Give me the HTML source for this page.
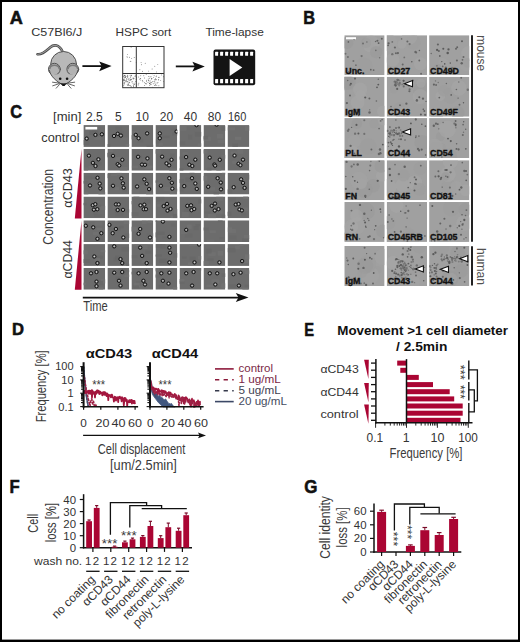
<!DOCTYPE html>
<html><head><meta charset="utf-8"><style>
html,body{margin:0;padding:0;background:#fff;}
svg{display:block;font-family:"Liberation Sans", sans-serif;}
</style></head><body>
<svg width="520" height="642" viewBox="0 0 520 642">
<rect x="0" y="0" width="520" height="642" fill="#000"/>
<rect x="2" y="2" width="516" height="637.6" fill="#fff"/>
<text x="9.8" y="23.8" font-size="17.5" text-anchor="start" font-weight="bold" fill="#111" textLength="13.1" lengthAdjust="spacingAndGlyphs" stroke="#111" stroke-width="0.55">A</text>
<text x="31.3" y="35.8" font-size="11.2" text-anchor="start" font-weight="normal" fill="#333" textLength="51" lengthAdjust="spacingAndGlyphs" >C57Bl6/J</text>
<text x="115.6" y="35.8" font-size="11.2" text-anchor="start" font-weight="normal" fill="#333" textLength="55.7" lengthAdjust="spacingAndGlyphs" >HSPC sort</text>
<text x="205.4" y="35.8" font-size="11.2" text-anchor="start" font-weight="normal" fill="#333" textLength="58.4" lengthAdjust="spacingAndGlyphs" >Time-lapse</text>
<g stroke-linejoin="round" stroke-linecap="round">
<path d="M37.5,54.2 C42,55 46,51 50,47.5 C54,44 59,44.5 62.5,51.5" fill="none" stroke="#444" stroke-width="2.6"/>
<path d="M37.5,54.2 C42,55 46,51 50,47.5 C54,44 59,44.5 62.5,51.5" fill="none" stroke="#9a9a9a" stroke-width="1.1"/>
<ellipse cx="63.6" cy="64.2" rx="12.9" ry="12.7" fill="#b8b8b8" stroke="#505050" stroke-width="1"/>
<circle cx="54.4" cy="69.2" r="5.9" fill="#b2b2b2" stroke="#505050" stroke-width="1"/>
<path d="M49.8,68.6 C50.4,64.2 58.4,64.2 59.199999999999996,68.6" fill="none" stroke="#7a7a7a" stroke-width="1.5"/>
<circle cx="72.8" cy="69.2" r="5.9" fill="#b2b2b2" stroke="#505050" stroke-width="1"/>
<path d="M68.2,68.6 C68.8,64.2 76.8,64.2 77.6,68.6" fill="none" stroke="#7a7a7a" stroke-width="1.5"/>
<path d="M49.4,70.5 C51,77 56,81 63.6,85.4 C71.2,81 76.2,77 77.8,70.5 C75,74.5 71,75.2 66.5,73.5 L63.6,72 L60.7,73.5 C56.2,75.2 52.2,74.5 49.4,70.5 Z" fill="#b8b8b8"/>
<path d="M49.4,70.5 C51,77 56,81 63.6,85.4 C71.2,81 76.2,77 77.8,70.5" fill="none" stroke="#505050" stroke-width="1"/>
<path d="M58,82.6 Q63.6,84 69.2,82.6 L63.6,86 Z" fill="#333"/>
<circle cx="60.2" cy="78.8" r="1.3" fill="#111"/><circle cx="67.1" cy="78.8" r="1.3" fill="#111"/>
<ellipse cx="63.6" cy="85" rx="1.6" ry="1.1" fill="#111"/>
<line x1="58.6" y1="83" x2="52.5" y2="82.2" stroke="#333" stroke-width="0.75"/>
<line x1="58.8" y1="83.8" x2="52.7" y2="85.8" stroke="#333" stroke-width="0.75"/>
<line x1="59.5" y1="84.5" x2="56.2" y2="88.2" stroke="#333" stroke-width="0.75"/>
<line x1="68.6" y1="83" x2="74.7" y2="82.2" stroke="#333" stroke-width="0.75"/>
<line x1="68.4" y1="83.8" x2="74.5" y2="85.8" stroke="#333" stroke-width="0.75"/>
<line x1="67.7" y1="84.5" x2="71" y2="88.2" stroke="#333" stroke-width="0.75"/>
</g>
<line x1="82.4" y1="66.1" x2="102.6" y2="66.1" stroke="#111" stroke-width="1.8"/>
<path d="M99.19999999999999,61.39999999999999 L111.6,66.1 L99.19999999999999,71.3 L101.6,66.1 Z" fill="#111"/>
<line x1="175.8" y1="66.4" x2="195.8" y2="66.4" stroke="#111" stroke-width="1.8"/>
<path d="M192.4,61.7 L204.8,66.4 L192.4,71.60000000000001 L194.8,66.4 Z" fill="#111"/>
<rect x="122.7" y="46.5" width="41.3" height="41.2" fill="#fff" stroke="#333" stroke-width="1"/>
<line x1="136.3" y1="46.5" x2="136.3" y2="87.7" stroke="#333" stroke-width="1"/>
<line x1="122.7" y1="73.5" x2="164" y2="73.5" stroke="#333" stroke-width="1"/>
<circle cx="127.4" cy="76.4" r="0.45" fill="#444"/>
<circle cx="131.3" cy="75.4" r="0.45" fill="#444"/>
<circle cx="129.9" cy="79.1" r="0.45" fill="#444"/>
<circle cx="124.2" cy="80.8" r="0.45" fill="#444"/>
<circle cx="123.9" cy="79.9" r="0.45" fill="#444"/>
<circle cx="124.3" cy="75.6" r="0.45" fill="#444"/>
<circle cx="128.6" cy="84.8" r="0.45" fill="#444"/>
<circle cx="125.0" cy="77.3" r="0.45" fill="#444"/>
<circle cx="131.0" cy="86.3" r="0.45" fill="#444"/>
<circle cx="130.4" cy="79.5" r="0.45" fill="#444"/>
<circle cx="135.2" cy="75.1" r="0.45" fill="#444"/>
<circle cx="133.8" cy="78.1" r="0.45" fill="#444"/>
<circle cx="125.2" cy="76.0" r="0.45" fill="#444"/>
<circle cx="127.2" cy="84.7" r="0.45" fill="#444"/>
<circle cx="125.7" cy="81.8" r="0.45" fill="#444"/>
<circle cx="131.2" cy="79.2" r="0.45" fill="#444"/>
<circle cx="130.1" cy="75.3" r="0.45" fill="#444"/>
<circle cx="124.2" cy="77.1" r="0.45" fill="#444"/>
<circle cx="131.7" cy="79.8" r="0.45" fill="#444"/>
<circle cx="127.3" cy="81.8" r="0.45" fill="#444"/>
<circle cx="128.9" cy="78.2" r="0.45" fill="#444"/>
<circle cx="133.0" cy="83.2" r="0.45" fill="#444"/>
<circle cx="126.4" cy="81.7" r="0.45" fill="#444"/>
<circle cx="129.8" cy="85.4" r="0.45" fill="#444"/>
<circle cx="132.3" cy="78.1" r="0.45" fill="#444"/>
<circle cx="135.3" cy="76.0" r="0.45" fill="#444"/>
<circle cx="128.5" cy="84.0" r="0.45" fill="#444"/>
<circle cx="125.3" cy="80.6" r="0.45" fill="#444"/>
<circle cx="124.0" cy="82.9" r="0.45" fill="#444"/>
<circle cx="132.7" cy="81.7" r="0.45" fill="#444"/>
<circle cx="134.0" cy="78.4" r="0.45" fill="#444"/>
<circle cx="131.8" cy="81.9" r="0.45" fill="#444"/>
<circle cx="130.5" cy="80.2" r="0.45" fill="#444"/>
<circle cx="133.6" cy="86.3" r="0.45" fill="#444"/>
<circle cx="129.2" cy="82.8" r="0.45" fill="#444"/>
<circle cx="124.2" cy="83.3" r="0.45" fill="#444"/>
<circle cx="131.3" cy="86.9" r="0.45" fill="#444"/>
<circle cx="133.4" cy="78.1" r="0.45" fill="#444"/>
<circle cx="128.1" cy="82.9" r="0.45" fill="#444"/>
<circle cx="123.8" cy="80.3" r="0.45" fill="#444"/>
<circle cx="125.5" cy="76.0" r="0.45" fill="#444"/>
<circle cx="124.2" cy="84.1" r="0.45" fill="#444"/>
<circle cx="125.1" cy="77.6" r="0.45" fill="#444"/>
<circle cx="128.2" cy="85.4" r="0.45" fill="#444"/>
<circle cx="124.5" cy="80.1" r="0.45" fill="#444"/>
<circle cx="130.1" cy="85.5" r="0.45" fill="#444"/>
<circle cx="133.3" cy="85.3" r="0.45" fill="#444"/>
<circle cx="126.8" cy="79.7" r="0.45" fill="#444"/>
<circle cx="127.8" cy="85.6" r="0.45" fill="#444"/>
<circle cx="135.0" cy="76.4" r="0.45" fill="#444"/>
<circle cx="125.6" cy="77.4" r="0.45" fill="#444"/>
<circle cx="126.3" cy="80.6" r="0.45" fill="#444"/>
<circle cx="130.6" cy="77.8" r="0.45" fill="#444"/>
<circle cx="123.5" cy="79.7" r="0.45" fill="#444"/>
<circle cx="127.9" cy="81.6" r="0.45" fill="#444"/>
<circle cx="134.9" cy="83.1" r="0.45" fill="#444"/>
<circle cx="129.7" cy="82.2" r="0.45" fill="#444"/>
<circle cx="131.6" cy="75.2" r="0.45" fill="#444"/>
<circle cx="134.3" cy="84.2" r="0.45" fill="#444"/>
<circle cx="134.0" cy="84.5" r="0.45" fill="#444"/>
<circle cx="128.2" cy="79.5" r="0.45" fill="#444"/>
<circle cx="124.7" cy="82.4" r="0.45" fill="#444"/>
<circle cx="124.2" cy="75.3" r="0.45" fill="#444"/>
<circle cx="126.0" cy="76.5" r="0.45" fill="#444"/>
<circle cx="127.6" cy="75.2" r="0.45" fill="#444"/>
<circle cx="123.5" cy="76.4" r="0.45" fill="#444"/>
<circle cx="124.7" cy="79.0" r="0.45" fill="#444"/>
<circle cx="123.8" cy="85.4" r="0.45" fill="#444"/>
<circle cx="130.9" cy="76.4" r="0.45" fill="#444"/>
<circle cx="126.5" cy="78.8" r="0.45" fill="#444"/>
<circle cx="127.9" cy="76.0" r="0.45" fill="#444"/>
<circle cx="133.7" cy="86.9" r="0.45" fill="#444"/>
<circle cx="129.1" cy="80.5" r="0.45" fill="#444"/>
<circle cx="124.5" cy="75.8" r="0.45" fill="#444"/>
<circle cx="127.6" cy="77.8" r="0.45" fill="#444"/>
<circle cx="151.7" cy="78.8" r="0.45" fill="#444"/>
<circle cx="163.4" cy="81.6" r="0.45" fill="#444"/>
<circle cx="146.7" cy="80.2" r="0.45" fill="#444"/>
<circle cx="148.6" cy="80.3" r="0.45" fill="#444"/>
<circle cx="133.6" cy="78.9" r="0.45" fill="#444"/>
<circle cx="156.1" cy="76.8" r="0.45" fill="#444"/>
<circle cx="149.6" cy="83.6" r="0.45" fill="#444"/>
<circle cx="155.1" cy="85.3" r="0.45" fill="#444"/>
<circle cx="139.8" cy="79.4" r="0.45" fill="#444"/>
<circle cx="148.0" cy="82.5" r="0.45" fill="#444"/>
<circle cx="156.6" cy="71.9" r="0.45" fill="#444"/>
<circle cx="156.5" cy="75.9" r="0.45" fill="#444"/>
<circle cx="154.1" cy="75.7" r="0.45" fill="#444"/>
<circle cx="151.1" cy="84.3" r="0.45" fill="#444"/>
<circle cx="149.1" cy="81.1" r="0.45" fill="#444"/>
<circle cx="154.8" cy="81.0" r="0.45" fill="#444"/>
<circle cx="149.5" cy="85.4" r="0.45" fill="#444"/>
<circle cx="156.3" cy="79.6" r="0.45" fill="#444"/>
<circle cx="163.4" cy="76.8" r="0.45" fill="#444"/>
<circle cx="155.5" cy="79.6" r="0.45" fill="#444"/>
<circle cx="150.8" cy="82.8" r="0.45" fill="#444"/>
<circle cx="151.3" cy="82.5" r="0.45" fill="#444"/>
<circle cx="140.8" cy="75.7" r="0.45" fill="#444"/>
<circle cx="153.7" cy="77.4" r="0.45" fill="#444"/>
<circle cx="143.8" cy="75.8" r="0.45" fill="#444"/>
<circle cx="157.6" cy="82.9" r="0.45" fill="#444"/>
<circle cx="158.8" cy="77.5" r="0.45" fill="#444"/>
<circle cx="150.0" cy="76.9" r="0.45" fill="#444"/>
<circle cx="154.6" cy="85.6" r="0.45" fill="#444"/>
<circle cx="144.7" cy="85.5" r="0.45" fill="#444"/>
<circle cx="155.9" cy="79.9" r="0.45" fill="#444"/>
<circle cx="138.2" cy="85.0" r="0.45" fill="#444"/>
<circle cx="149.4" cy="78.6" r="0.45" fill="#444"/>
<circle cx="152.4" cy="81.8" r="0.45" fill="#444"/>
<circle cx="159.0" cy="77.2" r="0.45" fill="#444"/>
<circle cx="156.8" cy="85.3" r="0.45" fill="#444"/>
<circle cx="158.7" cy="79.9" r="0.45" fill="#444"/>
<circle cx="145.5" cy="83.8" r="0.45" fill="#444"/>
<circle cx="150.7" cy="80.9" r="0.45" fill="#444"/>
<circle cx="158.5" cy="79.7" r="0.45" fill="#444"/>
<circle cx="136.2" cy="79.3" r="0.45" fill="#444"/>
<circle cx="138.9" cy="83.1" r="0.45" fill="#444"/>
<circle cx="151.9" cy="78.5" r="0.45" fill="#444"/>
<circle cx="149.9" cy="83.2" r="0.45" fill="#444"/>
<circle cx="150.5" cy="84.7" r="0.45" fill="#444"/>
<circle cx="149.6" cy="83.8" r="0.45" fill="#444"/>
<circle cx="158.9" cy="85.7" r="0.45" fill="#444"/>
<circle cx="146.0" cy="83.3" r="0.45" fill="#444"/>
<circle cx="138.7" cy="77.0" r="0.45" fill="#444"/>
<circle cx="138.2" cy="83.9" r="0.45" fill="#444"/>
<circle cx="142.6" cy="80.5" r="0.45" fill="#444"/>
<circle cx="148.8" cy="80.4" r="0.45" fill="#444"/>
<circle cx="146.5" cy="81.2" r="0.45" fill="#444"/>
<circle cx="160.7" cy="80.6" r="0.45" fill="#444"/>
<circle cx="153.2" cy="83.7" r="0.45" fill="#444"/>
<circle cx="148.8" cy="76.5" r="0.45" fill="#444"/>
<circle cx="146.7" cy="83.9" r="0.45" fill="#444"/>
<circle cx="140.1" cy="78.6" r="0.45" fill="#444"/>
<circle cx="156.0" cy="83.0" r="0.45" fill="#444"/>
<circle cx="150.0" cy="83.1" r="0.45" fill="#444"/>
<circle cx="151.0" cy="76.7" r="0.45" fill="#444"/>
<circle cx="140.6" cy="78.5" r="0.45" fill="#444"/>
<circle cx="155.5" cy="78.7" r="0.45" fill="#444"/>
<circle cx="144.6" cy="78.0" r="0.45" fill="#444"/>
<circle cx="140.8" cy="80.1" r="0.45" fill="#444"/>
<circle cx="142.9" cy="81.7" r="0.45" fill="#444"/>
<circle cx="135.8" cy="81.5" r="0.45" fill="#444"/>
<circle cx="146.2" cy="74.3" r="0.45" fill="#444"/>
<circle cx="154.3" cy="79.6" r="0.45" fill="#444"/>
<circle cx="136.6" cy="77.7" r="0.45" fill="#444"/>
<circle cx="151.7" cy="79.0" r="0.45" fill="#444"/>
<circle cx="154.7" cy="82.9" r="0.45" fill="#444"/>
<circle cx="154.0" cy="81.5" r="0.45" fill="#444"/>
<circle cx="158.0" cy="82.6" r="0.45" fill="#444"/>
<circle cx="152.7" cy="73.8" r="0.45" fill="#444"/>
<circle cx="155.4" cy="84.7" r="0.45" fill="#444"/>
<circle cx="148.2" cy="79.0" r="0.45" fill="#444"/>
<circle cx="161.6" cy="74.9" r="0.45" fill="#444"/>
<circle cx="152.8" cy="87.2" r="0.45" fill="#444"/>
<circle cx="144.4" cy="82.7" r="0.45" fill="#444"/>
<circle cx="134.2" cy="57.5" r="0.45" fill="#444"/>
<circle cx="130.9" cy="61.6" r="0.45" fill="#444"/>
<circle cx="127.2" cy="57.6" r="0.45" fill="#444"/>
<circle cx="130.2" cy="61.3" r="0.45" fill="#444"/>
<circle cx="129.4" cy="57.2" r="0.45" fill="#444"/>
<circle cx="127.0" cy="56.6" r="0.45" fill="#444"/>
<circle cx="131.7" cy="58.4" r="0.45" fill="#444"/>
<circle cx="127.4" cy="54.6" r="0.45" fill="#444"/>
<circle cx="136.2" cy="62.6" r="0.45" fill="#444"/>
<circle cx="131.1" cy="47.6" r="0.45" fill="#444"/>
<circle cx="141.4" cy="64.7" r="0.45" fill="#444"/>
<circle cx="139.9" cy="69.8" r="0.45" fill="#444"/>
<circle cx="145.2" cy="63.3" r="0.45" fill="#444"/>
<circle cx="148.7" cy="71.1" r="0.45" fill="#444"/>
<circle cx="157.8" cy="64.6" r="0.45" fill="#444"/>
<circle cx="142.4" cy="71.2" r="0.45" fill="#444"/>
<circle cx="152.1" cy="69.0" r="0.45" fill="#444"/>
<circle cx="141.1" cy="62.6" r="0.45" fill="#444"/>
<circle cx="154.8" cy="66.3" r="0.45" fill="#444"/>
<rect x="213.5" y="49.5" width="41.7" height="35.7" rx="2" fill="#141414"/>
<rect x="215.1" y="51.7" width="3" height="4" rx="0.5" fill="#fff"/>
<rect x="215.1" y="79" width="3" height="4.3" rx="0.5" fill="#fff"/>
<rect x="220.1" y="51.7" width="3" height="4" rx="0.5" fill="#fff"/>
<rect x="220.1" y="79" width="3" height="4.3" rx="0.5" fill="#fff"/>
<rect x="225.1" y="51.7" width="3" height="4" rx="0.5" fill="#fff"/>
<rect x="225.1" y="79" width="3" height="4.3" rx="0.5" fill="#fff"/>
<rect x="230.1" y="51.7" width="3" height="4" rx="0.5" fill="#fff"/>
<rect x="230.1" y="79" width="3" height="4.3" rx="0.5" fill="#fff"/>
<rect x="235.1" y="51.7" width="3" height="4" rx="0.5" fill="#fff"/>
<rect x="235.1" y="79" width="3" height="4.3" rx="0.5" fill="#fff"/>
<rect x="240.1" y="51.7" width="3" height="4" rx="0.5" fill="#fff"/>
<rect x="240.1" y="79" width="3" height="4.3" rx="0.5" fill="#fff"/>
<rect x="245.1" y="51.7" width="3" height="4" rx="0.5" fill="#fff"/>
<rect x="245.1" y="79" width="3" height="4.3" rx="0.5" fill="#fff"/>
<rect x="250.1" y="51.7" width="3" height="4" rx="0.5" fill="#fff"/>
<rect x="250.1" y="79" width="3" height="4.3" rx="0.5" fill="#fff"/>
<path d="M229.6,58.9 L242.3,67.4 L229.6,76 Z" fill="#fff"/>
<text x="303.2" y="24" font-size="17.5" text-anchor="start" font-weight="bold" fill="#111" textLength="11.8" lengthAdjust="spacingAndGlyphs" stroke="#111" stroke-width="0.55">B</text>
<clipPath id="cp101"><rect x="344.3" y="35.2" width="40.3" height="40"/></clipPath><g clip-path="url(#cp101)">
<rect x="344.3" y="35.2" width="40.3" height="40" fill="#a0a0a0"/>
<circle cx="367.7" cy="43.0" r="6.3" fill="#9c9c9c" opacity="0.6"/>
<circle cx="371.0" cy="43.8" r="8.6" fill="#a6a6a6" opacity="0.6"/>
<circle cx="363.9" cy="66.5" r="8.9" fill="#9c9c9c" opacity="0.6"/>
<circle cx="347.1" cy="42.9" r="6.2" fill="#999999" opacity="0.6"/>
<circle cx="366.0" cy="42.9" r="5.2" fill="#9c9c9c" opacity="0.6"/>
<circle cx="376.2" cy="52.1" r="6.2" fill="#999999" opacity="0.6"/>
<circle cx="353.4" cy="61.0" r="1.02" fill="#707070"/>
<circle cx="370.8" cy="69.7" r="0.89" fill="#626262"/>
<circle cx="354.1" cy="39.1" r="1.10" fill="#626262"/>
<circle cx="345.5" cy="53.8" r="0.97" fill="#707070"/>
<circle cx="375.8" cy="50.3" r="0.87" fill="#707070"/>
<circle cx="366.9" cy="42.0" r="0.67" fill="#666"/>
<circle cx="355.9" cy="65.2" r="0.89" fill="#707070"/>
<circle cx="379.6" cy="57.8" r="0.75" fill="#707070"/>
<circle cx="378.6" cy="43.1" r="0.97" fill="#5a5a5a"/>
<circle cx="381.8" cy="38.7" r="1.00" fill="#626262"/>
<circle cx="377.4" cy="40.7" r="1.07" fill="#626262"/>
<circle cx="375.6" cy="41.5" r="0.76" fill="#666"/>
<circle cx="373.6" cy="70.1" r="0.92" fill="#666"/>
<circle cx="348.4" cy="41.9" r="0.84" fill="#626262"/>
<circle cx="347.9" cy="57.0" r="1.06" fill="#707070"/>
<circle cx="363.0" cy="43.5" r="1.06" fill="#707070"/>
<circle cx="348.8" cy="71.8" r="0.80" fill="#666"/>
<circle cx="361.6" cy="56.1" r="1.13" fill="#707070"/>
</g>
<text x="345.3" y="73.6" font-size="9.8" font-weight="bold" fill="#111" stroke="#111" stroke-width="0.35" transform="translate(345.3,0) scale(0.9,1) translate(-345.3,0)">Unc.</text>
<clipPath id="cp102"><rect x="386.7" y="35.2" width="40.3" height="40"/></clipPath><g clip-path="url(#cp102)">
<rect x="386.7" y="35.2" width="40.3" height="40" fill="#a0a0a0"/>
<circle cx="392.7" cy="59.8" r="6.8" fill="#a6a6a6" opacity="0.6"/>
<circle cx="413.3" cy="42.5" r="7.1" fill="#9c9c9c" opacity="0.6"/>
<circle cx="409.5" cy="36.9" r="7.7" fill="#a6a6a6" opacity="0.6"/>
<circle cx="401.9" cy="44.3" r="4.4" fill="#a6a6a6" opacity="0.6"/>
<circle cx="388.8" cy="42.6" r="8.5" fill="#a4a4a4" opacity="0.6"/>
<circle cx="420.4" cy="63.8" r="6.5" fill="#a6a6a6" opacity="0.6"/>
<circle cx="411.8" cy="61.7" r="0.80" fill="#5a5a5a"/>
<circle cx="419.4" cy="50.5" r="0.77" fill="#626262"/>
<circle cx="416.3" cy="52.6" r="0.89" fill="#666"/>
<circle cx="401.6" cy="38.9" r="0.79" fill="#707070"/>
<circle cx="404.3" cy="57.4" r="0.91" fill="#707070"/>
<circle cx="419.3" cy="60.5" r="0.93" fill="#626262"/>
<circle cx="421.1" cy="73.8" r="0.96" fill="#666"/>
<circle cx="402.7" cy="64.4" r="1.01" fill="#666"/>
<circle cx="408.1" cy="73.2" r="0.97" fill="#626262"/>
<circle cx="392.3" cy="54.2" r="1.17" fill="#707070"/>
<circle cx="390.5" cy="68.8" r="1.18" fill="#626262"/>
<circle cx="415.5" cy="52.0" r="1.18" fill="#666"/>
<circle cx="395.9" cy="53.2" r="1.05" fill="#666"/>
<circle cx="407.4" cy="41.4" r="1.01" fill="#666"/>
<circle cx="388.1" cy="45.4" r="0.82" fill="#5a5a5a"/>
<circle cx="392.3" cy="41.9" r="0.90" fill="#707070"/>
<circle cx="397.9" cy="53.1" r="1.10" fill="#626262"/>
<circle cx="394.9" cy="47.5" r="1.10" fill="#666"/>
<circle cx="388.6" cy="43.3" r="1.12" fill="#626262"/>
<circle cx="409.6" cy="44.1" r="1.09" fill="#707070"/>
</g>
<text x="387.7" y="73.6" font-size="9.8" font-weight="bold" fill="#111" stroke="#111" stroke-width="0.35" transform="translate(387.7,0) scale(0.9,1) translate(-387.7,0)">CD27</text>
<clipPath id="cp103"><rect x="429.1" y="35.2" width="40.3" height="40"/></clipPath><g clip-path="url(#cp103)">
<rect x="429.1" y="35.2" width="40.3" height="40" fill="#a0a0a0"/>
<circle cx="468.6" cy="53.5" r="7.4" fill="#a6a6a6" opacity="0.6"/>
<circle cx="465.9" cy="64.8" r="6.3" fill="#a4a4a4" opacity="0.6"/>
<circle cx="442.7" cy="62.2" r="4.4" fill="#a4a4a4" opacity="0.6"/>
<circle cx="438.1" cy="68.3" r="4.2" fill="#999999" opacity="0.6"/>
<circle cx="467.9" cy="62.9" r="4.9" fill="#9c9c9c" opacity="0.6"/>
<circle cx="445.6" cy="64.5" r="5.1" fill="#a4a4a4" opacity="0.6"/>
<circle cx="452.0" cy="67.6" r="0.80" fill="#707070"/>
<circle cx="437.9" cy="44.5" r="1.07" fill="#626262"/>
<circle cx="461.7" cy="63.3" r="1.19" fill="#626262"/>
<circle cx="450.3" cy="63.1" r="0.83" fill="#626262"/>
<circle cx="462.0" cy="41.2" r="0.96" fill="#5a5a5a"/>
<circle cx="448.5" cy="49.4" r="1.15" fill="#5a5a5a"/>
<circle cx="441.8" cy="61.6" r="0.72" fill="#5a5a5a"/>
<circle cx="457.2" cy="47.3" r="0.98" fill="#626262"/>
<circle cx="444.7" cy="63.9" r="0.81" fill="#5a5a5a"/>
<circle cx="436.9" cy="65.8" r="0.84" fill="#707070"/>
<circle cx="463.5" cy="56.9" r="0.99" fill="#666"/>
<circle cx="438.9" cy="50.9" r="1.00" fill="#626262"/>
<circle cx="431.2" cy="53.5" r="0.70" fill="#666"/>
<circle cx="456.0" cy="48.7" r="1.06" fill="#666"/>
<circle cx="450.6" cy="73.5" r="0.84" fill="#666"/>
<circle cx="437.1" cy="50.0" r="1.14" fill="#5a5a5a"/>
<circle cx="456.9" cy="60.5" r="1.05" fill="#626262"/>
<circle cx="443.3" cy="48.8" r="1.03" fill="#5a5a5a"/>
<circle cx="462.5" cy="59.8" r="0.88" fill="#666"/>
<circle cx="445.8" cy="67.5" r="1.11" fill="#707070"/>
<circle cx="453.0" cy="71.1" r="0.97" fill="#626262"/>
<circle cx="439.8" cy="56.0" r="0.89" fill="#626262"/>
<circle cx="442.7" cy="66.4" r="0.90" fill="#666"/>
<circle cx="447.7" cy="53.1" r="1.24" fill="#5a5a5a"/>
</g>
<text x="430.1" y="73.6" font-size="9.8" font-weight="bold" fill="#111" stroke="#111" stroke-width="0.35" transform="translate(430.1,0) scale(0.9,1) translate(-430.1,0)">CD49D</text>
<clipPath id="cp104"><rect x="344.3" y="76.7" width="40.3" height="40"/></clipPath><g clip-path="url(#cp104)">
<rect x="344.3" y="76.7" width="40.3" height="40" fill="#a0a0a0"/>
<circle cx="383.0" cy="111.6" r="6.0" fill="#a6a6a6" opacity="0.6"/>
<circle cx="344.6" cy="81.7" r="8.6" fill="#999999" opacity="0.6"/>
<circle cx="348.5" cy="82.6" r="7.3" fill="#999999" opacity="0.6"/>
<circle cx="357.6" cy="102.5" r="6.9" fill="#a6a6a6" opacity="0.6"/>
<circle cx="360.1" cy="89.6" r="7.1" fill="#a6a6a6" opacity="0.6"/>
<circle cx="360.8" cy="95.4" r="5.3" fill="#a6a6a6" opacity="0.6"/>
<circle cx="378.3" cy="79.2" r="0.67" fill="#5a5a5a"/>
<circle cx="377.0" cy="87.3" r="0.90" fill="#5a5a5a"/>
<circle cx="358.7" cy="115.4" r="0.77" fill="#5a5a5a"/>
<circle cx="346.9" cy="103.1" r="1.13" fill="#626262"/>
<circle cx="369.5" cy="112.4" r="1.25" fill="#666"/>
<circle cx="378.3" cy="84.6" r="0.97" fill="#5a5a5a"/>
<circle cx="350.9" cy="83.8" r="1.02" fill="#5a5a5a"/>
<circle cx="347.7" cy="80.4" r="0.73" fill="#666"/>
<circle cx="350.0" cy="95.6" r="0.99" fill="#626262"/>
<circle cx="369.4" cy="98.5" r="0.97" fill="#626262"/>
<circle cx="357.2" cy="109.7" r="1.07" fill="#626262"/>
<circle cx="365.2" cy="97.5" r="1.09" fill="#5a5a5a"/>
<circle cx="355.0" cy="78.6" r="1.12" fill="#626262"/>
<circle cx="350.1" cy="85.0" r="0.80" fill="#5a5a5a"/>
<circle cx="376.4" cy="101.0" r="0.83" fill="#666"/>
<circle cx="369.7" cy="109.8" r="0.66" fill="#666"/>
</g>
<text x="345.3" y="115.1" font-size="9.8" font-weight="bold" fill="#111" stroke="#111" stroke-width="0.35" transform="translate(345.3,0) scale(0.9,1) translate(-345.3,0)">IgM</text>
<clipPath id="cp105"><rect x="386.7" y="76.7" width="40.3" height="40"/></clipPath><g clip-path="url(#cp105)">
<rect x="386.7" y="76.7" width="40.3" height="40" fill="#a0a0a0"/>
<circle cx="422.1" cy="90.7" r="8.8" fill="#999999" opacity="0.6"/>
<circle cx="399.3" cy="107.4" r="5.5" fill="#9c9c9c" opacity="0.6"/>
<circle cx="420.9" cy="83.3" r="4.5" fill="#a6a6a6" opacity="0.6"/>
<circle cx="402.7" cy="113.9" r="7.1" fill="#a4a4a4" opacity="0.6"/>
<circle cx="420.2" cy="96.6" r="7.5" fill="#a6a6a6" opacity="0.6"/>
<circle cx="394.1" cy="89.1" r="4.3" fill="#9c9c9c" opacity="0.6"/>
<circle cx="426.0" cy="101.4" r="0.72" fill="#666"/>
<circle cx="425.1" cy="114.8" r="1.09" fill="#626262"/>
<circle cx="424.3" cy="111.1" r="0.99" fill="#626262"/>
<circle cx="419.3" cy="97.3" r="1.00" fill="#5a5a5a"/>
<circle cx="409.4" cy="91.3" r="1.07" fill="#666"/>
<circle cx="423.0" cy="98.7" r="1.16" fill="#626262"/>
<circle cx="420.9" cy="114.5" r="1.00" fill="#5a5a5a"/>
<circle cx="408.7" cy="85.4" r="1.02" fill="#666"/>
<circle cx="400.0" cy="105.2" r="0.92" fill="#666"/>
<circle cx="412.9" cy="80.5" r="1.03" fill="#707070"/>
<circle cx="409.6" cy="89.4" r="1.04" fill="#707070"/>
<circle cx="403.6" cy="80.8" r="1.13" fill="#5a5a5a"/>
<circle cx="406.5" cy="84.1" r="1.17" fill="#707070"/>
<circle cx="391.0" cy="106.6" r="0.82" fill="#666"/>
<circle cx="396.7" cy="82.3" r="0.87" fill="#666"/>
<circle cx="423.3" cy="109.2" r="0.82" fill="#5a5a5a"/>
<circle cx="406.4" cy="103.7" r="1.15" fill="#626262"/>
<circle cx="416.9" cy="100.5" r="1.23" fill="#666"/>
<circle cx="416.8" cy="99.7" r="0.68" fill="#626262"/>
<circle cx="399.5" cy="80.5" r="1.05" fill="#7c7c7c"/>
<circle cx="397.3" cy="82.0" r="0.61" fill="#6e6e6e"/>
<circle cx="395.8" cy="82.4" r="1.09" fill="#5e5e5e"/>
<circle cx="397.2" cy="88.9" r="1.08" fill="#5e5e5e"/>
<circle cx="397.7" cy="80.0" r="1.15" fill="#5e5e5e"/>
<circle cx="397.6" cy="84.0" r="0.65" fill="#7c7c7c"/>
<circle cx="400.1" cy="82.8" r="0.79" fill="#7c7c7c"/>
<circle cx="394.7" cy="84.9" r="0.89" fill="#6e6e6e"/>
<circle cx="400.1" cy="84.0" r="0.68" fill="#6e6e6e"/>
<circle cx="396.8" cy="82.6" r="0.75" fill="#7c7c7c"/>
<circle cx="398.5" cy="84.3" r="1.13" fill="#7c7c7c"/>
<circle cx="399.2" cy="84.5" r="0.93" fill="#7c7c7c"/>
<circle cx="397.3" cy="79.8" r="0.91" fill="#6e6e6e"/>
<circle cx="403.7" cy="86.4" r="1.04" fill="#6e6e6e"/>
<circle cx="394.4" cy="81.7" r="1.01" fill="#7c7c7c"/>
<circle cx="396.1" cy="83.6" r="1.04" fill="#7c7c7c"/>
<circle cx="402.2" cy="84.4" r="0.93" fill="#7c7c7c"/>
<circle cx="395.0" cy="81.4" r="0.89" fill="#6e6e6e"/>
<circle cx="395.3" cy="83.9" r="0.93" fill="#6e6e6e"/>
<circle cx="399.2" cy="85.5" r="1.00" fill="#7c7c7c"/>
<circle cx="399.5" cy="83.0" r="1.02" fill="#6e6e6e"/>
<circle cx="395.7" cy="85.5" r="1.15" fill="#5e5e5e"/>
<path d="M404.3,83.7 L412.5,80.60000000000001 L412.5,86.8 Z" fill="#fff" stroke="#111" stroke-width="1.1" stroke-linejoin="miter"/>
</g>
<text x="387.7" y="115.1" font-size="9.8" font-weight="bold" fill="#111" stroke="#111" stroke-width="0.35" transform="translate(387.7,0) scale(0.9,1) translate(-387.7,0)">CD43</text>
<clipPath id="cp106"><rect x="429.1" y="76.7" width="40.3" height="40"/></clipPath><g clip-path="url(#cp106)">
<rect x="429.1" y="76.7" width="40.3" height="40" fill="#a0a0a0"/>
<circle cx="457.7" cy="112.7" r="6.8" fill="#999999" opacity="0.6"/>
<circle cx="450.3" cy="95.7" r="8.0" fill="#9c9c9c" opacity="0.6"/>
<circle cx="436.7" cy="115.6" r="6.2" fill="#9c9c9c" opacity="0.6"/>
<circle cx="458.9" cy="88.0" r="7.7" fill="#a6a6a6" opacity="0.6"/>
<circle cx="440.3" cy="96.1" r="4.9" fill="#a6a6a6" opacity="0.6"/>
<circle cx="443.8" cy="90.8" r="5.7" fill="#9c9c9c" opacity="0.6"/>
<circle cx="435.5" cy="80.9" r="0.71" fill="#707070"/>
<circle cx="433.9" cy="84.6" r="1.10" fill="#626262"/>
<circle cx="456.4" cy="89.5" r="0.80" fill="#626262"/>
<circle cx="446.4" cy="83.5" r="0.74" fill="#666"/>
<circle cx="436.1" cy="84.9" r="0.99" fill="#666"/>
<circle cx="467.8" cy="89.7" r="1.22" fill="#707070"/>
<circle cx="451.2" cy="94.9" r="0.88" fill="#626262"/>
<circle cx="439.3" cy="97.6" r="0.88" fill="#626262"/>
<circle cx="463.5" cy="102.7" r="0.73" fill="#5a5a5a"/>
<circle cx="458.1" cy="98.1" r="0.69" fill="#5a5a5a"/>
<circle cx="459.5" cy="104.8" r="0.94" fill="#666"/>
<circle cx="451.1" cy="109.0" r="0.78" fill="#5a5a5a"/>
<circle cx="458.8" cy="82.0" r="0.79" fill="#707070"/>
<circle cx="438.2" cy="82.5" r="0.66" fill="#707070"/>
<circle cx="455.8" cy="111.8" r="1.20" fill="#707070"/>
<circle cx="461.2" cy="77.8" r="0.96" fill="#666"/>
</g>
<text x="430.1" y="115.1" font-size="9.8" font-weight="bold" fill="#111" stroke="#111" stroke-width="0.35" transform="translate(430.1,0) scale(0.9,1) translate(-430.1,0)">CD49F</text>
<clipPath id="cp107"><rect x="344.3" y="118.1" width="40.3" height="40"/></clipPath><g clip-path="url(#cp107)">
<rect x="344.3" y="118.1" width="40.3" height="40" fill="#a0a0a0"/>
<circle cx="354.2" cy="141.4" r="6.4" fill="#a4a4a4" opacity="0.6"/>
<circle cx="356.8" cy="123.6" r="5.3" fill="#999999" opacity="0.6"/>
<circle cx="368.3" cy="146.5" r="8.2" fill="#9c9c9c" opacity="0.6"/>
<circle cx="352.0" cy="154.4" r="8.6" fill="#a6a6a6" opacity="0.6"/>
<circle cx="373.9" cy="123.7" r="4.6" fill="#9c9c9c" opacity="0.6"/>
<circle cx="382.8" cy="120.6" r="4.8" fill="#a6a6a6" opacity="0.6"/>
<circle cx="348.7" cy="129.5" r="0.91" fill="#666"/>
<circle cx="348.0" cy="130.8" r="1.20" fill="#707070"/>
<circle cx="380.6" cy="120.9" r="0.88" fill="#707070"/>
<circle cx="351.6" cy="127.4" r="0.71" fill="#626262"/>
<circle cx="380.0" cy="149.4" r="1.24" fill="#666"/>
<circle cx="371.4" cy="149.5" r="0.95" fill="#626262"/>
<circle cx="358.4" cy="133.6" r="1.02" fill="#5a5a5a"/>
<circle cx="364.3" cy="133.9" r="1.09" fill="#707070"/>
<circle cx="382.1" cy="119.6" r="0.89" fill="#707070"/>
<circle cx="355.1" cy="133.7" r="1.17" fill="#707070"/>
<circle cx="378.9" cy="154.0" r="1.20" fill="#666"/>
<circle cx="380.4" cy="153.2" r="1.21" fill="#626262"/>
<circle cx="350.6" cy="145.9" r="1.13" fill="#626262"/>
<circle cx="382.8" cy="144.6" r="0.91" fill="#5a5a5a"/>
<circle cx="356.5" cy="124.9" r="1.04" fill="#5a5a5a"/>
<circle cx="379.1" cy="128.5" r="0.85" fill="#666"/>
<circle cx="364.3" cy="120.2" r="1.07" fill="#707070"/>
<circle cx="354.5" cy="153.3" r="0.85" fill="#666"/>
</g>
<text x="345.3" y="156.5" font-size="9.8" font-weight="bold" fill="#111" stroke="#111" stroke-width="0.35" transform="translate(345.3,0) scale(0.9,1) translate(-345.3,0)">PLL</text>
<clipPath id="cp108"><rect x="386.7" y="118.1" width="40.3" height="40"/></clipPath><g clip-path="url(#cp108)">
<rect x="386.7" y="118.1" width="40.3" height="40" fill="#a0a0a0"/>
<circle cx="392.0" cy="150.7" r="7.6" fill="#a4a4a4" opacity="0.6"/>
<circle cx="401.9" cy="156.9" r="5.1" fill="#9c9c9c" opacity="0.6"/>
<circle cx="394.8" cy="152.3" r="4.6" fill="#a6a6a6" opacity="0.6"/>
<circle cx="390.1" cy="140.5" r="4.5" fill="#a4a4a4" opacity="0.6"/>
<circle cx="399.7" cy="157.6" r="5.1" fill="#a4a4a4" opacity="0.6"/>
<circle cx="422.1" cy="142.6" r="7.7" fill="#999999" opacity="0.6"/>
<circle cx="418.9" cy="136.1" r="0.86" fill="#707070"/>
<circle cx="425.6" cy="154.9" r="0.77" fill="#626262"/>
<circle cx="395.9" cy="120.0" r="0.69" fill="#5a5a5a"/>
<circle cx="425.4" cy="126.2" r="0.85" fill="#626262"/>
<circle cx="415.8" cy="119.5" r="1.13" fill="#666"/>
<circle cx="396.4" cy="132.9" r="0.76" fill="#666"/>
<circle cx="418.0" cy="149.1" r="1.16" fill="#666"/>
<circle cx="391.8" cy="143.5" r="0.69" fill="#666"/>
<circle cx="421.8" cy="124.3" r="0.80" fill="#5a5a5a"/>
<circle cx="418.0" cy="148.5" r="0.84" fill="#626262"/>
<circle cx="416.0" cy="136.1" r="0.89" fill="#707070"/>
<circle cx="415.7" cy="137.5" r="0.83" fill="#626262"/>
<circle cx="389.8" cy="136.9" r="0.76" fill="#666"/>
<circle cx="409.1" cy="156.0" r="1.00" fill="#626262"/>
<circle cx="396.8" cy="149.9" r="1.12" fill="#5a5a5a"/>
<circle cx="399.0" cy="146.4" r="1.18" fill="#5a5a5a"/>
<circle cx="405.0" cy="140.1" r="0.74" fill="#5a5a5a"/>
<circle cx="391.6" cy="143.8" r="0.95" fill="#5a5a5a"/>
<circle cx="419.1" cy="150.4" r="1.11" fill="#626262"/>
<circle cx="404.1" cy="156.8" r="0.88" fill="#707070"/>
<circle cx="421.7" cy="149.6" r="1.07" fill="#626262"/>
<circle cx="388.5" cy="142.6" r="0.93" fill="#626262"/>
<circle cx="410.9" cy="123.4" r="0.94" fill="#5a5a5a"/>
<circle cx="401.0" cy="139.2" r="1.03" fill="#5e5e5e"/>
<circle cx="391.0" cy="130.5" r="0.92" fill="#7c7c7c"/>
<circle cx="392.6" cy="132.2" r="0.96" fill="#7c7c7c"/>
<circle cx="400.6" cy="130.0" r="0.87" fill="#7c7c7c"/>
<circle cx="396.3" cy="133.8" r="0.83" fill="#5e5e5e"/>
<circle cx="399.1" cy="133.5" r="1.13" fill="#6e6e6e"/>
<circle cx="394.6" cy="132.4" r="0.64" fill="#5e5e5e"/>
<circle cx="398.2" cy="127.6" r="0.63" fill="#6e6e6e"/>
<circle cx="397.9" cy="133.6" r="0.95" fill="#6e6e6e"/>
<circle cx="400.0" cy="135.8" r="1.18" fill="#7c7c7c"/>
<circle cx="393.9" cy="139.5" r="0.75" fill="#5e5e5e"/>
<circle cx="401.4" cy="133.6" r="0.73" fill="#6e6e6e"/>
<circle cx="398.7" cy="127.5" r="0.97" fill="#6e6e6e"/>
<circle cx="393.9" cy="135.4" r="1.07" fill="#7c7c7c"/>
<circle cx="397.7" cy="134.1" r="1.04" fill="#5e5e5e"/>
<circle cx="390.2" cy="131.9" r="0.83" fill="#7c7c7c"/>
<circle cx="390.1" cy="134.4" r="1.17" fill="#6e6e6e"/>
<circle cx="388.4" cy="146.3" r="0.67" fill="#6e6e6e"/>
<circle cx="395.9" cy="133.3" r="0.92" fill="#6e6e6e"/>
<circle cx="396.0" cy="128.0" r="1.06" fill="#6e6e6e"/>
<circle cx="399.3" cy="127.7" r="0.85" fill="#7c7c7c"/>
<circle cx="394.1" cy="134.9" r="0.98" fill="#6e6e6e"/>
<circle cx="385.5" cy="124.8" r="0.63" fill="#5e5e5e"/>
<circle cx="391.9" cy="134.9" r="0.89" fill="#7c7c7c"/>
<circle cx="390.0" cy="133.2" r="1.03" fill="#5e5e5e"/>
<circle cx="394.4" cy="130.0" r="0.77" fill="#6e6e6e"/>
<circle cx="391.8" cy="130.6" r="0.97" fill="#7c7c7c"/>
<circle cx="399.0" cy="139.2" r="0.64" fill="#5e5e5e"/>
<circle cx="388.8" cy="133.3" r="0.74" fill="#5e5e5e"/>
<circle cx="387.6" cy="130.9" r="1.09" fill="#6e6e6e"/>
<circle cx="384.9" cy="140.4" r="0.68" fill="#6e6e6e"/>
<circle cx="388.6" cy="136.4" r="0.65" fill="#5e5e5e"/>
<circle cx="393.1" cy="140.3" r="0.76" fill="#6e6e6e"/>
<circle cx="389.9" cy="127.0" r="0.87" fill="#5e5e5e"/>
<circle cx="402.4" cy="135.9" r="0.90" fill="#6e6e6e"/>
<circle cx="399.3" cy="127.5" r="0.72" fill="#5e5e5e"/>
<circle cx="396.2" cy="130.8" r="0.61" fill="#6e6e6e"/>
<circle cx="392.5" cy="145.4" r="0.65" fill="#5e5e5e"/>
<circle cx="391.2" cy="134.6" r="0.95" fill="#7c7c7c"/>
<circle cx="385.1" cy="139.8" r="0.85" fill="#7c7c7c"/>
<circle cx="393.7" cy="130.4" r="1.10" fill="#5e5e5e"/>
<circle cx="392.6" cy="140.4" r="0.80" fill="#7c7c7c"/>
<circle cx="393.6" cy="130.9" r="0.64" fill="#7c7c7c"/>
<circle cx="381.6" cy="136.2" r="1.19" fill="#6e6e6e"/>
<circle cx="390.7" cy="142.1" r="0.87" fill="#5e5e5e"/>
<path d="M402.4,131.9 L410.59999999999997,128.8 L410.59999999999997,135.0 Z" fill="#fff" stroke="#111" stroke-width="1.1" stroke-linejoin="miter"/>
</g>
<text x="387.7" y="156.5" font-size="9.8" font-weight="bold" fill="#111" stroke="#111" stroke-width="0.35" transform="translate(387.7,0) scale(0.9,1) translate(-387.7,0)">CD44</text>
<clipPath id="cp109"><rect x="429.1" y="118.1" width="40.3" height="40"/></clipPath><g clip-path="url(#cp109)">
<rect x="429.1" y="118.1" width="40.3" height="40" fill="#a0a0a0"/>
<circle cx="440.4" cy="136.5" r="4.5" fill="#999999" opacity="0.6"/>
<circle cx="449.3" cy="156.4" r="7.9" fill="#999999" opacity="0.6"/>
<circle cx="447.3" cy="129.1" r="8.6" fill="#a6a6a6" opacity="0.6"/>
<circle cx="441.5" cy="147.2" r="4.3" fill="#9c9c9c" opacity="0.6"/>
<circle cx="436.1" cy="149.0" r="7.1" fill="#9c9c9c" opacity="0.6"/>
<circle cx="434.6" cy="147.1" r="8.4" fill="#a4a4a4" opacity="0.6"/>
<circle cx="463.1" cy="124.6" r="0.87" fill="#666"/>
<circle cx="431.7" cy="155.9" r="0.89" fill="#626262"/>
<circle cx="454.5" cy="123.7" r="1.16" fill="#707070"/>
<circle cx="456.5" cy="148.9" r="0.97" fill="#5a5a5a"/>
<circle cx="455.6" cy="121.0" r="0.93" fill="#626262"/>
<circle cx="465.8" cy="148.8" r="0.90" fill="#626262"/>
<circle cx="441.9" cy="157.0" r="0.76" fill="#626262"/>
<circle cx="438.8" cy="128.8" r="0.66" fill="#626262"/>
<circle cx="462.8" cy="135.0" r="1.00" fill="#666"/>
<circle cx="450.8" cy="141.1" r="1.04" fill="#5a5a5a"/>
<circle cx="443.1" cy="122.5" r="0.80" fill="#707070"/>
<circle cx="463.5" cy="132.2" r="0.74" fill="#707070"/>
<circle cx="465.7" cy="129.3" r="0.74" fill="#626262"/>
<circle cx="448.0" cy="138.6" r="0.95" fill="#5a5a5a"/>
<circle cx="458.6" cy="149.4" r="1.07" fill="#626262"/>
<circle cx="463.7" cy="121.7" r="0.70" fill="#5a5a5a"/>
<circle cx="437.8" cy="124.1" r="0.92" fill="#5a5a5a"/>
<circle cx="433.8" cy="125.8" r="1.18" fill="#626262"/>
<circle cx="436.0" cy="123.7" r="1.13" fill="#666"/>
<circle cx="434.5" cy="156.3" r="0.72" fill="#626262"/>
<circle cx="455.6" cy="125.5" r="0.85" fill="#5a5a5a"/>
<circle cx="455.9" cy="127.8" r="0.68" fill="#707070"/>
<circle cx="455.8" cy="124.5" r="0.90" fill="#5a5a5a"/>
<circle cx="456.6" cy="143.8" r="0.79" fill="#666"/>
</g>
<text x="430.1" y="156.5" font-size="9.8" font-weight="bold" fill="#111" stroke="#111" stroke-width="0.35" transform="translate(430.1,0) scale(0.9,1) translate(-430.1,0)">CD54</text>
<clipPath id="cp110"><rect x="344.3" y="160.2" width="40.3" height="40"/></clipPath><g clip-path="url(#cp110)">
<rect x="344.3" y="160.2" width="40.3" height="40" fill="#a0a0a0"/>
<circle cx="382.0" cy="175.7" r="6.1" fill="#a6a6a6" opacity="0.6"/>
<circle cx="373.1" cy="185.7" r="6.7" fill="#999999" opacity="0.6"/>
<circle cx="364.5" cy="190.0" r="8.1" fill="#999999" opacity="0.6"/>
<circle cx="381.1" cy="166.2" r="6.6" fill="#999999" opacity="0.6"/>
<circle cx="361.4" cy="183.8" r="5.4" fill="#a6a6a6" opacity="0.6"/>
<circle cx="358.9" cy="180.5" r="8.7" fill="#a4a4a4" opacity="0.6"/>
<circle cx="355.8" cy="195.5" r="1.06" fill="#666"/>
<circle cx="352.7" cy="176.8" r="0.79" fill="#626262"/>
<circle cx="353.9" cy="164.4" r="0.85" fill="#666"/>
<circle cx="351.6" cy="166.5" r="1.14" fill="#707070"/>
<circle cx="379.3" cy="161.3" r="0.81" fill="#666"/>
<circle cx="345.8" cy="176.5" r="0.78" fill="#626262"/>
<circle cx="357.6" cy="188.9" r="1.21" fill="#707070"/>
<circle cx="347.0" cy="197.0" r="0.91" fill="#5a5a5a"/>
<circle cx="357.7" cy="164.6" r="1.24" fill="#626262"/>
<circle cx="365.5" cy="197.2" r="0.76" fill="#5a5a5a"/>
<circle cx="346.6" cy="161.9" r="1.13" fill="#666"/>
<circle cx="370.3" cy="165.6" r="1.06" fill="#707070"/>
<circle cx="377.7" cy="180.8" r="1.16" fill="#5a5a5a"/>
<circle cx="345.8" cy="188.9" r="1.08" fill="#5a5a5a"/>
<circle cx="357.5" cy="182.2" r="0.70" fill="#5a5a5a"/>
<circle cx="370.9" cy="161.5" r="0.69" fill="#707070"/>
<circle cx="352.5" cy="199.0" r="0.89" fill="#707070"/>
<circle cx="369.6" cy="170.6" r="0.81" fill="#666"/>
<circle cx="365.3" cy="196.0" r="1.21" fill="#626262"/>
<circle cx="369.3" cy="189.3" r="0.82" fill="#666"/>
<circle cx="354.8" cy="180.8" r="0.92" fill="#5a5a5a"/>
</g>
<text x="345.3" y="198.6" font-size="9.8" font-weight="bold" fill="#111" stroke="#111" stroke-width="0.35" transform="translate(345.3,0) scale(0.9,1) translate(-345.3,0)">FN</text>
<clipPath id="cp111"><rect x="386.7" y="160.2" width="40.3" height="40"/></clipPath><g clip-path="url(#cp111)">
<rect x="386.7" y="160.2" width="40.3" height="40" fill="#a0a0a0"/>
<circle cx="420.0" cy="168.7" r="6.5" fill="#9c9c9c" opacity="0.6"/>
<circle cx="402.7" cy="184.9" r="7.1" fill="#a6a6a6" opacity="0.6"/>
<circle cx="414.8" cy="182.6" r="7.4" fill="#a6a6a6" opacity="0.6"/>
<circle cx="403.5" cy="175.5" r="5.9" fill="#9c9c9c" opacity="0.6"/>
<circle cx="419.2" cy="189.2" r="6.5" fill="#9c9c9c" opacity="0.6"/>
<circle cx="388.0" cy="187.3" r="8.4" fill="#a6a6a6" opacity="0.6"/>
<circle cx="403.3" cy="194.3" r="1.11" fill="#5a5a5a"/>
<circle cx="398.9" cy="174.1" r="1.19" fill="#707070"/>
<circle cx="396.8" cy="197.3" r="1.21" fill="#5a5a5a"/>
<circle cx="414.6" cy="177.2" r="0.95" fill="#707070"/>
<circle cx="416.0" cy="179.5" r="0.94" fill="#5a5a5a"/>
<circle cx="414.5" cy="190.4" r="1.02" fill="#5a5a5a"/>
<circle cx="394.2" cy="198.0" r="1.11" fill="#626262"/>
<circle cx="408.2" cy="196.9" r="0.66" fill="#666"/>
<circle cx="404.7" cy="166.8" r="1.22" fill="#626262"/>
<circle cx="410.3" cy="182.7" r="0.65" fill="#666"/>
<circle cx="392.6" cy="196.8" r="1.11" fill="#666"/>
<circle cx="408.2" cy="187.5" r="0.87" fill="#626262"/>
<circle cx="389.9" cy="175.0" r="1.17" fill="#5a5a5a"/>
<circle cx="420.8" cy="165.7" r="0.90" fill="#666"/>
<circle cx="415.2" cy="183.8" r="1.11" fill="#626262"/>
<circle cx="391.6" cy="181.0" r="0.89" fill="#5a5a5a"/>
<circle cx="399.2" cy="199.0" r="0.91" fill="#666"/>
<circle cx="395.0" cy="164.6" r="0.94" fill="#707070"/>
<circle cx="389.6" cy="168.9" r="1.21" fill="#626262"/>
<circle cx="416.4" cy="184.3" r="0.68" fill="#707070"/>
<circle cx="398.1" cy="196.4" r="1.19" fill="#707070"/>
</g>
<text x="387.7" y="198.6" font-size="9.8" font-weight="bold" fill="#111" stroke="#111" stroke-width="0.35" transform="translate(387.7,0) scale(0.9,1) translate(-387.7,0)">CD45</text>
<clipPath id="cp112"><rect x="429.1" y="160.2" width="40.3" height="40"/></clipPath><g clip-path="url(#cp112)">
<rect x="429.1" y="160.2" width="40.3" height="40" fill="#a0a0a0"/>
<circle cx="448.5" cy="186.8" r="7.5" fill="#9c9c9c" opacity="0.6"/>
<circle cx="465.5" cy="190.3" r="5.8" fill="#a6a6a6" opacity="0.6"/>
<circle cx="450.3" cy="161.3" r="7.6" fill="#a6a6a6" opacity="0.6"/>
<circle cx="448.0" cy="174.3" r="7.7" fill="#a6a6a6" opacity="0.6"/>
<circle cx="456.2" cy="187.7" r="6.6" fill="#a4a4a4" opacity="0.6"/>
<circle cx="445.5" cy="176.2" r="4.3" fill="#999999" opacity="0.6"/>
<circle cx="438.6" cy="176.3" r="1.12" fill="#5a5a5a"/>
<circle cx="452.4" cy="195.9" r="1.13" fill="#5a5a5a"/>
<circle cx="466.0" cy="170.9" r="0.99" fill="#5a5a5a"/>
<circle cx="464.3" cy="171.0" r="1.13" fill="#666"/>
<circle cx="441.2" cy="177.8" r="0.97" fill="#5a5a5a"/>
<circle cx="438.4" cy="171.3" r="1.00" fill="#666"/>
<circle cx="446.7" cy="170.0" r="1.07" fill="#5a5a5a"/>
<circle cx="442.2" cy="187.1" r="0.71" fill="#5a5a5a"/>
<circle cx="451.0" cy="165.1" r="0.94" fill="#626262"/>
<circle cx="466.2" cy="180.4" r="0.81" fill="#5a5a5a"/>
<circle cx="449.9" cy="187.6" r="1.05" fill="#707070"/>
<circle cx="440.7" cy="179.0" r="1.14" fill="#666"/>
<circle cx="455.7" cy="194.0" r="0.71" fill="#666"/>
<circle cx="459.5" cy="189.7" r="0.91" fill="#5a5a5a"/>
<circle cx="435.4" cy="176.6" r="0.98" fill="#666"/>
<circle cx="445.9" cy="176.2" r="0.74" fill="#626262"/>
<circle cx="467.3" cy="174.6" r="0.91" fill="#707070"/>
<circle cx="441.9" cy="193.0" r="0.66" fill="#626262"/>
<circle cx="448.9" cy="196.9" r="0.82" fill="#707070"/>
<circle cx="462.3" cy="162.7" r="0.83" fill="#666"/>
<circle cx="461.3" cy="187.5" r="1.19" fill="#626262"/>
<circle cx="447.6" cy="177.0" r="0.92" fill="#666"/>
<circle cx="445.3" cy="169.9" r="1.00" fill="#666"/>
<circle cx="450.6" cy="172.3" r="1.16" fill="#707070"/>
</g>
<text x="430.1" y="198.6" font-size="9.8" font-weight="bold" fill="#111" stroke="#111" stroke-width="0.35" transform="translate(430.1,0) scale(0.9,1) translate(-430.1,0)">CD81</text>
<clipPath id="cp113"><rect x="344.3" y="201.9" width="40.3" height="40"/></clipPath><g clip-path="url(#cp113)">
<rect x="344.3" y="201.9" width="40.3" height="40" fill="#a0a0a0"/>
<circle cx="345.5" cy="236.6" r="4.1" fill="#9c9c9c" opacity="0.6"/>
<circle cx="366.5" cy="211.4" r="8.3" fill="#999999" opacity="0.6"/>
<circle cx="356.5" cy="225.8" r="8.8" fill="#a4a4a4" opacity="0.6"/>
<circle cx="356.5" cy="215.5" r="6.3" fill="#a6a6a6" opacity="0.6"/>
<circle cx="382.7" cy="231.1" r="6.6" fill="#999999" opacity="0.6"/>
<circle cx="351.3" cy="226.6" r="7.0" fill="#a6a6a6" opacity="0.6"/>
<circle cx="364.2" cy="220.5" r="0.82" fill="#707070"/>
<circle cx="371.4" cy="210.2" r="0.66" fill="#626262"/>
<circle cx="352.2" cy="229.9" r="1.19" fill="#707070"/>
<circle cx="365.6" cy="226.3" r="0.73" fill="#5a5a5a"/>
<circle cx="380.3" cy="209.3" r="0.93" fill="#5a5a5a"/>
<circle cx="365.1" cy="222.6" r="1.01" fill="#5a5a5a"/>
<circle cx="353.5" cy="223.5" r="1.17" fill="#707070"/>
<circle cx="350.6" cy="229.3" r="0.71" fill="#666"/>
<circle cx="380.7" cy="211.9" r="0.77" fill="#666"/>
<circle cx="375.7" cy="225.8" r="0.87" fill="#5a5a5a"/>
<circle cx="369.7" cy="236.3" r="1.10" fill="#626262"/>
<circle cx="351.3" cy="225.6" r="0.84" fill="#707070"/>
<circle cx="374.6" cy="229.7" r="0.67" fill="#666"/>
<circle cx="367.8" cy="218.4" r="0.76" fill="#666"/>
<circle cx="359.6" cy="238.8" r="0.88" fill="#626262"/>
<circle cx="368.2" cy="237.0" r="0.99" fill="#626262"/>
<circle cx="351.7" cy="235.2" r="1.14" fill="#666"/>
<circle cx="351.5" cy="210.6" r="0.94" fill="#666"/>
<circle cx="364.3" cy="213.8" r="1.23" fill="#626262"/>
<circle cx="366.0" cy="227.3" r="0.81" fill="#626262"/>
<circle cx="360.0" cy="204.9" r="1.21" fill="#626262"/>
<circle cx="374.0" cy="239.1" r="1.19" fill="#707070"/>
<circle cx="368.8" cy="220.3" r="0.87" fill="#707070"/>
<circle cx="383.6" cy="237.8" r="0.74" fill="#666"/>
</g>
<text x="345.3" y="240.3" font-size="9.8" font-weight="bold" fill="#111" stroke="#111" stroke-width="0.35" transform="translate(345.3,0) scale(0.9,1) translate(-345.3,0)">RN</text>
<clipPath id="cp114"><rect x="386.7" y="201.9" width="40.3" height="40"/></clipPath><g clip-path="url(#cp114)">
<rect x="386.7" y="201.9" width="40.3" height="40" fill="#a0a0a0"/>
<circle cx="396.4" cy="205.8" r="7.1" fill="#a6a6a6" opacity="0.6"/>
<circle cx="388.6" cy="222.6" r="6.9" fill="#9c9c9c" opacity="0.6"/>
<circle cx="408.4" cy="233.3" r="5.7" fill="#9c9c9c" opacity="0.6"/>
<circle cx="391.0" cy="241.0" r="6.0" fill="#a4a4a4" opacity="0.6"/>
<circle cx="410.8" cy="238.9" r="8.4" fill="#9c9c9c" opacity="0.6"/>
<circle cx="407.9" cy="241.3" r="7.1" fill="#a4a4a4" opacity="0.6"/>
<circle cx="406.1" cy="226.9" r="0.78" fill="#707070"/>
<circle cx="409.3" cy="238.4" r="1.06" fill="#5a5a5a"/>
<circle cx="424.9" cy="235.9" r="1.00" fill="#707070"/>
<circle cx="400.9" cy="231.7" r="1.12" fill="#666"/>
<circle cx="406.1" cy="206.0" r="0.73" fill="#707070"/>
<circle cx="420.0" cy="205.2" r="0.91" fill="#707070"/>
<circle cx="400.7" cy="211.2" r="0.77" fill="#5a5a5a"/>
<circle cx="393.3" cy="220.9" r="0.90" fill="#707070"/>
<circle cx="391.9" cy="219.0" r="0.70" fill="#666"/>
<circle cx="387.8" cy="222.0" r="0.97" fill="#626262"/>
<circle cx="389.1" cy="215.0" r="0.81" fill="#5a5a5a"/>
<circle cx="405.7" cy="212.9" r="0.81" fill="#626262"/>
<circle cx="404.5" cy="212.9" r="0.67" fill="#666"/>
<circle cx="407.1" cy="218.1" r="0.72" fill="#626262"/>
<circle cx="407.4" cy="240.9" r="0.92" fill="#626262"/>
<circle cx="408.3" cy="211.0" r="1.13" fill="#666"/>
<circle cx="394.6" cy="231.9" r="0.89" fill="#5a5a5a"/>
</g>
<text x="387.7" y="240.3" font-size="9.8" font-weight="bold" fill="#111" stroke="#111" stroke-width="0.35" transform="translate(387.7,0) scale(0.9,1) translate(-387.7,0)">CD45RB</text>
<clipPath id="cp115"><rect x="429.1" y="201.9" width="40.3" height="40"/></clipPath><g clip-path="url(#cp115)">
<rect x="429.1" y="201.9" width="40.3" height="40" fill="#a0a0a0"/>
<circle cx="465.2" cy="209.8" r="6.7" fill="#999999" opacity="0.6"/>
<circle cx="442.6" cy="236.8" r="7.4" fill="#9c9c9c" opacity="0.6"/>
<circle cx="454.9" cy="229.4" r="4.3" fill="#a4a4a4" opacity="0.6"/>
<circle cx="451.3" cy="208.1" r="8.3" fill="#9c9c9c" opacity="0.6"/>
<circle cx="461.4" cy="240.5" r="4.8" fill="#a6a6a6" opacity="0.6"/>
<circle cx="464.1" cy="223.1" r="7.9" fill="#a6a6a6" opacity="0.6"/>
<circle cx="461.9" cy="229.2" r="0.66" fill="#666"/>
<circle cx="450.2" cy="226.1" r="1.23" fill="#707070"/>
<circle cx="453.0" cy="211.8" r="1.15" fill="#626262"/>
<circle cx="463.0" cy="223.8" r="0.77" fill="#707070"/>
<circle cx="437.2" cy="231.5" r="1.22" fill="#626262"/>
<circle cx="462.5" cy="224.7" r="1.08" fill="#626262"/>
<circle cx="466.4" cy="210.1" r="0.96" fill="#666"/>
<circle cx="465.5" cy="215.5" r="0.80" fill="#666"/>
<circle cx="432.3" cy="206.0" r="1.01" fill="#5a5a5a"/>
<circle cx="431.5" cy="240.8" r="0.68" fill="#707070"/>
<circle cx="446.0" cy="229.1" r="0.81" fill="#707070"/>
<circle cx="444.4" cy="218.7" r="1.06" fill="#666"/>
<circle cx="434.7" cy="240.7" r="0.85" fill="#5a5a5a"/>
<circle cx="461.0" cy="234.7" r="1.06" fill="#666"/>
<circle cx="440.3" cy="223.4" r="1.01" fill="#626262"/>
<circle cx="457.3" cy="227.7" r="0.76" fill="#707070"/>
<circle cx="447.9" cy="237.9" r="0.73" fill="#5a5a5a"/>
<circle cx="464.0" cy="239.0" r="0.71" fill="#666"/>
<circle cx="460.7" cy="221.6" r="0.67" fill="#666"/>
<circle cx="433.6" cy="234.8" r="0.89" fill="#666"/>
<circle cx="466.0" cy="237.7" r="0.67" fill="#5a5a5a"/>
<circle cx="464.3" cy="220.0" r="1.13" fill="#5a5a5a"/>
<circle cx="459.3" cy="225.9" r="1.04" fill="#5a5a5a"/>
<circle cx="462.0" cy="214.7" r="0.75" fill="#5a5a5a"/>
</g>
<text x="430.1" y="240.3" font-size="9.8" font-weight="bold" fill="#111" stroke="#111" stroke-width="0.35" transform="translate(430.1,0) scale(0.9,1) translate(-430.1,0)">CD105</text>
<clipPath id="cp116"><rect x="344.3" y="246" width="40.3" height="40"/></clipPath><g clip-path="url(#cp116)">
<rect x="344.3" y="246" width="40.3" height="40" fill="#a0a0a0"/>
<circle cx="377.4" cy="270.0" r="4.0" fill="#9c9c9c" opacity="0.6"/>
<circle cx="370.3" cy="275.5" r="8.8" fill="#a4a4a4" opacity="0.6"/>
<circle cx="382.8" cy="257.0" r="8.3" fill="#a4a4a4" opacity="0.6"/>
<circle cx="367.4" cy="264.1" r="8.8" fill="#9c9c9c" opacity="0.6"/>
<circle cx="365.1" cy="265.8" r="8.1" fill="#999999" opacity="0.6"/>
<circle cx="362.0" cy="273.3" r="4.7" fill="#9c9c9c" opacity="0.6"/>
<circle cx="348.3" cy="264.6" r="0.77" fill="#626262"/>
<circle cx="366.1" cy="284.9" r="1.14" fill="#626262"/>
<circle cx="346.8" cy="277.4" r="0.65" fill="#666"/>
<circle cx="358.3" cy="268.7" r="1.03" fill="#5a5a5a"/>
<circle cx="371.8" cy="258.9" r="0.79" fill="#626262"/>
<circle cx="360.9" cy="283.5" r="1.10" fill="#707070"/>
<circle cx="373.7" cy="273.0" r="0.88" fill="#5a5a5a"/>
<circle cx="346.7" cy="258.1" r="0.75" fill="#707070"/>
<circle cx="347.0" cy="283.4" r="0.74" fill="#707070"/>
<circle cx="364.6" cy="247.7" r="1.01" fill="#666"/>
<circle cx="363.5" cy="267.9" r="1.21" fill="#626262"/>
<circle cx="373.0" cy="283.5" r="0.92" fill="#626262"/>
<circle cx="364.9" cy="259.8" r="1.02" fill="#5a5a5a"/>
<circle cx="353.3" cy="258.5" r="0.97" fill="#5a5a5a"/>
<circle cx="358.6" cy="263.8" r="1.20" fill="#707070"/>
<circle cx="375.1" cy="253.7" r="0.92" fill="#707070"/>
<circle cx="348.6" cy="277.4" r="1.12" fill="#5a5a5a"/>
<circle cx="347.5" cy="260.6" r="1.12" fill="#666"/>
<circle cx="355.3" cy="277.4" r="0.75" fill="#707070"/>
<circle cx="369.9" cy="257.7" r="0.97" fill="#5a5a5a"/>
<circle cx="366.6" cy="253.6" r="0.67" fill="#626262"/>
<circle cx="364.3" cy="283.2" r="0.88" fill="#707070"/>
</g>
<text x="345.3" y="284.4" font-size="9.8" font-weight="bold" fill="#111" stroke="#111" stroke-width="0.35" transform="translate(345.3,0) scale(0.9,1) translate(-345.3,0)">IgM</text>
<clipPath id="cp117"><rect x="386.7" y="246" width="40.3" height="40"/></clipPath><g clip-path="url(#cp117)">
<rect x="386.7" y="246" width="40.3" height="40" fill="#a0a0a0"/>
<circle cx="396.4" cy="252.6" r="8.2" fill="#a4a4a4" opacity="0.6"/>
<circle cx="409.2" cy="274.1" r="5.7" fill="#9c9c9c" opacity="0.6"/>
<circle cx="419.4" cy="247.3" r="6.2" fill="#9c9c9c" opacity="0.6"/>
<circle cx="393.3" cy="261.4" r="6.1" fill="#a4a4a4" opacity="0.6"/>
<circle cx="393.1" cy="263.0" r="7.0" fill="#a6a6a6" opacity="0.6"/>
<circle cx="412.3" cy="282.2" r="7.6" fill="#a4a4a4" opacity="0.6"/>
<circle cx="423.7" cy="280.7" r="0.75" fill="#5a5a5a"/>
<circle cx="410.3" cy="250.0" r="1.02" fill="#5a5a5a"/>
<circle cx="395.7" cy="259.7" r="0.90" fill="#707070"/>
<circle cx="400.2" cy="261.3" r="0.85" fill="#666"/>
<circle cx="414.6" cy="282.7" r="0.65" fill="#707070"/>
<circle cx="408.6" cy="248.7" r="0.93" fill="#5a5a5a"/>
<circle cx="397.6" cy="279.2" r="1.25" fill="#626262"/>
<circle cx="416.0" cy="275.5" r="0.92" fill="#626262"/>
<circle cx="412.2" cy="281.9" r="1.19" fill="#707070"/>
<circle cx="424.6" cy="267.4" r="0.67" fill="#707070"/>
<circle cx="395.5" cy="269.3" r="0.82" fill="#626262"/>
<circle cx="421.8" cy="257.3" r="1.21" fill="#5a5a5a"/>
<circle cx="411.7" cy="256.9" r="1.24" fill="#626262"/>
<circle cx="396.1" cy="273.6" r="1.09" fill="#626262"/>
<circle cx="390.1" cy="283.6" r="1.01" fill="#707070"/>
<circle cx="403.1" cy="248.4" r="1.03" fill="#707070"/>
<circle cx="396.3" cy="259.1" r="1.02" fill="#5a5a5a"/>
<circle cx="398.1" cy="274.4" r="0.99" fill="#5a5a5a"/>
<circle cx="401.3" cy="272.6" r="0.94" fill="#626262"/>
<circle cx="410.7" cy="247.3" r="1.02" fill="#707070"/>
<circle cx="405.1" cy="267.0" r="0.69" fill="#626262"/>
<circle cx="402.5" cy="261.4" r="1.16" fill="#5e5e5e"/>
<circle cx="405.8" cy="270.4" r="0.82" fill="#6e6e6e"/>
<circle cx="400.6" cy="262.2" r="0.61" fill="#6e6e6e"/>
<circle cx="405.1" cy="263.7" r="1.04" fill="#7c7c7c"/>
<circle cx="403.9" cy="269.0" r="0.76" fill="#5e5e5e"/>
<circle cx="401.6" cy="270.0" r="0.97" fill="#7c7c7c"/>
<circle cx="404.7" cy="262.3" r="0.71" fill="#7c7c7c"/>
<circle cx="403.0" cy="266.8" r="0.97" fill="#5e5e5e"/>
<circle cx="410.6" cy="267.4" r="0.67" fill="#6e6e6e"/>
<circle cx="415.6" cy="272.1" r="0.86" fill="#6e6e6e"/>
<circle cx="401.9" cy="277.8" r="1.15" fill="#7c7c7c"/>
<circle cx="413.5" cy="268.7" r="0.92" fill="#5e5e5e"/>
<circle cx="410.9" cy="265.5" r="0.88" fill="#6e6e6e"/>
<circle cx="413.6" cy="268.8" r="1.14" fill="#7c7c7c"/>
<circle cx="416.8" cy="265.4" r="1.18" fill="#6e6e6e"/>
<circle cx="403.6" cy="265.4" r="1.02" fill="#7c7c7c"/>
<circle cx="404.0" cy="272.5" r="1.04" fill="#7c7c7c"/>
<circle cx="413.1" cy="269.3" r="1.10" fill="#6e6e6e"/>
<circle cx="406.5" cy="265.1" r="0.91" fill="#7c7c7c"/>
<circle cx="408.4" cy="274.7" r="0.79" fill="#5e5e5e"/>
<circle cx="397.4" cy="267.3" r="1.00" fill="#5e5e5e"/>
<circle cx="392.2" cy="270.9" r="1.14" fill="#5e5e5e"/>
<circle cx="407.0" cy="268.7" r="0.96" fill="#7c7c7c"/>
<circle cx="407.6" cy="251.0" r="1.07" fill="#6e6e6e"/>
<circle cx="404.3" cy="267.5" r="0.93" fill="#5e5e5e"/>
<circle cx="408.4" cy="263.6" r="0.94" fill="#5e5e5e"/>
<circle cx="408.4" cy="270.2" r="0.74" fill="#7c7c7c"/>
<circle cx="402.9" cy="273.7" r="1.13" fill="#6e6e6e"/>
<circle cx="404.6" cy="274.4" r="0.90" fill="#7c7c7c"/>
<circle cx="413.1" cy="261.7" r="0.82" fill="#6e6e6e"/>
<circle cx="401.0" cy="268.5" r="0.76" fill="#5e5e5e"/>
<circle cx="399.4" cy="266.0" r="1.06" fill="#5e5e5e"/>
<circle cx="411.5" cy="262.1" r="1.13" fill="#7c7c7c"/>
<circle cx="404.4" cy="263.2" r="0.62" fill="#6e6e6e"/>
<circle cx="398.8" cy="259.7" r="0.60" fill="#6e6e6e"/>
<circle cx="405.2" cy="269.4" r="1.19" fill="#6e6e6e"/>
<circle cx="405.4" cy="271.0" r="0.64" fill="#5e5e5e"/>
<circle cx="403.5" cy="264.0" r="0.97" fill="#7c7c7c"/>
<circle cx="397.3" cy="265.9" r="1.04" fill="#5e5e5e"/>
<circle cx="398.5" cy="262.4" r="1.09" fill="#5e5e5e"/>
<circle cx="401.1" cy="261.1" r="0.98" fill="#6e6e6e"/>
<circle cx="407.6" cy="256.8" r="0.86" fill="#5e5e5e"/>
<circle cx="400.9" cy="264.9" r="1.19" fill="#5e5e5e"/>
<circle cx="400.8" cy="268.3" r="1.17" fill="#6e6e6e"/>
<circle cx="405.6" cy="271.5" r="0.67" fill="#5e5e5e"/>
<circle cx="402.6" cy="266.7" r="1.00" fill="#7c7c7c"/>
<circle cx="394.7" cy="271.8" r="0.92" fill="#7c7c7c"/>
<circle cx="402.7" cy="254.4" r="1.18" fill="#5e5e5e"/>
<circle cx="401.7" cy="275.1" r="1.07" fill="#5e5e5e"/>
<circle cx="411.5" cy="245.4" r="1.07" fill="#6e6e6e"/>
<circle cx="404.5" cy="270.2" r="0.80" fill="#5e5e5e"/>
<circle cx="398.5" cy="263.6" r="0.99" fill="#7c7c7c"/>
<circle cx="395.8" cy="276.5" r="0.65" fill="#6e6e6e"/>
<circle cx="407.6" cy="274.6" r="0.97" fill="#6e6e6e"/>
<circle cx="397.5" cy="259.2" r="0.73" fill="#5e5e5e"/>
<circle cx="408.7" cy="254.1" r="0.97" fill="#7c7c7c"/>
<circle cx="405.7" cy="265.3" r="0.80" fill="#5e5e5e"/>
<circle cx="411.5" cy="268.2" r="0.63" fill="#6e6e6e"/>
<circle cx="409.3" cy="266.6" r="0.62" fill="#5e5e5e"/>
<circle cx="406.3" cy="270.4" r="0.85" fill="#6e6e6e"/>
<circle cx="412.9" cy="259.7" r="1.13" fill="#6e6e6e"/>
<circle cx="403.0" cy="268.2" r="0.75" fill="#5e5e5e"/>
<circle cx="394.3" cy="273.1" r="0.95" fill="#5e5e5e"/>
<circle cx="399.8" cy="275.5" r="1.19" fill="#7c7c7c"/>
<circle cx="406.9" cy="274.0" r="0.89" fill="#7c7c7c"/>
<circle cx="410.8" cy="274.3" r="0.77" fill="#7c7c7c"/>
<circle cx="405.8" cy="277.4" r="1.01" fill="#7c7c7c"/>
<circle cx="406.2" cy="268.1" r="0.82" fill="#6e6e6e"/>
<circle cx="407.0" cy="267.2" r="0.64" fill="#6e6e6e"/>
<circle cx="402.2" cy="266.0" r="0.72" fill="#5e5e5e"/>
<path d="M415.2,268.9 L423.4,265.79999999999995 L423.4,272.0 Z" fill="#fff" stroke="#111" stroke-width="1.1" stroke-linejoin="miter"/>
</g>
<text x="387.7" y="284.4" font-size="9.8" font-weight="bold" fill="#111" stroke="#111" stroke-width="0.35" transform="translate(387.7,0) scale(0.9,1) translate(-387.7,0)">CD43</text>
<clipPath id="cp118"><rect x="429.1" y="246" width="40.3" height="40"/></clipPath><g clip-path="url(#cp118)">
<rect x="429.1" y="246" width="40.3" height="40" fill="#a0a0a0"/>
<circle cx="457.8" cy="253.3" r="7.5" fill="#999999" opacity="0.6"/>
<circle cx="440.9" cy="246.7" r="8.4" fill="#9c9c9c" opacity="0.6"/>
<circle cx="453.6" cy="266.3" r="6.8" fill="#9c9c9c" opacity="0.6"/>
<circle cx="449.9" cy="278.5" r="8.6" fill="#999999" opacity="0.6"/>
<circle cx="451.8" cy="278.3" r="5.4" fill="#a4a4a4" opacity="0.6"/>
<circle cx="461.0" cy="270.9" r="6.8" fill="#999999" opacity="0.6"/>
<circle cx="443.9" cy="259.6" r="1.00" fill="#626262"/>
<circle cx="433.4" cy="254.2" r="1.16" fill="#5a5a5a"/>
<circle cx="467.4" cy="265.0" r="0.93" fill="#5a5a5a"/>
<circle cx="464.6" cy="281.8" r="0.87" fill="#666"/>
<circle cx="436.4" cy="279.1" r="0.81" fill="#666"/>
<circle cx="433.2" cy="280.0" r="0.96" fill="#666"/>
<circle cx="455.0" cy="251.6" r="0.76" fill="#666"/>
<circle cx="454.2" cy="267.8" r="0.81" fill="#666"/>
<circle cx="452.2" cy="283.3" r="0.73" fill="#626262"/>
<circle cx="459.8" cy="278.1" r="1.12" fill="#666"/>
<circle cx="435.4" cy="252.7" r="1.12" fill="#5a5a5a"/>
<circle cx="459.3" cy="272.8" r="0.67" fill="#626262"/>
<circle cx="437.8" cy="264.3" r="0.77" fill="#707070"/>
<circle cx="442.8" cy="276.8" r="1.10" fill="#666"/>
<circle cx="456.9" cy="249.0" r="0.65" fill="#707070"/>
<circle cx="456.9" cy="248.3" r="0.94" fill="#707070"/>
<circle cx="430.4" cy="276.3" r="1.03" fill="#5a5a5a"/>
<circle cx="446.7" cy="269.0" r="1.08" fill="#626262"/>
<circle cx="442.1" cy="260.5" r="0.90" fill="#707070"/>
<circle cx="467.4" cy="261.6" r="1.04" fill="#626262"/>
<circle cx="453.4" cy="279.9" r="0.87" fill="#5a5a5a"/>
<circle cx="443.1" cy="270.5" r="1.24" fill="#5a5a5a"/>
<circle cx="464.3" cy="247.8" r="1.06" fill="#626262"/>
<circle cx="452.5" cy="283.7" r="1.03" fill="#5a5a5a"/>
<circle cx="454.7" cy="256.8" r="0.69" fill="#7c7c7c"/>
<circle cx="452.1" cy="260.4" r="0.66" fill="#5e5e5e"/>
<circle cx="445.1" cy="258.7" r="0.62" fill="#5e5e5e"/>
<circle cx="457.1" cy="257.1" r="1.17" fill="#5e5e5e"/>
<circle cx="458.8" cy="261.6" r="0.97" fill="#7c7c7c"/>
<circle cx="457.0" cy="257.3" r="1.00" fill="#6e6e6e"/>
<circle cx="461.7" cy="261.5" r="1.19" fill="#6e6e6e"/>
<circle cx="457.7" cy="254.6" r="0.63" fill="#7c7c7c"/>
<circle cx="446.8" cy="255.5" r="1.13" fill="#6e6e6e"/>
<circle cx="455.8" cy="260.9" r="0.92" fill="#7c7c7c"/>
<circle cx="450.4" cy="257.0" r="0.89" fill="#6e6e6e"/>
<circle cx="452.4" cy="262.0" r="1.06" fill="#7c7c7c"/>
<circle cx="452.5" cy="258.2" r="0.98" fill="#5e5e5e"/>
<circle cx="447.5" cy="261.0" r="0.68" fill="#6e6e6e"/>
<circle cx="444.4" cy="257.0" r="0.70" fill="#6e6e6e"/>
<circle cx="457.4" cy="254.8" r="0.70" fill="#7c7c7c"/>
<circle cx="451.7" cy="257.7" r="0.77" fill="#5e5e5e"/>
<circle cx="449.3" cy="262.7" r="1.18" fill="#5e5e5e"/>
<circle cx="441.6" cy="259.3" r="1.04" fill="#6e6e6e"/>
<circle cx="455.5" cy="258.8" r="0.87" fill="#6e6e6e"/>
<circle cx="447.2" cy="258.0" r="1.20" fill="#5e5e5e"/>
<circle cx="452.0" cy="258.9" r="1.16" fill="#6e6e6e"/>
<circle cx="442.0" cy="254.7" r="1.15" fill="#7c7c7c"/>
<circle cx="441.3" cy="256.3" r="0.93" fill="#6e6e6e"/>
<circle cx="449.3" cy="261.7" r="1.11" fill="#5e5e5e"/>
<circle cx="460.9" cy="257.3" r="0.74" fill="#5e5e5e"/>
<circle cx="448.2" cy="259.3" r="0.80" fill="#6e6e6e"/>
<circle cx="456.4" cy="257.5" r="0.70" fill="#5e5e5e"/>
<circle cx="454.7" cy="260.6" r="0.63" fill="#6e6e6e"/>
<circle cx="454.1" cy="258.5" r="0.86" fill="#6e6e6e"/>
<circle cx="435.9" cy="268.1" r="1.13" fill="#5e5e5e"/>
<circle cx="430.0" cy="266.1" r="1.09" fill="#7c7c7c"/>
<circle cx="430.6" cy="267.2" r="0.94" fill="#7c7c7c"/>
<circle cx="435.3" cy="268.2" r="1.11" fill="#6e6e6e"/>
<circle cx="436.5" cy="269.6" r="0.66" fill="#7c7c7c"/>
<circle cx="436.6" cy="265.5" r="1.05" fill="#6e6e6e"/>
<circle cx="434.2" cy="267.9" r="0.81" fill="#5e5e5e"/>
<circle cx="430.7" cy="270.1" r="0.90" fill="#6e6e6e"/>
<circle cx="436.6" cy="276.5" r="0.99" fill="#6e6e6e"/>
<circle cx="429.4" cy="272.8" r="1.06" fill="#7c7c7c"/>
<circle cx="431.9" cy="272.3" r="1.10" fill="#6e6e6e"/>
<circle cx="434.5" cy="263.8" r="0.76" fill="#5e5e5e"/>
<circle cx="432.4" cy="265.4" r="0.70" fill="#5e5e5e"/>
<circle cx="430.6" cy="269.2" r="0.66" fill="#7c7c7c"/>
<circle cx="434.2" cy="274.8" r="0.85" fill="#7c7c7c"/>
<circle cx="435.8" cy="273.5" r="1.02" fill="#5e5e5e"/>
<circle cx="430.3" cy="269.6" r="0.70" fill="#7c7c7c"/>
<circle cx="436.1" cy="271.4" r="0.61" fill="#6e6e6e"/>
<circle cx="436.7" cy="271.6" r="0.63" fill="#5e5e5e"/>
<circle cx="434.9" cy="271.0" r="1.06" fill="#5e5e5e"/>
<path d="M459.6,258.7 L467.8,255.6 L467.8,261.8 Z" fill="#fff" stroke="#111" stroke-width="1.1" stroke-linejoin="miter"/>
<path d="M440.3,269.3 L448.5,266.2 L448.5,272.40000000000003 Z" fill="#fff" stroke="#111" stroke-width="1.1" stroke-linejoin="miter"/>
</g>
<text x="430.1" y="284.4" font-size="9.8" font-weight="bold" fill="#111" stroke="#111" stroke-width="0.35" transform="translate(430.1,0) scale(0.9,1) translate(-430.1,0)">CD44</text>
<rect x="346" y="37.2" width="10" height="2.1" fill="#fff"/>
<line x1="472" y1="35.2" x2="472" y2="241.8" stroke="#0a0a0a" stroke-width="1.8"/>
<line x1="472" y1="246.2" x2="472" y2="285.6" stroke="#0a0a0a" stroke-width="1.8"/>
<text transform="translate(477.3,53.2) rotate(90)" x="0" y="0" font-size="12" text-anchor="middle" font-weight="normal" fill="#505050" textLength="35.8" lengthAdjust="spacingAndGlyphs">mouse</text>
<text transform="translate(477.3,266.5) rotate(90)" x="0" y="0" font-size="12" text-anchor="middle" font-weight="normal" fill="#505050" textLength="37" lengthAdjust="spacingAndGlyphs">human</text>
<text x="10.2" y="118" font-size="17.5" text-anchor="start" font-weight="bold" fill="#111" textLength="11.8" lengthAdjust="spacingAndGlyphs" stroke="#111" stroke-width="0.55">C</text>
<text x="81.3" y="120.7" font-size="12" text-anchor="end" font-weight="normal" fill="#333" textLength="28.3" lengthAdjust="spacingAndGlyphs" >[min]</text>
<text x="94.3" y="120.5" font-size="12" text-anchor="middle" font-weight="normal" fill="#333" >2.5</text>
<text x="118.3" y="120.5" font-size="12" text-anchor="middle" font-weight="normal" fill="#333" >5</text>
<text x="142.3" y="120.5" font-size="12" text-anchor="middle" font-weight="normal" fill="#333" >10</text>
<text x="166.4" y="120.5" font-size="12" text-anchor="middle" font-weight="normal" fill="#333" >20</text>
<text x="190.4" y="120.5" font-size="12" text-anchor="middle" font-weight="normal" fill="#333" >40</text>
<text x="214.4" y="120.5" font-size="12" text-anchor="middle" font-weight="normal" fill="#333" >80</text>
<text x="237.1" y="120.5" font-size="12" text-anchor="middle" font-weight="normal" fill="#333" textLength="18.3" lengthAdjust="spacingAndGlyphs" >160</text>
<text x="79.5" y="142.1" font-size="12" text-anchor="end" font-weight="normal" fill="#333" textLength="38.2" lengthAdjust="spacingAndGlyphs" >control</text>
<clipPath id="cp501"><rect x="83.4" y="125.1" width="21.8" height="21.8"/></clipPath><g clip-path="url(#cp501)">
<rect x="83.4" y="125.1" width="21.8" height="21.8" fill="#6c6c6c"/>
<rect x="94.3" y="136.8" width="6.6" height="3.0" fill="#727272" opacity="0.7"/>
<rect x="92.0" y="126.8" width="5.4" height="4.8" fill="#686868" opacity="0.7"/>
<rect x="90.4" y="131.2" width="8.0" height="3.1" fill="#666" opacity="0.7"/>
<rect x="83.3" y="140.0" width="5.9" height="4.9" fill="#666" opacity="0.7"/>
<rect x="89.0" y="130.9" width="7.1" height="4.0" fill="#666" opacity="0.7"/>
<circle cx="86.7" cy="138.6" r="1.7" fill="#8c8c8c" stroke="#141414" stroke-width="1.0"/>
<circle cx="86.7" cy="138.5" r="0.55" fill="#eeeeee"/>
<circle cx="95.4" cy="134.9" r="1.7" fill="#8c8c8c" stroke="#141414" stroke-width="1.0"/>
<circle cx="95.4" cy="134.8" r="0.55" fill="#eeeeee"/>
<circle cx="101.9" cy="134.3" r="1.7" fill="#8c8c8c" stroke="#141414" stroke-width="1.0"/>
<circle cx="101.9" cy="134.2" r="0.55" fill="#eeeeee"/>
<rect x="85.4" y="126.9" width="11.8" height="2.6" fill="#fff"/>
</g>
<clipPath id="cp502"><rect x="107.42" y="125.1" width="21.8" height="21.8"/></clipPath><g clip-path="url(#cp502)">
<rect x="107.42" y="125.1" width="21.8" height="21.8" fill="#6c6c6c"/>
<rect x="115.4" y="126.8" width="6.9" height="4.2" fill="#686868" opacity="0.7"/>
<rect x="125.5" y="144.0" width="7.4" height="2.1" fill="#747474" opacity="0.7"/>
<rect x="118.5" y="131.4" width="5.0" height="2.6" fill="#666" opacity="0.7"/>
<rect x="121.1" y="137.5" width="6.9" height="2.7" fill="#727272" opacity="0.7"/>
<rect x="105.8" y="144.1" width="4.4" height="4.1" fill="#666" opacity="0.7"/>
<circle cx="114.0" cy="136.0" r="1.7" fill="#8c8c8c" stroke="#141414" stroke-width="1.0"/>
<circle cx="114.0" cy="135.9" r="0.55" fill="#eeeeee"/>
<circle cx="117.7" cy="133.8" r="1.7" fill="#8c8c8c" stroke="#141414" stroke-width="1.0"/>
<circle cx="117.7" cy="133.7" r="0.55" fill="#eeeeee"/>
<circle cx="120.9" cy="135.6" r="1.7" fill="#8c8c8c" stroke="#141414" stroke-width="1.0"/>
<circle cx="120.9" cy="135.5" r="0.55" fill="#eeeeee"/>
</g>
<clipPath id="cp503"><rect x="131.44" y="125.1" width="21.8" height="21.8"/></clipPath><g clip-path="url(#cp503)">
<rect x="131.44" y="125.1" width="21.8" height="21.8" fill="#6c6c6c"/>
<rect x="132.2" y="130.8" width="5.5" height="2.4" fill="#727272" opacity="0.7"/>
<rect x="142.5" y="124.0" width="6.8" height="2.1" fill="#747474" opacity="0.7"/>
<rect x="129.2" y="135.2" width="5.7" height="4.2" fill="#747474" opacity="0.7"/>
<rect x="146.6" y="144.7" width="7.3" height="3.4" fill="#686868" opacity="0.7"/>
<rect x="137.6" y="138.7" width="5.7" height="3.9" fill="#686868" opacity="0.7"/>
<circle cx="135.8" cy="134.9" r="1.7" fill="#8c8c8c" stroke="#141414" stroke-width="1.0"/>
<circle cx="135.8" cy="134.8" r="0.55" fill="#eeeeee"/>
<circle cx="138.6" cy="138.2" r="1.7" fill="#8c8c8c" stroke="#141414" stroke-width="1.0"/>
<circle cx="138.6" cy="138.1" r="0.55" fill="#eeeeee"/>
<circle cx="147.1" cy="133.4" r="1.7" fill="#8c8c8c" stroke="#141414" stroke-width="1.0"/>
<circle cx="147.1" cy="133.3" r="0.55" fill="#eeeeee"/>
</g>
<clipPath id="cp504"><rect x="155.46" y="125.1" width="21.8" height="21.8"/></clipPath><g clip-path="url(#cp504)">
<rect x="155.46" y="125.1" width="21.8" height="21.8" fill="#6c6c6c"/>
<rect x="162.6" y="135.5" width="7.0" height="2.6" fill="#666" opacity="0.7"/>
<rect x="155.8" y="139.4" width="4.4" height="4.1" fill="#686868" opacity="0.7"/>
<rect x="170.7" y="128.3" width="6.1" height="2.4" fill="#686868" opacity="0.7"/>
<rect x="172.6" y="132.2" width="7.3" height="3.3" fill="#666" opacity="0.7"/>
<rect x="158.7" y="142.6" width="4.1" height="4.7" fill="#727272" opacity="0.7"/>
<circle cx="159.8" cy="133.4" r="1.7" fill="#8c8c8c" stroke="#141414" stroke-width="1.0"/>
<circle cx="159.8" cy="133.3" r="0.55" fill="#eeeeee"/>
<circle cx="159.8" cy="138.2" r="1.7" fill="#8c8c8c" stroke="#141414" stroke-width="1.0"/>
<circle cx="159.8" cy="138.1" r="0.55" fill="#eeeeee"/>
<circle cx="176.6" cy="131.6" r="1.7" fill="#8c8c8c" stroke="#141414" stroke-width="1.0"/>
<circle cx="176.6" cy="131.5" r="0.55" fill="#eeeeee"/>
</g>
<clipPath id="cp505"><rect x="179.48" y="125.1" width="21.8" height="21.8"/></clipPath><g clip-path="url(#cp505)">
<rect x="179.48" y="125.1" width="21.8" height="21.8" fill="#6c6c6c"/>
<rect x="179.7" y="141.5" width="5.4" height="3.4" fill="#686868" opacity="0.7"/>
<rect x="188.1" y="134.7" width="4.2" height="4.9" fill="#686868" opacity="0.7"/>
<rect x="194.9" y="131.9" width="7.0" height="4.5" fill="#666" opacity="0.7"/>
<rect x="197.6" y="143.4" width="4.5" height="2.9" fill="#727272" opacity="0.7"/>
<rect x="179.6" y="125.8" width="7.1" height="4.9" fill="#747474" opacity="0.7"/>
<circle cx="196.5" cy="125.1" r="1.7" fill="#8c8c8c" stroke="#141414" stroke-width="1.0"/>
<circle cx="196.5" cy="125.0" r="0.55" fill="#eeeeee"/>
</g>
<clipPath id="cp506"><rect x="203.5" y="125.1" width="21.8" height="21.8"/></clipPath><g clip-path="url(#cp506)">
<rect x="203.5" y="125.1" width="21.8" height="21.8" fill="#6c6c6c"/>
<rect x="217.0" y="133.8" width="6.3" height="4.7" fill="#747474" opacity="0.7"/>
<rect x="217.6" y="140.0" width="7.2" height="3.3" fill="#727272" opacity="0.7"/>
<rect x="221.4" y="126.2" width="7.2" height="4.6" fill="#666" opacity="0.7"/>
<rect x="203.3" y="136.7" width="7.4" height="4.3" fill="#727272" opacity="0.7"/>
<rect x="201.2" y="135.9" width="6.9" height="3.6" fill="#666" opacity="0.7"/>
<circle cx="216.6" cy="124.7" r="1.7" fill="#8c8c8c" stroke="#141414" stroke-width="1.0"/>
<circle cx="216.6" cy="124.6" r="0.55" fill="#eeeeee"/>
</g>
<clipPath id="cp507"><rect x="227.52" y="125.1" width="21.8" height="21.8"/></clipPath><g clip-path="url(#cp507)">
<rect x="227.52" y="125.1" width="21.8" height="21.8" fill="#6c6c6c"/>
<rect x="235.0" y="136.6" width="5.9" height="2.7" fill="#727272" opacity="0.7"/>
<rect x="232.4" y="143.5" width="5.5" height="4.1" fill="#666" opacity="0.7"/>
<rect x="244.8" y="125.8" width="7.6" height="4.9" fill="#727272" opacity="0.7"/>
<rect x="227.5" y="127.3" width="7.5" height="3.1" fill="#747474" opacity="0.7"/>
<rect x="235.1" y="137.1" width="6.3" height="2.9" fill="#747474" opacity="0.7"/>
</g>
<clipPath id="cp508"><rect x="83.4" y="148.9" width="21.8" height="21.8"/></clipPath><g clip-path="url(#cp508)">
<rect x="83.4" y="148.9" width="21.8" height="21.8" fill="#6c6c6c"/>
<rect x="92.2" y="161.4" width="4.3" height="2.8" fill="#747474" opacity="0.7"/>
<rect x="94.9" y="162.0" width="6.6" height="3.5" fill="#686868" opacity="0.7"/>
<rect x="93.4" y="159.2" width="6.3" height="4.6" fill="#666" opacity="0.7"/>
<rect x="88.5" y="165.8" width="5.3" height="4.2" fill="#727272" opacity="0.7"/>
<rect x="84.0" y="167.5" width="4.1" height="4.0" fill="#727272" opacity="0.7"/>
<circle cx="88.9" cy="155.7" r="1.7" fill="#8c8c8c" stroke="#141414" stroke-width="1.0"/>
<circle cx="88.9" cy="155.6" r="0.55" fill="#eeeeee"/>
<circle cx="98.4" cy="159.3" r="1.7" fill="#8c8c8c" stroke="#141414" stroke-width="1.0"/>
<circle cx="98.4" cy="159.2" r="0.55" fill="#eeeeee"/>
<circle cx="92.9" cy="162.9" r="1.7" fill="#8c8c8c" stroke="#141414" stroke-width="1.0"/>
<circle cx="92.9" cy="162.8" r="0.55" fill="#eeeeee"/>
<circle cx="95.5" cy="166.0" r="1.7" fill="#8c8c8c" stroke="#141414" stroke-width="1.0"/>
<circle cx="95.5" cy="165.9" r="0.55" fill="#eeeeee"/>
</g>
<clipPath id="cp509"><rect x="107.42" y="148.9" width="21.8" height="21.8"/></clipPath><g clip-path="url(#cp509)">
<rect x="107.42" y="148.9" width="21.8" height="21.8" fill="#6c6c6c"/>
<rect x="119.8" y="166.9" width="7.7" height="4.1" fill="#727272" opacity="0.7"/>
<rect x="107.1" y="152.8" width="5.6" height="4.7" fill="#686868" opacity="0.7"/>
<rect x="105.5" y="152.9" width="4.5" height="3.8" fill="#686868" opacity="0.7"/>
<rect x="108.7" y="148.4" width="4.7" height="3.5" fill="#727272" opacity="0.7"/>
<rect x="115.3" y="156.8" width="6.8" height="3.8" fill="#747474" opacity="0.7"/>
<circle cx="113.0" cy="155.9" r="1.7" fill="#8c8c8c" stroke="#141414" stroke-width="1.0"/>
<circle cx="113.0" cy="155.8" r="0.55" fill="#eeeeee"/>
<circle cx="122.3" cy="159.8" r="1.7" fill="#8c8c8c" stroke="#141414" stroke-width="1.0"/>
<circle cx="122.3" cy="159.7" r="0.55" fill="#eeeeee"/>
<circle cx="117.7" cy="164.2" r="1.7" fill="#8c8c8c" stroke="#141414" stroke-width="1.0"/>
<circle cx="117.7" cy="164.1" r="0.55" fill="#eeeeee"/>
<circle cx="119.2" cy="165.5" r="1.7" fill="#8c8c8c" stroke="#141414" stroke-width="1.0"/>
<circle cx="119.2" cy="165.4" r="0.55" fill="#eeeeee"/>
</g>
<clipPath id="cp510"><rect x="131.44" y="148.9" width="21.8" height="21.8"/></clipPath><g clip-path="url(#cp510)">
<rect x="131.44" y="148.9" width="21.8" height="21.8" fill="#6c6c6c"/>
<rect x="143.4" y="158.9" width="5.6" height="4.3" fill="#747474" opacity="0.7"/>
<rect x="131.8" y="165.7" width="6.2" height="2.5" fill="#727272" opacity="0.7"/>
<rect x="144.2" y="166.0" width="7.0" height="2.9" fill="#747474" opacity="0.7"/>
<rect x="135.6" y="155.5" width="6.4" height="2.3" fill="#666" opacity="0.7"/>
<rect x="145.7" y="165.5" width="6.9" height="2.7" fill="#747474" opacity="0.7"/>
<circle cx="138.1" cy="156.8" r="1.7" fill="#8c8c8c" stroke="#141414" stroke-width="1.0"/>
<circle cx="138.1" cy="156.7" r="0.55" fill="#eeeeee"/>
<circle cx="147.4" cy="158.4" r="1.7" fill="#8c8c8c" stroke="#141414" stroke-width="1.0"/>
<circle cx="147.4" cy="158.3" r="0.55" fill="#eeeeee"/>
<circle cx="142.0" cy="164.6" r="1.7" fill="#8c8c8c" stroke="#141414" stroke-width="1.0"/>
<circle cx="142.0" cy="164.5" r="0.55" fill="#eeeeee"/>
<circle cx="145.0" cy="164.8" r="1.7" fill="#8c8c8c" stroke="#141414" stroke-width="1.0"/>
<circle cx="145.0" cy="164.7" r="0.55" fill="#eeeeee"/>
</g>
<clipPath id="cp511"><rect x="155.46" y="148.9" width="21.8" height="21.8"/></clipPath><g clip-path="url(#cp511)">
<rect x="155.46" y="148.9" width="21.8" height="21.8" fill="#6c6c6c"/>
<rect x="154.8" y="149.6" width="5.9" height="4.1" fill="#727272" opacity="0.7"/>
<rect x="168.3" y="159.6" width="4.5" height="3.7" fill="#727272" opacity="0.7"/>
<rect x="170.1" y="153.5" width="4.5" height="4.0" fill="#666" opacity="0.7"/>
<rect x="166.6" y="158.0" width="4.1" height="4.6" fill="#686868" opacity="0.7"/>
<rect x="169.3" y="168.5" width="7.2" height="3.8" fill="#727272" opacity="0.7"/>
<circle cx="162.1" cy="156.7" r="1.7" fill="#8c8c8c" stroke="#141414" stroke-width="1.0"/>
<circle cx="162.1" cy="156.6" r="0.55" fill="#eeeeee"/>
<circle cx="171.5" cy="159.8" r="1.7" fill="#8c8c8c" stroke="#141414" stroke-width="1.0"/>
<circle cx="171.5" cy="159.7" r="0.55" fill="#eeeeee"/>
<circle cx="166.5" cy="163.4" r="1.7" fill="#8c8c8c" stroke="#141414" stroke-width="1.0"/>
<circle cx="166.5" cy="163.3" r="0.55" fill="#eeeeee"/>
<circle cx="169.1" cy="165.3" r="1.7" fill="#8c8c8c" stroke="#141414" stroke-width="1.0"/>
<circle cx="169.1" cy="165.2" r="0.55" fill="#eeeeee"/>
</g>
<clipPath id="cp512"><rect x="179.48" y="148.9" width="21.8" height="21.8"/></clipPath><g clip-path="url(#cp512)">
<rect x="179.48" y="148.9" width="21.8" height="21.8" fill="#6c6c6c"/>
<rect x="176.9" y="156.5" width="7.6" height="3.1" fill="#686868" opacity="0.7"/>
<rect x="190.1" y="164.0" width="5.0" height="2.0" fill="#727272" opacity="0.7"/>
<rect x="192.8" y="157.8" width="4.5" height="3.1" fill="#747474" opacity="0.7"/>
<rect x="176.9" y="168.3" width="6.5" height="3.8" fill="#666" opacity="0.7"/>
<rect x="182.4" y="152.2" width="5.5" height="2.5" fill="#727272" opacity="0.7"/>
<circle cx="186.1" cy="157.1" r="1.7" fill="#8c8c8c" stroke="#141414" stroke-width="1.0"/>
<circle cx="186.1" cy="157.0" r="0.55" fill="#eeeeee"/>
<circle cx="195.3" cy="159.7" r="1.7" fill="#8c8c8c" stroke="#141414" stroke-width="1.0"/>
<circle cx="195.3" cy="159.6" r="0.55" fill="#eeeeee"/>
<circle cx="189.3" cy="164.7" r="1.7" fill="#8c8c8c" stroke="#141414" stroke-width="1.0"/>
<circle cx="189.3" cy="164.6" r="0.55" fill="#eeeeee"/>
<circle cx="192.3" cy="166.0" r="1.7" fill="#8c8c8c" stroke="#141414" stroke-width="1.0"/>
<circle cx="192.3" cy="165.9" r="0.55" fill="#eeeeee"/>
</g>
<clipPath id="cp513"><rect x="203.5" y="148.9" width="21.8" height="21.8"/></clipPath><g clip-path="url(#cp513)">
<rect x="203.5" y="148.9" width="21.8" height="21.8" fill="#6c6c6c"/>
<rect x="200.9" y="149.8" width="6.7" height="3.8" fill="#727272" opacity="0.7"/>
<rect x="206.8" y="167.8" width="4.7" height="2.9" fill="#666" opacity="0.7"/>
<rect x="218.4" y="156.4" width="6.2" height="3.5" fill="#666" opacity="0.7"/>
<rect x="221.4" y="154.9" width="4.7" height="3.7" fill="#727272" opacity="0.7"/>
<rect x="216.3" y="167.2" width="5.0" height="3.8" fill="#727272" opacity="0.7"/>
<circle cx="209.7" cy="157.6" r="1.7" fill="#8c8c8c" stroke="#141414" stroke-width="1.0"/>
<circle cx="209.7" cy="157.5" r="0.55" fill="#eeeeee"/>
<circle cx="219.8" cy="159.8" r="1.7" fill="#8c8c8c" stroke="#141414" stroke-width="1.0"/>
<circle cx="219.8" cy="159.7" r="0.55" fill="#eeeeee"/>
<circle cx="214.4" cy="164.5" r="1.7" fill="#8c8c8c" stroke="#141414" stroke-width="1.0"/>
<circle cx="214.4" cy="164.4" r="0.55" fill="#eeeeee"/>
<circle cx="215.1" cy="165.7" r="1.7" fill="#8c8c8c" stroke="#141414" stroke-width="1.0"/>
<circle cx="215.1" cy="165.6" r="0.55" fill="#eeeeee"/>
</g>
<clipPath id="cp514"><rect x="227.52" y="148.9" width="21.8" height="21.8"/></clipPath><g clip-path="url(#cp514)">
<rect x="227.52" y="148.9" width="21.8" height="21.8" fill="#6c6c6c"/>
<rect x="232.3" y="160.7" width="4.6" height="3.2" fill="#727272" opacity="0.7"/>
<rect x="232.5" y="152.8" width="5.3" height="3.0" fill="#686868" opacity="0.7"/>
<rect x="243.2" y="147.1" width="6.8" height="2.3" fill="#666" opacity="0.7"/>
<rect x="230.8" y="151.5" width="6.1" height="3.6" fill="#747474" opacity="0.7"/>
<rect x="237.3" y="149.2" width="6.1" height="4.6" fill="#727272" opacity="0.7"/>
<circle cx="234.5" cy="155.6" r="1.7" fill="#8c8c8c" stroke="#141414" stroke-width="1.0"/>
<circle cx="234.5" cy="155.5" r="0.55" fill="#eeeeee"/>
<circle cx="243.0" cy="159.7" r="1.7" fill="#8c8c8c" stroke="#141414" stroke-width="1.0"/>
<circle cx="243.0" cy="159.6" r="0.55" fill="#eeeeee"/>
<circle cx="238.5" cy="163.8" r="1.7" fill="#8c8c8c" stroke="#141414" stroke-width="1.0"/>
<circle cx="238.5" cy="163.7" r="0.55" fill="#eeeeee"/>
<circle cx="240.4" cy="165.2" r="1.7" fill="#8c8c8c" stroke="#141414" stroke-width="1.0"/>
<circle cx="240.4" cy="165.1" r="0.55" fill="#eeeeee"/>
</g>
<clipPath id="cp515"><rect x="83.4" y="172.7" width="21.8" height="21.8"/></clipPath><g clip-path="url(#cp515)">
<rect x="83.4" y="172.7" width="21.8" height="21.8" fill="#6c6c6c"/>
<rect x="84.0" y="191.6" width="4.4" height="4.8" fill="#727272" opacity="0.7"/>
<rect x="90.5" y="176.7" width="7.4" height="2.1" fill="#666" opacity="0.7"/>
<rect x="84.0" y="175.9" width="7.8" height="3.8" fill="#686868" opacity="0.7"/>
<rect x="81.9" y="180.9" width="5.7" height="2.7" fill="#666" opacity="0.7"/>
<rect x="98.4" y="192.1" width="7.7" height="3.9" fill="#747474" opacity="0.7"/>
<circle cx="90.0" cy="185.5" r="1.7" fill="#8c8c8c" stroke="#141414" stroke-width="1.0"/>
<circle cx="90.0" cy="185.4" r="0.55" fill="#eeeeee"/>
<circle cx="97.5" cy="177.8" r="1.7" fill="#8c8c8c" stroke="#141414" stroke-width="1.0"/>
<circle cx="97.5" cy="177.7" r="0.55" fill="#eeeeee"/>
<circle cx="99.7" cy="183.6" r="1.7" fill="#8c8c8c" stroke="#141414" stroke-width="1.0"/>
<circle cx="99.7" cy="183.5" r="0.55" fill="#eeeeee"/>
<circle cx="100.3" cy="188.4" r="1.7" fill="#8c8c8c" stroke="#141414" stroke-width="1.0"/>
<circle cx="100.3" cy="188.3" r="0.55" fill="#eeeeee"/>
</g>
<clipPath id="cp516"><rect x="107.42" y="172.7" width="21.8" height="21.8"/></clipPath><g clip-path="url(#cp516)">
<rect x="107.42" y="172.7" width="21.8" height="21.8" fill="#6c6c6c"/>
<rect x="122.2" y="189.2" width="4.7" height="2.2" fill="#666" opacity="0.7"/>
<rect x="104.9" y="173.9" width="5.1" height="4.2" fill="#686868" opacity="0.7"/>
<rect x="110.9" y="173.7" width="6.4" height="2.2" fill="#727272" opacity="0.7"/>
<rect x="116.7" y="172.6" width="5.2" height="2.3" fill="#747474" opacity="0.7"/>
<rect x="115.1" y="186.7" width="4.1" height="3.4" fill="#747474" opacity="0.7"/>
<circle cx="113.0" cy="185.8" r="1.7" fill="#8c8c8c" stroke="#141414" stroke-width="1.0"/>
<circle cx="113.0" cy="185.7" r="0.55" fill="#eeeeee"/>
<circle cx="121.4" cy="178.3" r="1.7" fill="#8c8c8c" stroke="#141414" stroke-width="1.0"/>
<circle cx="121.4" cy="178.2" r="0.55" fill="#eeeeee"/>
<circle cx="122.9" cy="183.3" r="1.7" fill="#8c8c8c" stroke="#141414" stroke-width="1.0"/>
<circle cx="122.9" cy="183.2" r="0.55" fill="#eeeeee"/>
<circle cx="123.7" cy="187.7" r="1.7" fill="#8c8c8c" stroke="#141414" stroke-width="1.0"/>
<circle cx="123.7" cy="187.6" r="0.55" fill="#eeeeee"/>
</g>
<clipPath id="cp517"><rect x="131.44" y="172.7" width="21.8" height="21.8"/></clipPath><g clip-path="url(#cp517)">
<rect x="131.44" y="172.7" width="21.8" height="21.8" fill="#6c6c6c"/>
<rect x="146.1" y="191.6" width="7.5" height="4.3" fill="#747474" opacity="0.7"/>
<rect x="145.8" y="188.0" width="5.2" height="2.4" fill="#747474" opacity="0.7"/>
<rect x="131.7" y="190.0" width="7.9" height="4.0" fill="#747474" opacity="0.7"/>
<rect x="139.5" y="180.5" width="7.7" height="3.9" fill="#666" opacity="0.7"/>
<rect x="147.4" y="184.5" width="5.0" height="2.1" fill="#747474" opacity="0.7"/>
<circle cx="137.1" cy="186.5" r="1.7" fill="#8c8c8c" stroke="#141414" stroke-width="1.0"/>
<circle cx="137.1" cy="186.4" r="0.55" fill="#eeeeee"/>
<circle cx="144.3" cy="179.3" r="1.7" fill="#8c8c8c" stroke="#141414" stroke-width="1.0"/>
<circle cx="144.3" cy="179.2" r="0.55" fill="#eeeeee"/>
<circle cx="146.7" cy="183.8" r="1.7" fill="#8c8c8c" stroke="#141414" stroke-width="1.0"/>
<circle cx="146.7" cy="183.7" r="0.55" fill="#eeeeee"/>
<circle cx="149.1" cy="189.1" r="1.7" fill="#8c8c8c" stroke="#141414" stroke-width="1.0"/>
<circle cx="149.1" cy="189.0" r="0.55" fill="#eeeeee"/>
</g>
<clipPath id="cp518"><rect x="155.46" y="172.7" width="21.8" height="21.8"/></clipPath><g clip-path="url(#cp518)">
<rect x="155.46" y="172.7" width="21.8" height="21.8" fill="#6c6c6c"/>
<rect x="172.9" y="188.7" width="5.0" height="2.8" fill="#686868" opacity="0.7"/>
<rect x="169.7" y="190.2" width="7.2" height="4.4" fill="#727272" opacity="0.7"/>
<rect x="152.8" y="180.4" width="5.4" height="2.4" fill="#666" opacity="0.7"/>
<rect x="156.6" y="182.4" width="4.4" height="3.2" fill="#747474" opacity="0.7"/>
<rect x="163.5" y="186.9" width="6.8" height="3.8" fill="#727272" opacity="0.7"/>
<circle cx="160.9" cy="185.8" r="1.7" fill="#8c8c8c" stroke="#141414" stroke-width="1.0"/>
<circle cx="160.9" cy="185.7" r="0.55" fill="#eeeeee"/>
<circle cx="169.3" cy="178.2" r="1.7" fill="#8c8c8c" stroke="#141414" stroke-width="1.0"/>
<circle cx="169.3" cy="178.1" r="0.55" fill="#eeeeee"/>
<circle cx="171.9" cy="182.8" r="1.7" fill="#8c8c8c" stroke="#141414" stroke-width="1.0"/>
<circle cx="171.9" cy="182.7" r="0.55" fill="#eeeeee"/>
<circle cx="172.3" cy="188.7" r="1.7" fill="#8c8c8c" stroke="#141414" stroke-width="1.0"/>
<circle cx="172.3" cy="188.6" r="0.55" fill="#eeeeee"/>
</g>
<clipPath id="cp519"><rect x="179.48" y="172.7" width="21.8" height="21.8"/></clipPath><g clip-path="url(#cp519)">
<rect x="179.48" y="172.7" width="21.8" height="21.8" fill="#6c6c6c"/>
<rect x="189.6" y="171.3" width="4.9" height="2.9" fill="#686868" opacity="0.7"/>
<rect x="194.1" y="175.6" width="6.4" height="4.0" fill="#666" opacity="0.7"/>
<rect x="179.6" y="186.9" width="4.1" height="4.7" fill="#686868" opacity="0.7"/>
<rect x="185.4" y="177.3" width="6.8" height="4.8" fill="#666" opacity="0.7"/>
<rect x="178.6" y="179.2" width="5.3" height="3.9" fill="#686868" opacity="0.7"/>
<circle cx="184.2" cy="186.1" r="1.7" fill="#8c8c8c" stroke="#141414" stroke-width="1.0"/>
<circle cx="184.2" cy="186.0" r="0.55" fill="#eeeeee"/>
<circle cx="192.0" cy="178.2" r="1.7" fill="#8c8c8c" stroke="#141414" stroke-width="1.0"/>
<circle cx="192.0" cy="178.1" r="0.55" fill="#eeeeee"/>
<circle cx="195.3" cy="183.5" r="1.7" fill="#8c8c8c" stroke="#141414" stroke-width="1.0"/>
<circle cx="195.3" cy="183.4" r="0.55" fill="#eeeeee"/>
<circle cx="196.8" cy="188.9" r="1.7" fill="#8c8c8c" stroke="#141414" stroke-width="1.0"/>
<circle cx="196.8" cy="188.8" r="0.55" fill="#eeeeee"/>
</g>
<clipPath id="cp520"><rect x="203.5" y="172.7" width="21.8" height="21.8"/></clipPath><g clip-path="url(#cp520)">
<rect x="203.5" y="172.7" width="21.8" height="21.8" fill="#6c6c6c"/>
<rect x="221.9" y="172.0" width="5.6" height="2.4" fill="#747474" opacity="0.7"/>
<rect x="210.0" y="187.2" width="5.0" height="3.3" fill="#727272" opacity="0.7"/>
<rect x="213.6" y="192.1" width="5.5" height="3.5" fill="#666" opacity="0.7"/>
<rect x="201.3" y="175.9" width="6.0" height="4.8" fill="#747474" opacity="0.7"/>
<rect x="215.3" y="173.2" width="6.2" height="2.5" fill="#686868" opacity="0.7"/>
<circle cx="208.2" cy="186.8" r="1.7" fill="#8c8c8c" stroke="#141414" stroke-width="1.0"/>
<circle cx="208.2" cy="186.7" r="0.55" fill="#eeeeee"/>
<circle cx="217.6" cy="178.2" r="1.7" fill="#8c8c8c" stroke="#141414" stroke-width="1.0"/>
<circle cx="217.6" cy="178.1" r="0.55" fill="#eeeeee"/>
<circle cx="220.8" cy="182.6" r="1.7" fill="#8c8c8c" stroke="#141414" stroke-width="1.0"/>
<circle cx="220.8" cy="182.5" r="0.55" fill="#eeeeee"/>
<circle cx="221.0" cy="189.3" r="1.7" fill="#8c8c8c" stroke="#141414" stroke-width="1.0"/>
<circle cx="221.0" cy="189.2" r="0.55" fill="#eeeeee"/>
</g>
<clipPath id="cp521"><rect x="227.52" y="172.7" width="21.8" height="21.8"/></clipPath><g clip-path="url(#cp521)">
<rect x="227.52" y="172.7" width="21.8" height="21.8" fill="#6c6c6c"/>
<rect x="226.7" y="189.4" width="5.6" height="4.1" fill="#686868" opacity="0.7"/>
<rect x="243.4" y="174.6" width="7.5" height="4.9" fill="#686868" opacity="0.7"/>
<rect x="242.5" y="177.7" width="6.2" height="2.1" fill="#686868" opacity="0.7"/>
<rect x="240.7" y="178.1" width="4.3" height="3.2" fill="#727272" opacity="0.7"/>
<rect x="241.7" y="186.6" width="4.7" height="3.5" fill="#666" opacity="0.7"/>
<circle cx="233.7" cy="187.2" r="1.7" fill="#8c8c8c" stroke="#141414" stroke-width="1.0"/>
<circle cx="233.7" cy="187.1" r="0.55" fill="#eeeeee"/>
<circle cx="241.1" cy="179.3" r="1.7" fill="#8c8c8c" stroke="#141414" stroke-width="1.0"/>
<circle cx="241.1" cy="179.2" r="0.55" fill="#eeeeee"/>
<circle cx="243.0" cy="182.9" r="1.7" fill="#8c8c8c" stroke="#141414" stroke-width="1.0"/>
<circle cx="243.0" cy="182.8" r="0.55" fill="#eeeeee"/>
<circle cx="244.6" cy="187.9" r="1.7" fill="#8c8c8c" stroke="#141414" stroke-width="1.0"/>
<circle cx="244.6" cy="187.8" r="0.55" fill="#eeeeee"/>
</g>
<clipPath id="cp522"><rect x="83.4" y="196.5" width="21.8" height="21.8"/></clipPath><g clip-path="url(#cp522)">
<rect x="83.4" y="196.5" width="21.8" height="21.8" fill="#6c6c6c"/>
<rect x="82.1" y="202.9" width="4.5" height="2.3" fill="#666" opacity="0.7"/>
<rect x="99.7" y="205.8" width="6.7" height="4.2" fill="#727272" opacity="0.7"/>
<rect x="94.2" y="214.3" width="7.9" height="2.7" fill="#686868" opacity="0.7"/>
<rect x="95.7" y="204.8" width="5.4" height="2.2" fill="#666" opacity="0.7"/>
<rect x="93.0" y="211.3" width="4.6" height="3.2" fill="#686868" opacity="0.7"/>
<circle cx="92.8" cy="205.2" r="1.7" fill="#8c8c8c" stroke="#141414" stroke-width="1.0"/>
<circle cx="92.8" cy="205.1" r="0.55" fill="#eeeeee"/>
<circle cx="95.3" cy="204.2" r="1.7" fill="#8c8c8c" stroke="#141414" stroke-width="1.0"/>
<circle cx="95.3" cy="204.1" r="0.55" fill="#eeeeee"/>
<circle cx="93.9" cy="209.7" r="1.7" fill="#8c8c8c" stroke="#141414" stroke-width="1.0"/>
<circle cx="93.9" cy="209.6" r="0.55" fill="#eeeeee"/>
<circle cx="97.3" cy="209.2" r="1.7" fill="#8c8c8c" stroke="#141414" stroke-width="1.0"/>
<circle cx="97.3" cy="209.1" r="0.55" fill="#eeeeee"/>
</g>
<clipPath id="cp523"><rect x="107.42" y="196.5" width="21.8" height="21.8"/></clipPath><g clip-path="url(#cp523)">
<rect x="107.42" y="196.5" width="21.8" height="21.8" fill="#6c6c6c"/>
<rect x="125.7" y="209.4" width="7.2" height="3.1" fill="#686868" opacity="0.7"/>
<rect x="114.7" y="206.6" width="5.7" height="4.0" fill="#666" opacity="0.7"/>
<rect x="113.0" y="204.9" width="7.4" height="3.4" fill="#747474" opacity="0.7"/>
<rect x="115.3" y="212.1" width="7.8" height="4.0" fill="#686868" opacity="0.7"/>
<rect x="115.0" y="209.4" width="4.6" height="2.9" fill="#666" opacity="0.7"/>
<circle cx="116.0" cy="204.4" r="1.7" fill="#8c8c8c" stroke="#141414" stroke-width="1.0"/>
<circle cx="116.0" cy="204.3" r="0.55" fill="#eeeeee"/>
<circle cx="118.7" cy="204.4" r="1.7" fill="#8c8c8c" stroke="#141414" stroke-width="1.0"/>
<circle cx="118.7" cy="204.3" r="0.55" fill="#eeeeee"/>
<circle cx="117.7" cy="210.0" r="1.7" fill="#8c8c8c" stroke="#141414" stroke-width="1.0"/>
<circle cx="117.7" cy="209.9" r="0.55" fill="#eeeeee"/>
<circle cx="123.0" cy="209.9" r="1.7" fill="#8c8c8c" stroke="#141414" stroke-width="1.0"/>
<circle cx="123.0" cy="209.8" r="0.55" fill="#eeeeee"/>
</g>
<clipPath id="cp524"><rect x="131.44" y="196.5" width="21.8" height="21.8"/></clipPath><g clip-path="url(#cp524)">
<rect x="131.44" y="196.5" width="21.8" height="21.8" fill="#6c6c6c"/>
<rect x="133.4" y="194.7" width="6.0" height="2.2" fill="#686868" opacity="0.7"/>
<rect x="144.1" y="199.6" width="6.3" height="4.0" fill="#666" opacity="0.7"/>
<rect x="131.4" y="212.1" width="7.1" height="3.7" fill="#686868" opacity="0.7"/>
<rect x="128.5" y="201.0" width="4.5" height="3.3" fill="#747474" opacity="0.7"/>
<rect x="139.5" y="206.9" width="5.4" height="3.5" fill="#727272" opacity="0.7"/>
<circle cx="140.5" cy="205.3" r="1.7" fill="#8c8c8c" stroke="#141414" stroke-width="1.0"/>
<circle cx="140.5" cy="205.2" r="0.55" fill="#eeeeee"/>
<circle cx="144.3" cy="204.7" r="1.7" fill="#8c8c8c" stroke="#141414" stroke-width="1.0"/>
<circle cx="144.3" cy="204.6" r="0.55" fill="#eeeeee"/>
<circle cx="143.7" cy="209.2" r="1.7" fill="#8c8c8c" stroke="#141414" stroke-width="1.0"/>
<circle cx="143.7" cy="209.1" r="0.55" fill="#eeeeee"/>
<circle cx="146.0" cy="209.2" r="1.7" fill="#8c8c8c" stroke="#141414" stroke-width="1.0"/>
<circle cx="146.0" cy="209.1" r="0.55" fill="#eeeeee"/>
</g>
<clipPath id="cp525"><rect x="155.46" y="196.5" width="21.8" height="21.8"/></clipPath><g clip-path="url(#cp525)">
<rect x="155.46" y="196.5" width="21.8" height="21.8" fill="#6c6c6c"/>
<rect x="170.5" y="215.7" width="7.8" height="2.5" fill="#747474" opacity="0.7"/>
<rect x="156.5" y="196.9" width="7.7" height="4.5" fill="#686868" opacity="0.7"/>
<rect x="173.9" y="209.2" width="7.1" height="4.8" fill="#727272" opacity="0.7"/>
<rect x="156.6" y="204.2" width="6.2" height="2.6" fill="#727272" opacity="0.7"/>
<rect x="172.9" y="213.9" width="7.6" height="4.2" fill="#666" opacity="0.7"/>
<circle cx="163.7" cy="206.1" r="1.7" fill="#8c8c8c" stroke="#141414" stroke-width="1.0"/>
<circle cx="163.7" cy="206.0" r="0.55" fill="#eeeeee"/>
<circle cx="167.0" cy="203.9" r="1.7" fill="#8c8c8c" stroke="#141414" stroke-width="1.0"/>
<circle cx="167.0" cy="203.8" r="0.55" fill="#eeeeee"/>
<circle cx="167.5" cy="210.6" r="1.7" fill="#8c8c8c" stroke="#141414" stroke-width="1.0"/>
<circle cx="167.5" cy="210.5" r="0.55" fill="#eeeeee"/>
<circle cx="170.5" cy="209.0" r="1.7" fill="#8c8c8c" stroke="#141414" stroke-width="1.0"/>
<circle cx="170.5" cy="208.9" r="0.55" fill="#eeeeee"/>
</g>
<clipPath id="cp526"><rect x="179.48" y="196.5" width="21.8" height="21.8"/></clipPath><g clip-path="url(#cp526)">
<rect x="179.48" y="196.5" width="21.8" height="21.8" fill="#6c6c6c"/>
<rect x="198.2" y="199.2" width="5.2" height="4.3" fill="#666" opacity="0.7"/>
<rect x="187.0" y="205.7" width="7.4" height="2.5" fill="#666" opacity="0.7"/>
<rect x="186.9" y="208.2" width="7.5" height="3.7" fill="#666" opacity="0.7"/>
<rect x="183.9" y="208.8" width="6.1" height="2.9" fill="#666" opacity="0.7"/>
<rect x="181.9" y="212.1" width="6.9" height="4.8" fill="#727272" opacity="0.7"/>
<circle cx="187.3" cy="205.9" r="1.7" fill="#8c8c8c" stroke="#141414" stroke-width="1.0"/>
<circle cx="187.3" cy="205.8" r="0.55" fill="#eeeeee"/>
<circle cx="191.0" cy="205.3" r="1.7" fill="#8c8c8c" stroke="#141414" stroke-width="1.0"/>
<circle cx="191.0" cy="205.2" r="0.55" fill="#eeeeee"/>
<circle cx="191.5" cy="210.2" r="1.7" fill="#8c8c8c" stroke="#141414" stroke-width="1.0"/>
<circle cx="191.5" cy="210.1" r="0.55" fill="#eeeeee"/>
<circle cx="194.2" cy="209.0" r="1.7" fill="#8c8c8c" stroke="#141414" stroke-width="1.0"/>
<circle cx="194.2" cy="208.9" r="0.55" fill="#eeeeee"/>
</g>
<clipPath id="cp527"><rect x="203.5" y="196.5" width="21.8" height="21.8"/></clipPath><g clip-path="url(#cp527)">
<rect x="203.5" y="196.5" width="21.8" height="21.8" fill="#6c6c6c"/>
<rect x="221.8" y="214.8" width="6.7" height="4.0" fill="#686868" opacity="0.7"/>
<rect x="204.0" y="211.3" width="6.2" height="2.1" fill="#686868" opacity="0.7"/>
<rect x="215.8" y="210.5" width="6.7" height="3.1" fill="#747474" opacity="0.7"/>
<rect x="216.3" y="196.5" width="6.9" height="4.2" fill="#727272" opacity="0.7"/>
<rect x="208.1" y="214.1" width="7.8" height="4.4" fill="#747474" opacity="0.7"/>
<circle cx="211.7" cy="205.9" r="1.7" fill="#8c8c8c" stroke="#141414" stroke-width="1.0"/>
<circle cx="211.7" cy="205.8" r="0.55" fill="#eeeeee"/>
<circle cx="215.0" cy="203.6" r="1.7" fill="#8c8c8c" stroke="#141414" stroke-width="1.0"/>
<circle cx="215.0" cy="203.5" r="0.55" fill="#eeeeee"/>
<circle cx="214.8" cy="210.5" r="1.7" fill="#8c8c8c" stroke="#141414" stroke-width="1.0"/>
<circle cx="214.8" cy="210.4" r="0.55" fill="#eeeeee"/>
<circle cx="218.5" cy="209.1" r="1.7" fill="#8c8c8c" stroke="#141414" stroke-width="1.0"/>
<circle cx="218.5" cy="209.0" r="0.55" fill="#eeeeee"/>
</g>
<clipPath id="cp528"><rect x="227.52" y="196.5" width="21.8" height="21.8"/></clipPath><g clip-path="url(#cp528)">
<rect x="227.52" y="196.5" width="21.8" height="21.8" fill="#6c6c6c"/>
<rect x="241.6" y="212.3" width="4.4" height="3.4" fill="#686868" opacity="0.7"/>
<rect x="240.0" y="207.4" width="8.0" height="3.8" fill="#727272" opacity="0.7"/>
<rect x="229.5" y="197.7" width="6.3" height="3.7" fill="#686868" opacity="0.7"/>
<rect x="225.0" y="211.7" width="6.2" height="4.2" fill="#666" opacity="0.7"/>
<rect x="243.1" y="194.6" width="4.9" height="4.3" fill="#747474" opacity="0.7"/>
<circle cx="235.8" cy="204.6" r="1.7" fill="#8c8c8c" stroke="#141414" stroke-width="1.0"/>
<circle cx="235.8" cy="204.5" r="0.55" fill="#eeeeee"/>
<circle cx="238.6" cy="204.0" r="1.7" fill="#8c8c8c" stroke="#141414" stroke-width="1.0"/>
<circle cx="238.6" cy="203.9" r="0.55" fill="#eeeeee"/>
<circle cx="239.4" cy="209.5" r="1.7" fill="#8c8c8c" stroke="#141414" stroke-width="1.0"/>
<circle cx="239.4" cy="209.4" r="0.55" fill="#eeeeee"/>
<circle cx="241.9" cy="210.4" r="1.7" fill="#8c8c8c" stroke="#141414" stroke-width="1.0"/>
<circle cx="241.9" cy="210.3" r="0.55" fill="#eeeeee"/>
</g>
<clipPath id="cp529"><rect x="83.4" y="220.3" width="21.8" height="21.8"/></clipPath><g clip-path="url(#cp529)">
<rect x="83.4" y="220.3" width="21.8" height="21.8" fill="#6c6c6c"/>
<rect x="94.6" y="221.6" width="7.9" height="4.0" fill="#727272" opacity="0.7"/>
<rect x="96.5" y="227.6" width="5.5" height="2.3" fill="#747474" opacity="0.7"/>
<rect x="93.1" y="231.9" width="5.4" height="3.2" fill="#727272" opacity="0.7"/>
<rect x="99.0" y="238.5" width="4.9" height="4.2" fill="#686868" opacity="0.7"/>
<rect x="99.0" y="235.8" width="4.5" height="4.6" fill="#666" opacity="0.7"/>
<circle cx="85.8" cy="225.8" r="1.7" fill="#8c8c8c" stroke="#141414" stroke-width="1.0"/>
<circle cx="85.8" cy="225.7" r="0.55" fill="#eeeeee"/>
<circle cx="93.2" cy="227.3" r="1.7" fill="#8c8c8c" stroke="#141414" stroke-width="1.0"/>
<circle cx="93.2" cy="227.2" r="0.55" fill="#eeeeee"/>
<circle cx="101.3" cy="233.2" r="1.7" fill="#8c8c8c" stroke="#141414" stroke-width="1.0"/>
<circle cx="101.3" cy="233.1" r="0.55" fill="#eeeeee"/>
<circle cx="97.4" cy="238.8" r="1.7" fill="#8c8c8c" stroke="#141414" stroke-width="1.0"/>
<circle cx="97.4" cy="238.7" r="0.55" fill="#eeeeee"/>
</g>
<clipPath id="cp530"><rect x="107.42" y="220.3" width="21.8" height="21.8"/></clipPath><g clip-path="url(#cp530)">
<rect x="107.42" y="220.3" width="21.8" height="21.8" fill="#6c6c6c"/>
<rect x="123.6" y="220.6" width="7.2" height="3.5" fill="#727272" opacity="0.7"/>
<rect x="116.4" y="226.8" width="4.2" height="3.7" fill="#666" opacity="0.7"/>
<rect x="124.9" y="233.6" width="7.2" height="4.4" fill="#686868" opacity="0.7"/>
<rect x="119.2" y="225.8" width="4.2" height="2.4" fill="#666" opacity="0.7"/>
<rect x="108.1" y="227.5" width="4.1" height="2.8" fill="#666" opacity="0.7"/>
<circle cx="109.4" cy="224.9" r="1.7" fill="#8c8c8c" stroke="#141414" stroke-width="1.0"/>
<circle cx="109.4" cy="224.8" r="0.55" fill="#eeeeee"/>
<circle cx="115.9" cy="229.0" r="1.7" fill="#8c8c8c" stroke="#141414" stroke-width="1.0"/>
<circle cx="115.9" cy="228.9" r="0.55" fill="#eeeeee"/>
<circle cx="112.7" cy="233.2" r="1.7" fill="#8c8c8c" stroke="#141414" stroke-width="1.0"/>
<circle cx="112.7" cy="233.1" r="0.55" fill="#eeeeee"/>
<circle cx="123.3" cy="237.5" r="1.7" fill="#8c8c8c" stroke="#141414" stroke-width="1.0"/>
<circle cx="123.3" cy="237.4" r="0.55" fill="#eeeeee"/>
</g>
<clipPath id="cp531"><rect x="131.44" y="220.3" width="21.8" height="21.8"/></clipPath><g clip-path="url(#cp531)">
<rect x="131.44" y="220.3" width="21.8" height="21.8" fill="#6c6c6c"/>
<rect x="148.1" y="233.2" width="6.3" height="3.3" fill="#747474" opacity="0.7"/>
<rect x="147.3" y="220.3" width="4.5" height="2.7" fill="#747474" opacity="0.7"/>
<rect x="141.8" y="220.3" width="4.9" height="3.6" fill="#727272" opacity="0.7"/>
<rect x="129.8" y="226.7" width="7.6" height="4.8" fill="#747474" opacity="0.7"/>
<rect x="146.9" y="233.5" width="4.5" height="2.9" fill="#686868" opacity="0.7"/>
<circle cx="140.2" cy="229.0" r="1.7" fill="#8c8c8c" stroke="#141414" stroke-width="1.0"/>
<circle cx="140.2" cy="228.9" r="0.55" fill="#eeeeee"/>
<circle cx="138.6" cy="233.8" r="1.7" fill="#8c8c8c" stroke="#141414" stroke-width="1.0"/>
<circle cx="138.6" cy="233.7" r="0.55" fill="#eeeeee"/>
<circle cx="150.0" cy="237.5" r="1.7" fill="#8c8c8c" stroke="#141414" stroke-width="1.0"/>
<circle cx="150.0" cy="237.4" r="0.55" fill="#eeeeee"/>
</g>
<clipPath id="cp532"><rect x="155.46" y="220.3" width="21.8" height="21.8"/></clipPath><g clip-path="url(#cp532)">
<rect x="155.46" y="220.3" width="21.8" height="21.8" fill="#6c6c6c"/>
<rect x="157.0" y="231.8" width="7.6" height="3.0" fill="#666" opacity="0.7"/>
<rect x="152.7" y="232.4" width="4.6" height="5.0" fill="#666" opacity="0.7"/>
<rect x="170.7" y="223.8" width="4.7" height="2.7" fill="#686868" opacity="0.7"/>
<rect x="162.6" y="236.5" width="6.4" height="2.2" fill="#686868" opacity="0.7"/>
<rect x="152.7" y="219.7" width="4.5" height="2.3" fill="#686868" opacity="0.7"/>
<circle cx="162.9" cy="221.6" r="1.7" fill="#8c8c8c" stroke="#141414" stroke-width="1.0"/>
<circle cx="162.9" cy="221.5" r="0.55" fill="#eeeeee"/>
<circle cx="169.4" cy="236.9" r="1.7" fill="#8c8c8c" stroke="#141414" stroke-width="1.0"/>
<circle cx="169.4" cy="236.8" r="0.55" fill="#eeeeee"/>
</g>
<clipPath id="cp533"><rect x="179.48" y="220.3" width="21.8" height="21.8"/></clipPath><g clip-path="url(#cp533)">
<rect x="179.48" y="220.3" width="21.8" height="21.8" fill="#6c6c6c"/>
<rect x="184.7" y="233.4" width="7.5" height="4.0" fill="#686868" opacity="0.7"/>
<rect x="187.1" y="224.5" width="4.6" height="4.3" fill="#747474" opacity="0.7"/>
<rect x="193.5" y="226.0" width="5.2" height="4.1" fill="#666" opacity="0.7"/>
<rect x="181.0" y="229.2" width="6.2" height="4.8" fill="#727272" opacity="0.7"/>
<rect x="195.5" y="224.1" width="4.5" height="2.0" fill="#666" opacity="0.7"/>
<circle cx="186.2" cy="229.9" r="1.7" fill="#8c8c8c" stroke="#141414" stroke-width="1.0"/>
<circle cx="186.2" cy="229.8" r="0.55" fill="#eeeeee"/>
</g>
<clipPath id="cp534"><rect x="203.5" y="220.3" width="21.8" height="21.8"/></clipPath><g clip-path="url(#cp534)">
<rect x="203.5" y="220.3" width="21.8" height="21.8" fill="#6c6c6c"/>
<rect x="209.7" y="230.3" width="6.1" height="2.8" fill="#747474" opacity="0.7"/>
<rect x="217.9" y="218.6" width="4.7" height="3.5" fill="#666" opacity="0.7"/>
<rect x="206.6" y="239.6" width="7.8" height="2.8" fill="#727272" opacity="0.7"/>
<rect x="202.4" y="227.5" width="6.3" height="3.0" fill="#666" opacity="0.7"/>
<rect x="219.4" y="237.0" width="4.7" height="2.1" fill="#686868" opacity="0.7"/>
</g>
<clipPath id="cp535"><rect x="227.52" y="220.3" width="21.8" height="21.8"/></clipPath><g clip-path="url(#cp535)">
<rect x="227.52" y="220.3" width="21.8" height="21.8" fill="#6c6c6c"/>
<rect x="227.6" y="227.4" width="4.6" height="4.5" fill="#747474" opacity="0.7"/>
<rect x="244.0" y="235.1" width="5.9" height="3.8" fill="#727272" opacity="0.7"/>
<rect x="228.6" y="229.1" width="7.3" height="4.1" fill="#727272" opacity="0.7"/>
<rect x="242.2" y="238.3" width="7.0" height="3.9" fill="#666" opacity="0.7"/>
<rect x="229.2" y="235.6" width="7.2" height="4.1" fill="#686868" opacity="0.7"/>
</g>
<clipPath id="cp536"><rect x="83.4" y="244.1" width="21.8" height="21.8"/></clipPath><g clip-path="url(#cp536)">
<rect x="83.4" y="244.1" width="21.8" height="21.8" fill="#6c6c6c"/>
<rect x="96.6" y="255.8" width="6.2" height="3.1" fill="#666" opacity="0.7"/>
<rect x="94.2" y="257.9" width="5.8" height="3.2" fill="#727272" opacity="0.7"/>
<rect x="82.8" y="250.3" width="4.9" height="4.0" fill="#727272" opacity="0.7"/>
<rect x="100.4" y="250.1" width="7.7" height="2.2" fill="#747474" opacity="0.7"/>
<rect x="82.2" y="259.1" width="7.9" height="3.9" fill="#666" opacity="0.7"/>
<circle cx="94.3" cy="256.5" r="1.7" fill="#8c8c8c" stroke="#141414" stroke-width="1.0"/>
<circle cx="94.3" cy="256.4" r="0.55" fill="#eeeeee"/>
<circle cx="97.4" cy="263.1" r="1.7" fill="#8c8c8c" stroke="#141414" stroke-width="1.0"/>
<circle cx="97.4" cy="263.0" r="0.55" fill="#eeeeee"/>
</g>
<clipPath id="cp537"><rect x="107.42" y="244.1" width="21.8" height="21.8"/></clipPath><g clip-path="url(#cp537)">
<rect x="107.42" y="244.1" width="21.8" height="21.8" fill="#6c6c6c"/>
<rect x="120.3" y="263.7" width="4.2" height="3.6" fill="#727272" opacity="0.7"/>
<rect x="113.8" y="257.4" width="5.3" height="4.0" fill="#686868" opacity="0.7"/>
<rect x="125.9" y="263.8" width="6.3" height="3.2" fill="#666" opacity="0.7"/>
<rect x="115.2" y="255.7" width="5.1" height="4.3" fill="#666" opacity="0.7"/>
<rect x="121.4" y="247.1" width="7.8" height="4.1" fill="#686868" opacity="0.7"/>
<circle cx="114.2" cy="246.3" r="1.7" fill="#8c8c8c" stroke="#141414" stroke-width="1.0"/>
<circle cx="114.2" cy="246.2" r="0.55" fill="#eeeeee"/>
<circle cx="120.5" cy="259.1" r="1.7" fill="#8c8c8c" stroke="#141414" stroke-width="1.0"/>
<circle cx="120.5" cy="259.0" r="0.55" fill="#eeeeee"/>
<circle cx="122.2" cy="263.1" r="1.7" fill="#8c8c8c" stroke="#141414" stroke-width="1.0"/>
<circle cx="122.2" cy="263.0" r="0.55" fill="#eeeeee"/>
</g>
<clipPath id="cp538"><rect x="131.44" y="244.1" width="21.8" height="21.8"/></clipPath><g clip-path="url(#cp538)">
<rect x="131.44" y="244.1" width="21.8" height="21.8" fill="#6c6c6c"/>
<rect x="134.3" y="243.1" width="4.2" height="2.8" fill="#747474" opacity="0.7"/>
<rect x="140.2" y="244.2" width="7.3" height="4.9" fill="#727272" opacity="0.7"/>
<rect x="145.3" y="250.5" width="6.2" height="3.2" fill="#666" opacity="0.7"/>
<rect x="131.7" y="255.0" width="5.8" height="3.3" fill="#686868" opacity="0.7"/>
<rect x="141.5" y="260.1" width="7.4" height="2.9" fill="#747474" opacity="0.7"/>
<circle cx="140.2" cy="247.6" r="1.7" fill="#8c8c8c" stroke="#141414" stroke-width="1.0"/>
<circle cx="140.2" cy="247.5" r="0.55" fill="#eeeeee"/>
<circle cx="142.1" cy="255.9" r="1.7" fill="#8c8c8c" stroke="#141414" stroke-width="1.0"/>
<circle cx="142.1" cy="255.8" r="0.55" fill="#eeeeee"/>
<circle cx="146.7" cy="263.1" r="1.7" fill="#8c8c8c" stroke="#141414" stroke-width="1.0"/>
<circle cx="146.7" cy="263.0" r="0.55" fill="#eeeeee"/>
</g>
<clipPath id="cp539"><rect x="155.46" y="244.1" width="21.8" height="21.8"/></clipPath><g clip-path="url(#cp539)">
<rect x="155.46" y="244.1" width="21.8" height="21.8" fill="#6c6c6c"/>
<rect x="158.9" y="258.5" width="7.4" height="4.5" fill="#666" opacity="0.7"/>
<rect x="160.5" y="243.5" width="4.9" height="4.9" fill="#666" opacity="0.7"/>
<rect x="155.1" y="254.6" width="6.9" height="2.0" fill="#666" opacity="0.7"/>
<rect x="155.6" y="243.0" width="6.0" height="4.6" fill="#666" opacity="0.7"/>
<rect x="173.4" y="253.1" width="6.0" height="4.6" fill="#686868" opacity="0.7"/>
<circle cx="169.4" cy="247.6" r="1.7" fill="#8c8c8c" stroke="#141414" stroke-width="1.0"/>
<circle cx="169.4" cy="247.5" r="0.55" fill="#eeeeee"/>
<circle cx="170.1" cy="252.8" r="1.7" fill="#8c8c8c" stroke="#141414" stroke-width="1.0"/>
<circle cx="170.1" cy="252.7" r="0.55" fill="#eeeeee"/>
<circle cx="169.4" cy="262.4" r="1.7" fill="#8c8c8c" stroke="#141414" stroke-width="1.0"/>
<circle cx="169.4" cy="262.3" r="0.55" fill="#eeeeee"/>
</g>
<clipPath id="cp540"><rect x="179.48" y="244.1" width="21.8" height="21.8"/></clipPath><g clip-path="url(#cp540)">
<rect x="179.48" y="244.1" width="21.8" height="21.8" fill="#6c6c6c"/>
<rect x="189.8" y="256.7" width="5.9" height="3.8" fill="#666" opacity="0.7"/>
<rect x="189.2" y="244.0" width="7.7" height="2.2" fill="#747474" opacity="0.7"/>
<rect x="187.8" y="262.3" width="7.8" height="3.7" fill="#747474" opacity="0.7"/>
<rect x="198.1" y="256.0" width="4.2" height="3.6" fill="#747474" opacity="0.7"/>
<rect x="182.1" y="256.5" width="4.5" height="2.2" fill="#666" opacity="0.7"/>
<circle cx="199.1" cy="244.5" r="1.7" fill="#8c8c8c" stroke="#141414" stroke-width="1.0"/>
<circle cx="199.1" cy="244.4" r="0.55" fill="#eeeeee"/>
<circle cx="194.5" cy="262.4" r="1.7" fill="#8c8c8c" stroke="#141414" stroke-width="1.0"/>
<circle cx="194.5" cy="262.3" r="0.55" fill="#eeeeee"/>
</g>
<clipPath id="cp541"><rect x="203.5" y="244.1" width="21.8" height="21.8"/></clipPath><g clip-path="url(#cp541)">
<rect x="203.5" y="244.1" width="21.8" height="21.8" fill="#6c6c6c"/>
<rect x="208.3" y="252.3" width="7.5" height="3.6" fill="#727272" opacity="0.7"/>
<rect x="207.4" y="258.6" width="6.3" height="2.5" fill="#666" opacity="0.7"/>
<rect x="206.3" y="248.7" width="5.1" height="4.7" fill="#666" opacity="0.7"/>
<rect x="217.7" y="250.8" width="5.5" height="4.8" fill="#747474" opacity="0.7"/>
<rect x="202.9" y="261.1" width="5.8" height="4.7" fill="#727272" opacity="0.7"/>
<circle cx="219.4" cy="262.4" r="1.7" fill="#8c8c8c" stroke="#141414" stroke-width="1.0"/>
<circle cx="219.4" cy="262.3" r="0.55" fill="#eeeeee"/>
</g>
<clipPath id="cp542"><rect x="227.52" y="244.1" width="21.8" height="21.8"/></clipPath><g clip-path="url(#cp542)">
<rect x="227.52" y="244.1" width="21.8" height="21.8" fill="#6c6c6c"/>
<rect x="235.0" y="245.6" width="4.7" height="3.8" fill="#727272" opacity="0.7"/>
<rect x="227.4" y="248.1" width="8.0" height="4.1" fill="#666" opacity="0.7"/>
<rect x="239.1" y="242.4" width="4.4" height="3.8" fill="#727272" opacity="0.7"/>
<rect x="243.2" y="259.7" width="5.5" height="3.2" fill="#747474" opacity="0.7"/>
<rect x="245.0" y="254.3" width="7.1" height="5.0" fill="#747474" opacity="0.7"/>
<circle cx="242.1" cy="261.1" r="1.7" fill="#8c8c8c" stroke="#141414" stroke-width="1.0"/>
<circle cx="242.1" cy="261.0" r="0.55" fill="#eeeeee"/>
</g>
<clipPath id="cp543"><rect x="83.4" y="267.9" width="21.8" height="21.8"/></clipPath><g clip-path="url(#cp543)">
<rect x="83.4" y="267.9" width="21.8" height="21.8" fill="#6c6c6c"/>
<rect x="98.8" y="287.3" width="4.4" height="4.3" fill="#727272" opacity="0.7"/>
<rect x="93.3" y="283.6" width="4.3" height="2.2" fill="#686868" opacity="0.7"/>
<rect x="100.9" y="279.3" width="7.5" height="4.2" fill="#747474" opacity="0.7"/>
<rect x="99.0" y="280.8" width="4.1" height="4.3" fill="#666" opacity="0.7"/>
<rect x="80.8" y="282.7" width="5.4" height="2.5" fill="#747474" opacity="0.7"/>
<circle cx="91.0" cy="273.3" r="1.7" fill="#8c8c8c" stroke="#141414" stroke-width="1.0"/>
<circle cx="91.0" cy="273.2" r="0.55" fill="#eeeeee"/>
<circle cx="96.5" cy="272.0" r="1.7" fill="#8c8c8c" stroke="#141414" stroke-width="1.0"/>
<circle cx="96.5" cy="271.9" r="0.55" fill="#eeeeee"/>
<circle cx="96.5" cy="281.6" r="1.7" fill="#8c8c8c" stroke="#141414" stroke-width="1.0"/>
<circle cx="96.5" cy="281.5" r="0.55" fill="#eeeeee"/>
<circle cx="96.5" cy="286.2" r="1.7" fill="#8c8c8c" stroke="#141414" stroke-width="1.0"/>
<circle cx="96.5" cy="286.1" r="0.55" fill="#eeeeee"/>
</g>
<clipPath id="cp544"><rect x="107.42" y="267.9" width="21.8" height="21.8"/></clipPath><g clip-path="url(#cp544)">
<rect x="107.42" y="267.9" width="21.8" height="21.8" fill="#6c6c6c"/>
<rect x="118.9" y="272.0" width="6.4" height="2.8" fill="#686868" opacity="0.7"/>
<rect x="118.6" y="267.4" width="7.9" height="3.2" fill="#666" opacity="0.7"/>
<rect x="124.4" y="274.6" width="6.6" height="2.3" fill="#727272" opacity="0.7"/>
<rect x="124.4" y="269.9" width="7.5" height="2.2" fill="#686868" opacity="0.7"/>
<rect x="115.7" y="276.7" width="6.0" height="3.1" fill="#666" opacity="0.7"/>
<circle cx="114.2" cy="272.7" r="1.7" fill="#8c8c8c" stroke="#141414" stroke-width="1.0"/>
<circle cx="114.2" cy="272.6" r="0.55" fill="#eeeeee"/>
<circle cx="122.2" cy="272.0" r="1.7" fill="#8c8c8c" stroke="#141414" stroke-width="1.0"/>
<circle cx="122.2" cy="271.9" r="0.55" fill="#eeeeee"/>
<circle cx="119.0" cy="280.8" r="1.7" fill="#8c8c8c" stroke="#141414" stroke-width="1.0"/>
<circle cx="119.0" cy="280.7" r="0.55" fill="#eeeeee"/>
<circle cx="120.5" cy="285.6" r="1.7" fill="#8c8c8c" stroke="#141414" stroke-width="1.0"/>
<circle cx="120.5" cy="285.5" r="0.55" fill="#eeeeee"/>
</g>
<clipPath id="cp545"><rect x="131.44" y="267.9" width="21.8" height="21.8"/></clipPath><g clip-path="url(#cp545)">
<rect x="131.44" y="267.9" width="21.8" height="21.8" fill="#6c6c6c"/>
<rect x="133.1" y="285.3" width="4.9" height="2.2" fill="#666" opacity="0.7"/>
<rect x="136.2" y="281.3" width="4.9" height="4.4" fill="#666" opacity="0.7"/>
<rect x="131.0" y="271.8" width="7.8" height="2.6" fill="#666" opacity="0.7"/>
<rect x="134.2" y="282.7" width="5.6" height="4.6" fill="#747474" opacity="0.7"/>
<rect x="134.4" y="285.6" width="4.6" height="2.5" fill="#666" opacity="0.7"/>
<circle cx="138.6" cy="273.3" r="1.7" fill="#8c8c8c" stroke="#141414" stroke-width="1.0"/>
<circle cx="138.6" cy="273.2" r="0.55" fill="#eeeeee"/>
<circle cx="146.7" cy="272.0" r="1.7" fill="#8c8c8c" stroke="#141414" stroke-width="1.0"/>
<circle cx="146.7" cy="271.9" r="0.55" fill="#eeeeee"/>
<circle cx="143.4" cy="280.8" r="1.7" fill="#8c8c8c" stroke="#141414" stroke-width="1.0"/>
<circle cx="143.4" cy="280.7" r="0.55" fill="#eeeeee"/>
<circle cx="145.0" cy="284.5" r="1.7" fill="#8c8c8c" stroke="#141414" stroke-width="1.0"/>
<circle cx="145.0" cy="284.4" r="0.55" fill="#eeeeee"/>
</g>
<clipPath id="cp546"><rect x="155.46" y="267.9" width="21.8" height="21.8"/></clipPath><g clip-path="url(#cp546)">
<rect x="155.46" y="267.9" width="21.8" height="21.8" fill="#6c6c6c"/>
<rect x="152.8" y="274.5" width="7.0" height="3.1" fill="#666" opacity="0.7"/>
<rect x="155.7" y="268.7" width="7.9" height="3.1" fill="#686868" opacity="0.7"/>
<rect x="153.8" y="267.1" width="5.5" height="3.7" fill="#727272" opacity="0.7"/>
<rect x="158.7" y="284.7" width="6.4" height="3.8" fill="#666" opacity="0.7"/>
<rect x="173.1" y="286.9" width="5.3" height="4.9" fill="#727272" opacity="0.7"/>
<circle cx="161.3" cy="273.3" r="1.7" fill="#8c8c8c" stroke="#141414" stroke-width="1.0"/>
<circle cx="161.3" cy="273.2" r="0.55" fill="#eeeeee"/>
<circle cx="169.4" cy="272.7" r="1.7" fill="#8c8c8c" stroke="#141414" stroke-width="1.0"/>
<circle cx="169.4" cy="272.6" r="0.55" fill="#eeeeee"/>
<circle cx="162.9" cy="280.8" r="1.7" fill="#8c8c8c" stroke="#141414" stroke-width="1.0"/>
<circle cx="162.9" cy="280.7" r="0.55" fill="#eeeeee"/>
<circle cx="168.5" cy="283.6" r="1.7" fill="#8c8c8c" stroke="#141414" stroke-width="1.0"/>
<circle cx="168.5" cy="283.5" r="0.55" fill="#eeeeee"/>
</g>
<clipPath id="cp547"><rect x="179.48" y="267.9" width="21.8" height="21.8"/></clipPath><g clip-path="url(#cp547)">
<rect x="179.48" y="267.9" width="21.8" height="21.8" fill="#6c6c6c"/>
<rect x="177.5" y="281.2" width="7.1" height="2.6" fill="#686868" opacity="0.7"/>
<rect x="184.4" y="270.6" width="4.3" height="3.4" fill="#686868" opacity="0.7"/>
<rect x="194.7" y="266.6" width="7.1" height="3.9" fill="#686868" opacity="0.7"/>
<rect x="177.4" y="279.0" width="7.1" height="2.6" fill="#747474" opacity="0.7"/>
<rect x="183.3" y="268.1" width="6.4" height="2.3" fill="#686868" opacity="0.7"/>
<circle cx="186.2" cy="273.3" r="1.7" fill="#8c8c8c" stroke="#141414" stroke-width="1.0"/>
<circle cx="186.2" cy="273.2" r="0.55" fill="#eeeeee"/>
<circle cx="193.6" cy="272.0" r="1.7" fill="#8c8c8c" stroke="#141414" stroke-width="1.0"/>
<circle cx="193.6" cy="271.9" r="0.55" fill="#eeeeee"/>
<circle cx="192.1" cy="285.6" r="1.7" fill="#8c8c8c" stroke="#141414" stroke-width="1.0"/>
<circle cx="192.1" cy="285.5" r="0.55" fill="#eeeeee"/>
</g>
<clipPath id="cp548"><rect x="203.5" y="267.9" width="21.8" height="21.8"/></clipPath><g clip-path="url(#cp548)">
<rect x="203.5" y="267.9" width="21.8" height="21.8" fill="#6c6c6c"/>
<rect x="221.3" y="283.3" width="7.0" height="4.6" fill="#727272" opacity="0.7"/>
<rect x="211.5" y="279.2" width="7.8" height="4.7" fill="#727272" opacity="0.7"/>
<rect x="206.4" y="284.7" width="7.5" height="2.2" fill="#727272" opacity="0.7"/>
<rect x="221.5" y="273.3" width="6.7" height="3.7" fill="#666" opacity="0.7"/>
<rect x="209.1" y="284.7" width="5.8" height="2.2" fill="#727272" opacity="0.7"/>
<circle cx="209.8" cy="273.3" r="1.7" fill="#8c8c8c" stroke="#141414" stroke-width="1.0"/>
<circle cx="209.8" cy="273.2" r="0.55" fill="#eeeeee"/>
<circle cx="217.2" cy="273.3" r="1.7" fill="#8c8c8c" stroke="#141414" stroke-width="1.0"/>
<circle cx="217.2" cy="273.2" r="0.55" fill="#eeeeee"/>
<circle cx="215.3" cy="284.5" r="1.7" fill="#8c8c8c" stroke="#141414" stroke-width="1.0"/>
<circle cx="215.3" cy="284.4" r="0.55" fill="#eeeeee"/>
</g>
<clipPath id="cp549"><rect x="227.52" y="267.9" width="21.8" height="21.8"/></clipPath><g clip-path="url(#cp549)">
<rect x="227.52" y="267.9" width="21.8" height="21.8" fill="#6c6c6c"/>
<rect x="244.7" y="270.3" width="7.8" height="3.6" fill="#727272" opacity="0.7"/>
<rect x="228.5" y="284.6" width="7.4" height="3.0" fill="#666" opacity="0.7"/>
<rect x="238.9" y="267.5" width="7.5" height="3.5" fill="#727272" opacity="0.7"/>
<rect x="244.7" y="284.7" width="4.4" height="2.7" fill="#666" opacity="0.7"/>
<rect x="242.4" y="287.5" width="5.9" height="3.4" fill="#747474" opacity="0.7"/>
<circle cx="233.4" cy="274.2" r="1.7" fill="#8c8c8c" stroke="#141414" stroke-width="1.0"/>
<circle cx="233.4" cy="274.1" r="0.55" fill="#eeeeee"/>
<circle cx="240.6" cy="272.7" r="1.7" fill="#8c8c8c" stroke="#141414" stroke-width="1.0"/>
<circle cx="240.6" cy="272.6" r="0.55" fill="#eeeeee"/>
<circle cx="238.9" cy="285.6" r="1.7" fill="#8c8c8c" stroke="#141414" stroke-width="1.0"/>
<circle cx="238.9" cy="285.5" r="0.55" fill="#eeeeee"/>
</g>
<path d="M81.5,149 L81.5,218.4 L74.8,218.4 Z" fill="#aa0533"/>
<path d="M81.5,220.6 L81.5,289.8 L74.8,289.8 Z" fill="#aa0533"/>
<text transform="translate(71.7,187.9) rotate(-90)" x="0" y="0" font-size="12.5" text-anchor="middle" font-weight="normal" fill="#333" textLength="39.5" lengthAdjust="spacingAndGlyphs">&#945;CD43</text>
<text transform="translate(71.7,259.3) rotate(-90)" x="0" y="0" font-size="12.5" text-anchor="middle" font-weight="normal" fill="#333" textLength="38.5" lengthAdjust="spacingAndGlyphs">&#945;CD44</text>
<text transform="translate(52.5,206.8) rotate(-90)" x="0" y="0" font-size="15.5" text-anchor="middle" font-weight="normal" fill="#3a3a3a" textLength="75.7" lengthAdjust="spacingAndGlyphs">Concentration</text>
<line x1="82.8" y1="297.6" x2="240" y2="297.6" stroke="#111" stroke-width="1.7"/>
<path d="M235.8,293 L248.5,297.4 L235.8,302 L238.5,297.5 Z" fill="#111"/>
<text x="83.3" y="310.7" font-size="14.5" text-anchor="start" font-weight="normal" fill="#3a3a3a" textLength="24.4" lengthAdjust="spacingAndGlyphs" >Time</text>
<text x="12.0" y="334.6" font-size="16.5" text-anchor="start" font-weight="bold" fill="#111" textLength="12.0" lengthAdjust="spacingAndGlyphs" stroke="#111" stroke-width="0.55">D</text>
<text transform="translate(45.8,386.3) rotate(-90)" x="0" y="0" font-size="14.5" text-anchor="middle" font-weight="normal" fill="#3a3a3a" textLength="72" lengthAdjust="spacingAndGlyphs">Frequency [%]</text>
<text x="109.0" y="357.5" font-size="12.2" text-anchor="middle" font-weight="bold" fill="#111" textLength="46.5" lengthAdjust="spacingAndGlyphs" >&#945;CD43</text>
<g fill="none" stroke-linejoin="round">
<polyline points="83.6,366.6 84.6,378.6 85.7,389.2 86.6,397.3 87.5,402.6 88.3,406.6" stroke="#41577f" stroke-width="1.5" />
<polyline points="83.6,366.6 84.6,378.6 85.7,389.2 86.6,397.3 87.5,402.6 88.3,406.6" stroke="#4b4e66" stroke-width="1.5" stroke-dasharray="2,1.5"/>
<polyline points="83.6,375.9 84.5,378.6 85.3,383.9 86.2,389.2 86.7,391.6 87.9,397.3 89.2,402.6 90.0,406.3 90.9,399.9 91.8,398.9 92.6,403.9 93.5,401.3 94.3,405.9 95.6,404.6 96.5,406.6" stroke="#9e2246" stroke-width="1.6" stroke-dasharray="3,0.8"/>
<polyline points="83.6,391.9 84.0,390.6 84.6,392.6 85.1,393.3 85.6,390.6 86.0,390.9 86.4,392.8 86.9,391.9 87.3,392.1 87.7,391.3 88.1,390.8 88.6,393.4 89.0,393.7 89.4,390.7 89.9,392.2 90.3,390.9 90.7,393.8 91.2,391.1 91.6,390.3 92.0,397.5 92.4,390.3 92.9,393.0 93.3,393.7 93.7,392.1 94.2,392.9 94.6,393.0 95.0,397.5 95.4,391.7 95.9,393.1 96.3,393.7 96.7,391.1 97.2,390.3 97.6,390.7 98.0,392.7 98.4,390.6 98.9,392.1 99.3,394.0 99.7,391.3 100.2,393.7 100.6,391.9 101.0,393.2 101.4,392.8 101.9,392.9 102.3,395.3 102.7,392.5 103.2,393.0 103.6,394.7 104.0,391.8 104.4,393.6 104.9,394.9 105.3,392.3 105.7,394.3 106.2,394.1 106.6,396.2 107.0,393.3 107.5,393.8 107.9,394.7 108.3,400.1 108.7,394.8 109.2,395.1 109.6,395.8 110.0,395.3 110.5,395.1 110.9,397.4 111.3,397.0 111.7,394.6 112.2,394.9 112.6,397.1 113.0,397.7 113.5,398.2 113.9,401.6 114.3,399.8 114.7,396.7 115.2,397.8 115.6,397.2 116.0,400.6 116.5,397.6 116.9,398.9 117.3,397.5 117.7,397.3 118.2,402.1 118.6,397.1 119.0,397.3 119.5,398.0 119.9,396.6 120.3,398.4 120.8,398.0 121.2,398.4 121.6,401.3 122.0,397.2 122.5,399.8 122.9,399.9 123.3,398.4 123.8,405.3 124.2,401.3 124.6,398.0 125.0,401.1 125.5,398.2 125.9,400.1 126.3,400.8 126.8,399.7 127.2,405.9 127.6,401.4 128.0,401.4 128.5,402.0 128.9,401.6 129.3,400.1 129.8,402.3 130.2,400.1 130.6,402.1 131.0,400.9 131.5,399.9 131.9,403.6 132.3,400.5 132.8,401.2 133.2,401.0 133.6,403.0 134.1,401.1 134.5,400.9 134.9,404.1" stroke="#a3163e" stroke-width="1.8"/>
</g>
<text x="98.7" y="389.0" font-size="12.5" text-anchor="middle" font-weight="normal" fill="#3a3a3a" textLength="13" lengthAdjust="spacingAndGlyphs" >***</text>
<line x1="83.6" y1="362.2" x2="83.6" y2="407.6" stroke="#111" stroke-width="2"/>
<line x1="82.69999999999999" y1="406.8" x2="138.1" y2="406.8" stroke="#111" stroke-width="1.6"/>
<line x1="80.2" y1="406.6" x2="83.6" y2="406.6" stroke="#111" stroke-width="1.1"/>
<line x1="81.0" y1="402.6" x2="83.6" y2="402.6" stroke="#111" stroke-width="1.1"/>
<line x1="81.0" y1="400.2" x2="83.6" y2="400.2" stroke="#111" stroke-width="1.1"/>
<line x1="81.0" y1="398.6" x2="83.6" y2="398.6" stroke="#111" stroke-width="1.1"/>
<line x1="81.0" y1="397.3" x2="83.6" y2="397.3" stroke="#111" stroke-width="1.1"/>
<line x1="81.0" y1="396.2" x2="83.6" y2="396.2" stroke="#111" stroke-width="1.1"/>
<line x1="81.0" y1="395.3" x2="83.6" y2="395.3" stroke="#111" stroke-width="1.1"/>
<line x1="81.0" y1="394.5" x2="83.6" y2="394.5" stroke="#111" stroke-width="1.1"/>
<line x1="81.0" y1="393.9" x2="83.6" y2="393.9" stroke="#111" stroke-width="1.1"/>
<line x1="80.2" y1="393.2" x2="83.6" y2="393.2" stroke="#111" stroke-width="1.1"/>
<line x1="81.0" y1="389.2" x2="83.6" y2="389.2" stroke="#111" stroke-width="1.1"/>
<line x1="81.0" y1="386.9" x2="83.6" y2="386.9" stroke="#111" stroke-width="1.1"/>
<line x1="81.0" y1="385.2" x2="83.6" y2="385.2" stroke="#111" stroke-width="1.1"/>
<line x1="81.0" y1="383.9" x2="83.6" y2="383.9" stroke="#111" stroke-width="1.1"/>
<line x1="81.0" y1="382.9" x2="83.6" y2="382.9" stroke="#111" stroke-width="1.1"/>
<line x1="81.0" y1="382.0" x2="83.6" y2="382.0" stroke="#111" stroke-width="1.1"/>
<line x1="81.0" y1="381.2" x2="83.6" y2="381.2" stroke="#111" stroke-width="1.1"/>
<line x1="81.0" y1="380.5" x2="83.6" y2="380.5" stroke="#111" stroke-width="1.1"/>
<line x1="80.2" y1="379.9" x2="83.6" y2="379.9" stroke="#111" stroke-width="1.1"/>
<line x1="81.0" y1="375.9" x2="83.6" y2="375.9" stroke="#111" stroke-width="1.1"/>
<line x1="81.0" y1="373.5" x2="83.6" y2="373.5" stroke="#111" stroke-width="1.1"/>
<line x1="81.0" y1="371.9" x2="83.6" y2="371.9" stroke="#111" stroke-width="1.1"/>
<line x1="81.0" y1="370.6" x2="83.6" y2="370.6" stroke="#111" stroke-width="1.1"/>
<line x1="81.0" y1="369.5" x2="83.6" y2="369.5" stroke="#111" stroke-width="1.1"/>
<line x1="81.0" y1="368.6" x2="83.6" y2="368.6" stroke="#111" stroke-width="1.1"/>
<line x1="81.0" y1="367.8" x2="83.6" y2="367.8" stroke="#111" stroke-width="1.1"/>
<line x1="81.0" y1="367.2" x2="83.6" y2="367.2" stroke="#111" stroke-width="1.1"/>
<line x1="80.19999999999999" y1="366.6" x2="83.6" y2="366.6" stroke="#111" stroke-width="1.1"/>
<line x1="83.6" y1="406.8" x2="83.6" y2="409.8" stroke="#111" stroke-width="1.2"/>
<line x1="100.8" y1="406.8" x2="100.8" y2="409.8" stroke="#111" stroke-width="1.2"/>
<line x1="117.9" y1="406.8" x2="117.9" y2="409.8" stroke="#111" stroke-width="1.2"/>
<line x1="135.1" y1="406.8" x2="135.1" y2="409.8" stroke="#111" stroke-width="1.2"/>
<text x="175.0" y="357.5" font-size="12.2" text-anchor="middle" font-weight="bold" fill="#111" textLength="46.5" lengthAdjust="spacingAndGlyphs" >&#945;CD44</text>
<g fill="none" stroke-linejoin="round">
<polygon points="150.0,390.6 150.3,379.2 150.8,382.6 152.1,390.6 153.4,393.2 156.2,393.8 156.8,393.2 157.3,393.6 157.9,396.1 158.5,396.5 159.1,395.1 159.7,395.7 160.3,396.3 160.9,397.5 161.5,397.2 162.1,397.6 162.7,398.1 163.3,399.5 163.8,399.3 164.4,399.7 165.0,399.4 165.6,399.1 166.2,399.6 166.8,401.0 167.4,401.6 168.0,402.5 168.6,403.4 169.2,403.8 169.8,403.2 170.4,403.9 170.9,404.2 171.5,403.4 172.1,404.6 172.7,405.0 173.3,406.1 173.9,406.9 174.5,406.7 175.1,406.9 175.1,406.9 163.1,406.9 158.4,402.6 155.0,398.1 152.5,394.6 151.3,390.6 150.4,389.2" fill="#41577f" stroke="#41577f" stroke-width="0.8"/>
<polyline points="150.0,393.2 150.5,379.9 151.3,382.6 152.5,389.2 154.2,393.2 155.9,397.3" stroke="#4b4e66" stroke-width="1.4"/>
<polyline points="150.0,381.2 150.5,380.6 151.3,385.9 152.1,387.9 152.5,388.6 153.0,389.4 153.4,387.4 153.9,388.9 154.3,391.2 154.8,388.2 155.3,388.8 155.7,389.2 156.2,388.6 156.7,389.3 157.1,389.4 157.6,391.4 158.1,388.8 158.5,389.0 159.0,392.7 159.5,390.2 159.9,390.5 160.4,391.7 160.9,391.6 161.3,391.9 161.8,390.1 162.2,392.1 162.7,390.8 163.2,393.0 163.6,390.8 164.1,390.9 164.6,392.9 165.0,392.6 165.5,391.2 166.0,392.2 166.4,393.3 166.9,394.6 167.4,394.3 167.8,392.8 168.3,395.3 168.7,392.1 169.2,395.1 169.7,392.4 170.1,395.2 170.6,392.5 171.1,393.7 171.5,394.7 172.0,394.8 172.5,394.3 172.9,394.7 173.4,396.1 173.9,396.7 174.3,395.5 174.8,393.7 175.3,395.2 175.7,397.8 176.2,395.1 176.6,397.5 177.1,398.3 177.6,397.4 178.0,399.3 178.5,395.2 179.0,398.1 179.4,397.3 179.9,399.2 180.4,398.7 180.8,399.2 181.3,399.6 181.8,399.7 182.2,399.7 182.7,397.1 183.1,400.0 183.6,403.5 184.1,397.8 184.5,400.1 185.0,400.6 185.5,397.5 185.9,397.1 186.4,397.4 186.9,399.2 187.3,398.5 187.8,401.1 188.3,402.5 188.7,400.1 189.2,401.3 189.6,400.9 190.1,404.9 190.6,404.5 191.0,406.6 191.5,400.4 192.0,398.6 192.4,401.9 192.9,401.9 193.4,400.4 193.8,400.2 194.3,401.5 194.8,406.9 195.2,403.2 195.7,406.0 196.2,402.9 196.6,401.8 197.1,402.8 197.5,403.4 198.0,400.2 198.5,402.7 198.9,406.2 199.4,405.5 199.9,401.5 200.3,402.8" stroke="#a3163e" stroke-width="1.6" />
<polyline points="150.0,382.8 150.5,382.2 151.3,387.5 152.1,389.5 152.5,390.2 153.0,390.6 153.4,392.1 153.9,389.2 154.3,392.0 154.8,393.7 155.3,390.9 155.7,393.6 156.2,392.8 156.7,390.6 157.1,391.5 157.6,394.5 158.1,392.7 158.5,393.0 159.0,392.8 159.5,394.2 159.9,392.6 160.4,395.0 160.9,394.2 161.3,394.0 161.8,391.6 162.2,395.6 162.7,392.7 163.2,395.3 163.6,393.8 164.1,394.7 164.6,394.5 165.0,393.4 165.5,395.1 166.0,396.4 166.4,396.5 166.9,396.9 167.4,393.6 167.8,394.7 168.3,393.4 168.7,394.7 169.2,397.8 169.7,395.1 170.1,394.7 170.6,395.1 171.1,396.2 171.5,397.0 172.0,396.7 172.5,395.3 172.9,397.7 173.4,396.7 173.9,397.1 174.3,395.1 174.8,395.9 175.3,395.5 175.7,396.0 176.2,398.8 176.6,398.8 177.1,397.1 177.6,397.7 178.0,400.0 178.5,400.2 179.0,406.0 179.4,396.4 179.9,400.3 180.4,400.0 180.8,398.2 181.3,403.5 181.8,397.3 182.2,401.2 182.7,398.6 183.1,397.9 183.6,398.9 184.1,397.7 184.5,403.9 185.0,402.2 185.5,403.0 185.9,400.5 186.4,399.6 186.9,399.8 187.3,398.8 187.8,399.9 188.3,399.9 188.7,402.4 189.2,401.8 189.6,399.4 190.1,403.8 190.6,400.8 191.0,401.2 191.5,404.1 192.0,401.1 192.4,400.5 192.9,404.2 193.4,406.5 193.8,406.9 194.3,404.4 194.8,403.2 195.2,402.8 195.7,404.5 196.2,406.9 196.6,402.0 197.1,402.5 197.5,403.0 198.0,404.9 198.5,406.9 198.9,405.6 199.4,403.0 199.9,403.6 200.3,406.1" stroke="#9e2246" stroke-width="1.6" stroke-dasharray="2.5,1"/>
</g>
<text x="165.0" y="389.0" font-size="12.5" text-anchor="middle" font-weight="normal" fill="#3a3a3a" textLength="13" lengthAdjust="spacingAndGlyphs" >***</text>
<line x1="150.0" y1="362.2" x2="150.0" y2="407.6" stroke="#111" stroke-width="2"/>
<line x1="149.1" y1="406.8" x2="203.6" y2="406.8" stroke="#111" stroke-width="1.6"/>
<line x1="146.6" y1="406.6" x2="150.0" y2="406.6" stroke="#111" stroke-width="1.1"/>
<line x1="147.4" y1="402.6" x2="150.0" y2="402.6" stroke="#111" stroke-width="1.1"/>
<line x1="147.4" y1="400.2" x2="150.0" y2="400.2" stroke="#111" stroke-width="1.1"/>
<line x1="147.4" y1="398.6" x2="150.0" y2="398.6" stroke="#111" stroke-width="1.1"/>
<line x1="147.4" y1="397.3" x2="150.0" y2="397.3" stroke="#111" stroke-width="1.1"/>
<line x1="147.4" y1="396.2" x2="150.0" y2="396.2" stroke="#111" stroke-width="1.1"/>
<line x1="147.4" y1="395.3" x2="150.0" y2="395.3" stroke="#111" stroke-width="1.1"/>
<line x1="147.4" y1="394.5" x2="150.0" y2="394.5" stroke="#111" stroke-width="1.1"/>
<line x1="147.4" y1="393.9" x2="150.0" y2="393.9" stroke="#111" stroke-width="1.1"/>
<line x1="146.6" y1="393.2" x2="150.0" y2="393.2" stroke="#111" stroke-width="1.1"/>
<line x1="147.4" y1="389.2" x2="150.0" y2="389.2" stroke="#111" stroke-width="1.1"/>
<line x1="147.4" y1="386.9" x2="150.0" y2="386.9" stroke="#111" stroke-width="1.1"/>
<line x1="147.4" y1="385.2" x2="150.0" y2="385.2" stroke="#111" stroke-width="1.1"/>
<line x1="147.4" y1="383.9" x2="150.0" y2="383.9" stroke="#111" stroke-width="1.1"/>
<line x1="147.4" y1="382.9" x2="150.0" y2="382.9" stroke="#111" stroke-width="1.1"/>
<line x1="147.4" y1="382.0" x2="150.0" y2="382.0" stroke="#111" stroke-width="1.1"/>
<line x1="147.4" y1="381.2" x2="150.0" y2="381.2" stroke="#111" stroke-width="1.1"/>
<line x1="147.4" y1="380.5" x2="150.0" y2="380.5" stroke="#111" stroke-width="1.1"/>
<line x1="146.6" y1="379.9" x2="150.0" y2="379.9" stroke="#111" stroke-width="1.1"/>
<line x1="147.4" y1="375.9" x2="150.0" y2="375.9" stroke="#111" stroke-width="1.1"/>
<line x1="147.4" y1="373.5" x2="150.0" y2="373.5" stroke="#111" stroke-width="1.1"/>
<line x1="147.4" y1="371.9" x2="150.0" y2="371.9" stroke="#111" stroke-width="1.1"/>
<line x1="147.4" y1="370.6" x2="150.0" y2="370.6" stroke="#111" stroke-width="1.1"/>
<line x1="147.4" y1="369.5" x2="150.0" y2="369.5" stroke="#111" stroke-width="1.1"/>
<line x1="147.4" y1="368.6" x2="150.0" y2="368.6" stroke="#111" stroke-width="1.1"/>
<line x1="147.4" y1="367.8" x2="150.0" y2="367.8" stroke="#111" stroke-width="1.1"/>
<line x1="147.4" y1="367.2" x2="150.0" y2="367.2" stroke="#111" stroke-width="1.1"/>
<line x1="146.6" y1="366.6" x2="150.0" y2="366.6" stroke="#111" stroke-width="1.1"/>
<line x1="150.0" y1="406.8" x2="150.0" y2="409.8" stroke="#111" stroke-width="1.2"/>
<line x1="166.9" y1="406.8" x2="166.9" y2="409.8" stroke="#111" stroke-width="1.2"/>
<line x1="183.8" y1="406.8" x2="183.8" y2="409.8" stroke="#111" stroke-width="1.2"/>
<line x1="200.7" y1="406.8" x2="200.7" y2="409.8" stroke="#111" stroke-width="1.2"/>
<text x="83.6" y="427.4" font-size="11.8" text-anchor="middle" font-weight="normal" fill="#333" >0</text>
<text x="102.6" y="427.4" font-size="11.8" text-anchor="middle" font-weight="normal" fill="#333" textLength="14" lengthAdjust="spacingAndGlyphs" >20</text>
<text x="118.6" y="427.4" font-size="11.8" text-anchor="middle" font-weight="normal" fill="#333" textLength="14" lengthAdjust="spacingAndGlyphs" >40</text>
<text x="135.1" y="427.4" font-size="11.8" text-anchor="middle" font-weight="normal" fill="#333" textLength="14" lengthAdjust="spacingAndGlyphs" >60</text>
<text x="150.3" y="427.4" font-size="11.8" text-anchor="middle" font-weight="normal" fill="#333" >0</text>
<text x="168.1" y="427.4" font-size="11.8" text-anchor="middle" font-weight="normal" fill="#333" textLength="14" lengthAdjust="spacingAndGlyphs" >20</text>
<text x="184.6" y="427.4" font-size="11.8" text-anchor="middle" font-weight="normal" fill="#333" textLength="14" lengthAdjust="spacingAndGlyphs" >40</text>
<text x="201.1" y="427.4" font-size="11.8" text-anchor="middle" font-weight="normal" fill="#333" textLength="14" lengthAdjust="spacingAndGlyphs" >60</text>
<text x="73.6" y="370.4" font-size="11" text-anchor="end" font-weight="normal" fill="#333" >100</text>
<text x="73.6" y="383.8" font-size="11" text-anchor="end" font-weight="normal" fill="#333" >10</text>
<text x="73.6" y="397.1" font-size="11" text-anchor="end" font-weight="normal" fill="#333" >1</text>
<text x="73.6" y="410.5" font-size="11" text-anchor="end" font-weight="normal" fill="#333" >0.1</text>
<line x1="83.1" y1="435.4" x2="201" y2="435.4" stroke="#111" stroke-width="1.2"/>
<path d="M198,432.6 L206,435.4 L198,438.2 L199.5,435.4 Z" fill="#111"/>
<text x="141.6" y="453.5" font-size="14.3" text-anchor="middle" font-weight="normal" fill="#3a3a3a" textLength="87.5" lengthAdjust="spacingAndGlyphs" >Cell displacement</text>
<text x="143.4" y="470.4" font-size="14.3" text-anchor="middle" font-weight="normal" fill="#3a3a3a" textLength="66.8" lengthAdjust="spacingAndGlyphs" >[um/2.5min]</text>
<line x1="215" y1="368.9" x2="233.7" y2="368.9" stroke="#8e1a3c" stroke-width="1.6" />
<text x="238.5" y="372.2" font-size="11.5" text-anchor="start" font-weight="normal" fill="#7a2846" textLength="34.5" lengthAdjust="spacingAndGlyphs" >control</text>
<line x1="215" y1="379.8" x2="233.7" y2="379.8" stroke="#8a1a3a" stroke-width="1.6" stroke-dasharray="4.3,4.3"/>
<text x="238.5" y="383.1" font-size="11.5" text-anchor="start" font-weight="normal" fill="#7a2846" textLength="42.3" lengthAdjust="spacingAndGlyphs" >1 ug/mL</text>
<line x1="215" y1="390.8" x2="233.7" y2="390.8" stroke="#363a4c" stroke-width="1.6" stroke-dasharray="4.3,4.3"/>
<text x="238.5" y="394.1" font-size="11.5" text-anchor="start" font-weight="normal" fill="#3e4252" textLength="42.3" lengthAdjust="spacingAndGlyphs" >5 ug/mL</text>
<line x1="215" y1="401.6" x2="233.7" y2="401.6" stroke="#3c4866" stroke-width="1.6" />
<text x="238.5" y="404.9" font-size="11.5" text-anchor="start" font-weight="normal" fill="#454c60" textLength="48.4" lengthAdjust="spacingAndGlyphs" >20 ug/mL</text>
<text x="304.2" y="335.8" font-size="17.5" text-anchor="start" font-weight="bold" fill="#111" textLength="9.8" lengthAdjust="spacingAndGlyphs" stroke="#111" stroke-width="0.55">E</text>
<text x="422.6" y="334.6" font-size="12.5" text-anchor="middle" font-weight="bold" fill="#111" textLength="170.7" lengthAdjust="spacingAndGlyphs" >Movement &gt;1 cell diameter</text>
<text x="421.7" y="350.8" font-size="12.5" text-anchor="middle" font-weight="bold" fill="#111" textLength="51.3" lengthAdjust="spacingAndGlyphs" >/ 2.5min</text>
<rect x="397.2" y="360.6" width="9.3" height="5.0" fill="#aa0533"/>
<line x1="371" y1="363.1" x2="375.9" y2="363.1" stroke="#111" stroke-width="1.3"/>
<rect x="400.3" y="367.8" width="6.2" height="5.0" fill="#aa0533"/>
<line x1="371" y1="370.2" x2="375.9" y2="370.2" stroke="#111" stroke-width="1.3"/>
<rect x="406.5" y="374.9" width="12.3" height="5.0" fill="#aa0533"/>
<line x1="371" y1="377.4" x2="375.9" y2="377.4" stroke="#111" stroke-width="1.3"/>
<rect x="406.5" y="382.1" width="26.5" height="5.0" fill="#aa0533"/>
<line x1="371" y1="384.6" x2="375.9" y2="384.6" stroke="#111" stroke-width="1.3"/>
<rect x="406.5" y="389.2" width="43.2" height="5.0" fill="#aa0533"/>
<line x1="371" y1="391.7" x2="375.9" y2="391.7" stroke="#111" stroke-width="1.3"/>
<rect x="406.5" y="396.4" width="47.7" height="5.0" fill="#aa0533"/>
<line x1="371" y1="398.9" x2="375.9" y2="398.9" stroke="#111" stroke-width="1.3"/>
<rect x="406.5" y="403.5" width="56.2" height="5.0" fill="#aa0533"/>
<line x1="371" y1="406.0" x2="375.9" y2="406.0" stroke="#111" stroke-width="1.3"/>
<rect x="406.5" y="410.7" width="56.2" height="5.0" fill="#aa0533"/>
<line x1="371" y1="413.2" x2="375.9" y2="413.2" stroke="#111" stroke-width="1.3"/>
<rect x="406.5" y="417.8" width="54.0" height="5.0" fill="#aa0533"/>
<line x1="371" y1="420.3" x2="375.9" y2="420.3" stroke="#111" stroke-width="1.3"/>
<line x1="375.9" y1="359.1" x2="375.9" y2="423.5" stroke="#111" stroke-width="1.5"/>
<line x1="406.5" y1="359.1" x2="406.5" y2="423.5" stroke="#111" stroke-width="1.5"/>
<line x1="375.2" y1="422.8" x2="472.5" y2="422.8" stroke="#111" stroke-width="1.5"/>
<line x1="375.6" y1="422.8" x2="375.6" y2="427.8" stroke="#111" stroke-width="0.9"/>
<line x1="384.9" y1="422.8" x2="384.9" y2="425.6" stroke="#111" stroke-width="0.9"/>
<line x1="390.3" y1="422.8" x2="390.3" y2="425.6" stroke="#111" stroke-width="0.9"/>
<line x1="394.2" y1="422.8" x2="394.2" y2="425.6" stroke="#111" stroke-width="0.9"/>
<line x1="397.2" y1="422.8" x2="397.2" y2="425.6" stroke="#111" stroke-width="0.9"/>
<line x1="399.6" y1="422.8" x2="399.6" y2="425.6" stroke="#111" stroke-width="0.9"/>
<line x1="401.7" y1="422.8" x2="401.7" y2="425.6" stroke="#111" stroke-width="0.9"/>
<line x1="403.5" y1="422.8" x2="403.5" y2="425.6" stroke="#111" stroke-width="0.9"/>
<line x1="405.1" y1="422.8" x2="405.1" y2="425.6" stroke="#111" stroke-width="0.9"/>
<line x1="406.5" y1="422.8" x2="406.5" y2="427.8" stroke="#111" stroke-width="0.9"/>
<line x1="415.8" y1="422.8" x2="415.8" y2="425.6" stroke="#111" stroke-width="0.9"/>
<line x1="421.2" y1="422.8" x2="421.2" y2="425.6" stroke="#111" stroke-width="0.9"/>
<line x1="425.1" y1="422.8" x2="425.1" y2="425.6" stroke="#111" stroke-width="0.9"/>
<line x1="428.1" y1="422.8" x2="428.1" y2="425.6" stroke="#111" stroke-width="0.9"/>
<line x1="430.5" y1="422.8" x2="430.5" y2="425.6" stroke="#111" stroke-width="0.9"/>
<line x1="432.6" y1="422.8" x2="432.6" y2="425.6" stroke="#111" stroke-width="0.9"/>
<line x1="434.4" y1="422.8" x2="434.4" y2="425.6" stroke="#111" stroke-width="0.9"/>
<line x1="436.0" y1="422.8" x2="436.0" y2="425.6" stroke="#111" stroke-width="0.9"/>
<line x1="437.4" y1="422.8" x2="437.4" y2="427.8" stroke="#111" stroke-width="0.9"/>
<line x1="446.7" y1="422.8" x2="446.7" y2="425.6" stroke="#111" stroke-width="0.9"/>
<line x1="452.1" y1="422.8" x2="452.1" y2="425.6" stroke="#111" stroke-width="0.9"/>
<line x1="456.0" y1="422.8" x2="456.0" y2="425.6" stroke="#111" stroke-width="0.9"/>
<line x1="459.0" y1="422.8" x2="459.0" y2="425.6" stroke="#111" stroke-width="0.9"/>
<line x1="461.4" y1="422.8" x2="461.4" y2="425.6" stroke="#111" stroke-width="0.9"/>
<line x1="463.5" y1="422.8" x2="463.5" y2="425.6" stroke="#111" stroke-width="0.9"/>
<line x1="465.3" y1="422.8" x2="465.3" y2="425.6" stroke="#111" stroke-width="0.9"/>
<line x1="466.9" y1="422.8" x2="466.9" y2="425.6" stroke="#111" stroke-width="0.9"/>
<line x1="468.3" y1="422.8" x2="468.3" y2="427.8" stroke="#111" stroke-width="0.9"/>
<text x="374.8" y="442.2" font-size="12.3" text-anchor="middle" font-weight="normal" fill="#333" textLength="16.6" lengthAdjust="spacingAndGlyphs" >0.1</text>
<text x="406.2" y="442.2" font-size="12.3" text-anchor="middle" font-weight="normal" fill="#333" >1</text>
<text x="437.4" y="442.2" font-size="12.3" text-anchor="middle" font-weight="normal" fill="#333" textLength="13.9" lengthAdjust="spacingAndGlyphs" >10</text>
<text x="468" y="442.2" font-size="12.3" text-anchor="middle" font-weight="normal" fill="#333" textLength="19.6" lengthAdjust="spacingAndGlyphs" >100</text>
<text x="426" y="458" font-size="14.3" text-anchor="middle" font-weight="normal" fill="#3a3a3a" textLength="73" lengthAdjust="spacingAndGlyphs" >Frequency [%]</text>
<path d="M364.1,359.7 L368.8,359.7 L368.4,378.9 Z" fill="#aa0533"/>
<path d="M364.1,383.0 L368.8,383.0 L368.4,402.2 Z" fill="#aa0533"/>
<path d="M364.1,404.6 L368.8,404.6 L368.4,423.8 Z" fill="#aa0533"/>
<text x="358.7" y="372.7" font-size="11.5" text-anchor="end" font-weight="normal" fill="#333" textLength="38.3" lengthAdjust="spacingAndGlyphs" >&#945;CD43</text>
<text x="358.7" y="396.3" font-size="11.5" text-anchor="end" font-weight="normal" fill="#333" textLength="38.3" lengthAdjust="spacingAndGlyphs" >&#945;CD44</text>
<text x="358.7" y="417.5" font-size="11.5" text-anchor="end" font-weight="normal" fill="#333" textLength="38.3" lengthAdjust="spacingAndGlyphs" >control</text>
<line x1="468.8" y1="360.6" x2="468.8" y2="379.5" stroke="#111" stroke-width="1.4"/>
<line x1="468.8" y1="382.0" x2="468.8" y2="400.5" stroke="#111" stroke-width="1.4"/>
<line x1="468.8" y1="403.0" x2="468.8" y2="422.8" stroke="#111" stroke-width="1.4"/>
<path d="M468.8,369.9 H477.4 V400.9 H474.3" fill="none" stroke="#111" stroke-width="1.3"/>
<path d="M468.8,389.8 H474.3 V411.9 H468.8" fill="none" stroke="#111" stroke-width="1.3"/>
<text transform="translate(456.4,372.2) rotate(90)" x="0" y="0" font-size="13" text-anchor="middle" font-weight="normal" fill="#3a3a3a" textLength="15" lengthAdjust="spacingAndGlyphs">***</text>
<text transform="translate(456.4,391.9) rotate(90)" x="0" y="0" font-size="13" text-anchor="middle" font-weight="normal" fill="#3a3a3a" textLength="14" lengthAdjust="spacingAndGlyphs">***</text>
<text x="9.4" y="492.6" font-size="17.5" text-anchor="start" font-weight="bold" fill="#111" textLength="10.2" lengthAdjust="spacingAndGlyphs" stroke="#111" stroke-width="0.55">F</text>
<line x1="83.6" y1="494.2" x2="83.6" y2="548.4000000000001" stroke="#111" stroke-width="1.5"/>
<line x1="82.9" y1="547.7" x2="192" y2="547.7" stroke="#111" stroke-width="1.5"/>
<line x1="79.8" y1="547.7" x2="83.6" y2="547.7" stroke="#111" stroke-width="1.2"/>
<text x="76.0" y="551.7" font-size="11.4" text-anchor="end" font-weight="normal" fill="#333" >0</text>
<line x1="79.8" y1="535.7" x2="83.6" y2="535.7" stroke="#111" stroke-width="1.2"/>
<text x="76.0" y="539.7" font-size="11.4" text-anchor="end" font-weight="normal" fill="#333" >10</text>
<line x1="79.8" y1="523.6" x2="83.6" y2="523.6" stroke="#111" stroke-width="1.2"/>
<text x="76.0" y="527.6" font-size="11.4" text-anchor="end" font-weight="normal" fill="#333" >20</text>
<line x1="79.8" y1="511.6" x2="83.6" y2="511.6" stroke="#111" stroke-width="1.2"/>
<text x="76.0" y="515.6" font-size="11.4" text-anchor="end" font-weight="normal" fill="#333" >30</text>
<line x1="79.8" y1="499.5" x2="83.6" y2="499.5" stroke="#111" stroke-width="1.2"/>
<text x="76.0" y="503.5" font-size="11.4" text-anchor="end" font-weight="normal" fill="#333" >40</text>
<rect x="86.2" y="521.2" width="5.8" height="26.5" fill="#aa0533"/>
<line x1="89.1" y1="520.0" x2="89.1" y2="521.2" stroke="#7a0a28" stroke-width="1"/>
<line x1="87.5" y1="520.0" x2="90.7" y2="520.0" stroke="#7a0a28" stroke-width="1.2"/>
<text x="88.3" y="565.4" font-size="11.5" text-anchor="middle" font-weight="normal" fill="#333" >1</text>
<rect x="93.8" y="507.9" width="5.8" height="39.8" fill="#aa0533"/>
<line x1="96.7" y1="505.6" x2="96.7" y2="507.9" stroke="#7a0a28" stroke-width="1"/>
<line x1="95.1" y1="505.6" x2="98.3" y2="505.6" stroke="#7a0a28" stroke-width="1.2"/>
<text x="95.9" y="565.4" font-size="11.5" text-anchor="middle" font-weight="normal" fill="#333" >2</text>
<line x1="92.9" y1="547.7" x2="92.9" y2="551.9" stroke="#111" stroke-width="1.2"/>
<line x1="86.2" y1="571.3" x2="99.6" y2="571.3" stroke="#111" stroke-width="1.3"/>
<text x="106.2" y="565.4" font-size="11.5" text-anchor="middle" font-weight="normal" fill="#333" >1</text>
<rect x="111.7" y="546.7" width="5.8" height="1.0" fill="#aa0533"/>
<line x1="114.6" y1="546.1" x2="114.6" y2="546.7" stroke="#7a0a28" stroke-width="1"/>
<line x1="113.0" y1="546.1" x2="116.2" y2="546.1" stroke="#7a0a28" stroke-width="1.2"/>
<text x="113.8" y="565.4" font-size="11.5" text-anchor="middle" font-weight="normal" fill="#333" >2</text>
<line x1="110.8" y1="547.7" x2="110.8" y2="551.9" stroke="#111" stroke-width="1.2"/>
<line x1="104.1" y1="571.3" x2="117.5" y2="571.3" stroke="#111" stroke-width="1.3"/>
<rect x="122.0" y="542.3" width="5.8" height="5.4" fill="#aa0533"/>
<line x1="124.9" y1="541.1" x2="124.9" y2="542.3" stroke="#7a0a28" stroke-width="1"/>
<line x1="123.3" y1="541.1" x2="126.5" y2="541.1" stroke="#7a0a28" stroke-width="1.2"/>
<text x="124.1" y="565.4" font-size="11.5" text-anchor="middle" font-weight="normal" fill="#333" >1</text>
<rect x="129.6" y="539.3" width="5.8" height="8.4" fill="#aa0533"/>
<line x1="132.5" y1="538.1" x2="132.5" y2="539.3" stroke="#7a0a28" stroke-width="1"/>
<line x1="130.9" y1="538.1" x2="134.1" y2="538.1" stroke="#7a0a28" stroke-width="1.2"/>
<text x="131.7" y="565.4" font-size="11.5" text-anchor="middle" font-weight="normal" fill="#333" >2</text>
<line x1="128.7" y1="547.7" x2="128.7" y2="551.9" stroke="#111" stroke-width="1.2"/>
<line x1="122.0" y1="571.3" x2="135.4" y2="571.3" stroke="#111" stroke-width="1.3"/>
<rect x="139.9" y="536.9" width="5.8" height="10.8" fill="#aa0533"/>
<line x1="142.8" y1="535.6" x2="142.8" y2="536.9" stroke="#7a0a28" stroke-width="1"/>
<line x1="141.2" y1="535.6" x2="144.4" y2="535.6" stroke="#7a0a28" stroke-width="1.2"/>
<text x="142.0" y="565.4" font-size="11.5" text-anchor="middle" font-weight="normal" fill="#333" >1</text>
<rect x="147.5" y="526.0" width="5.8" height="21.7" fill="#aa0533"/>
<line x1="150.4" y1="521.3" x2="150.4" y2="526.0" stroke="#7a0a28" stroke-width="1"/>
<line x1="148.8" y1="521.3" x2="152.0" y2="521.3" stroke="#7a0a28" stroke-width="1.2"/>
<text x="149.6" y="565.4" font-size="11.5" text-anchor="middle" font-weight="normal" fill="#333" >2</text>
<line x1="146.6" y1="547.7" x2="146.6" y2="551.9" stroke="#111" stroke-width="1.2"/>
<line x1="139.9" y1="571.3" x2="153.3" y2="571.3" stroke="#111" stroke-width="1.3"/>
<rect x="157.8" y="538.1" width="5.8" height="9.6" fill="#aa0533"/>
<line x1="160.7" y1="535.7" x2="160.7" y2="538.1" stroke="#7a0a28" stroke-width="1"/>
<line x1="159.1" y1="535.7" x2="162.3" y2="535.7" stroke="#7a0a28" stroke-width="1.2"/>
<text x="159.9" y="565.4" font-size="11.5" text-anchor="middle" font-weight="normal" fill="#333" >1</text>
<rect x="165.4" y="527.2" width="5.8" height="20.5" fill="#aa0533"/>
<line x1="168.3" y1="523.1" x2="168.3" y2="527.2" stroke="#7a0a28" stroke-width="1"/>
<line x1="166.7" y1="523.1" x2="169.9" y2="523.1" stroke="#7a0a28" stroke-width="1.2"/>
<text x="167.5" y="565.4" font-size="11.5" text-anchor="middle" font-weight="normal" fill="#333" >2</text>
<line x1="164.5" y1="547.7" x2="164.5" y2="551.9" stroke="#111" stroke-width="1.2"/>
<line x1="157.8" y1="571.3" x2="171.2" y2="571.3" stroke="#111" stroke-width="1.3"/>
<rect x="175.7" y="530.8" width="5.8" height="16.9" fill="#aa0533"/>
<line x1="178.6" y1="528.2" x2="178.6" y2="530.8" stroke="#7a0a28" stroke-width="1"/>
<line x1="177.0" y1="528.2" x2="180.2" y2="528.2" stroke="#7a0a28" stroke-width="1.2"/>
<text x="177.8" y="565.4" font-size="11.5" text-anchor="middle" font-weight="normal" fill="#333" >1</text>
<rect x="183.3" y="515.2" width="5.8" height="32.5" fill="#aa0533"/>
<line x1="186.2" y1="513.0" x2="186.2" y2="515.2" stroke="#7a0a28" stroke-width="1"/>
<line x1="184.6" y1="513.0" x2="187.8" y2="513.0" stroke="#7a0a28" stroke-width="1.2"/>
<text x="185.4" y="565.4" font-size="11.5" text-anchor="middle" font-weight="normal" fill="#333" >2</text>
<line x1="182.4" y1="547.7" x2="182.4" y2="551.9" stroke="#111" stroke-width="1.2"/>
<line x1="175.7" y1="571.3" x2="189.1" y2="571.3" stroke="#111" stroke-width="1.3"/>
<text x="34" y="565.4" font-size="11" text-anchor="start" font-weight="normal" fill="#333" textLength="48.2" lengthAdjust="spacingAndGlyphs" >wash no.</text>
<path d="M110.4,534.8 V502.7 H146.6 V505.6" fill="none" stroke="#111" stroke-width="1.3"/>
<path d="M129.8,527.5 V505.6 H161.6 V508.7" fill="none" stroke="#111" stroke-width="1.3"/>
<path d="M141.7,508.7 H186.8" fill="none" stroke="#111" stroke-width="1.3"/>
<text x="109.6" y="548.3" font-size="12.5" text-anchor="middle" font-weight="normal" fill="#3a3a3a" textLength="15.5" lengthAdjust="spacingAndGlyphs" >***</text>
<text x="128.8" y="539.5" font-size="12.5" text-anchor="middle" font-weight="normal" fill="#3a3a3a" textLength="15.5" lengthAdjust="spacingAndGlyphs" >***</text>
<text transform="translate(37.7,523.3) rotate(-90)" x="0" y="0" font-size="14.3" text-anchor="middle" font-weight="normal" fill="#3a3a3a" textLength="18.8" lengthAdjust="spacingAndGlyphs">Cell</text>
<text transform="translate(55.5,522.6) rotate(-90)" x="0" y="0" font-size="14.3" text-anchor="middle" font-weight="normal" fill="#3a3a3a" textLength="39.4" lengthAdjust="spacingAndGlyphs">loss [%]</text>
<text transform="translate(95.7,580.2) rotate(-45)" x="0" y="0" font-size="12" text-anchor="end" font-weight="normal" fill="#333">no coating</text>
<text transform="translate(113.6,580.2) rotate(-45)" x="0" y="0" font-size="12" text-anchor="end" font-weight="normal" fill="#333">&#945;CD43</text>
<text transform="translate(131.5,580.2) rotate(-45)" x="0" y="0" font-size="12" text-anchor="end" font-weight="normal" fill="#333">&#945;CD44</text>
<text transform="translate(149.4,580.2) rotate(-45)" x="0" y="0" font-size="12" text-anchor="end" font-weight="normal" fill="#333">fibronectin</text>
<text transform="translate(167.3,580.2) rotate(-45)" x="0" y="0" font-size="12" text-anchor="end" font-weight="normal" fill="#333">retronectin</text>
<text transform="translate(185.2,580.2) rotate(-45)" x="0" y="0" font-size="12" text-anchor="end" font-weight="normal" fill="#333">poly-L-lysine</text>
<text x="304.3" y="492.6" font-size="17.5" text-anchor="start" font-weight="bold" fill="#111" textLength="13.2" lengthAdjust="spacingAndGlyphs" stroke="#111" stroke-width="0.55">G</text>
<line x1="374" y1="503.6" x2="374" y2="552.7" stroke="#111" stroke-width="1.5"/>
<line x1="373.3" y1="552.0" x2="461.3" y2="552.0" stroke="#111" stroke-width="1.5"/>
<line x1="370" y1="552.0" x2="374" y2="552.0" stroke="#111" stroke-width="1.2"/>
<text x="366.5" y="556.0" font-size="11.4" text-anchor="end" font-weight="normal" fill="#333" >0</text>
<line x1="370" y1="538.4" x2="374" y2="538.4" stroke="#111" stroke-width="1.2"/>
<text x="366.5" y="542.4" font-size="11.4" text-anchor="end" font-weight="normal" fill="#333" >20</text>
<line x1="370" y1="524.8" x2="374" y2="524.8" stroke="#111" stroke-width="1.2"/>
<text x="366.5" y="528.8" font-size="11.4" text-anchor="end" font-weight="normal" fill="#333" >40</text>
<line x1="370" y1="511.2" x2="374" y2="511.2" stroke="#111" stroke-width="1.2"/>
<text x="366.5" y="515.2" font-size="11.4" text-anchor="end" font-weight="normal" fill="#333" >60</text>
<rect x="377.1" y="511.9" width="9" height="40.1" fill="#aa0533"/>
<line x1="381.6" y1="510.2" x2="381.6" y2="511.9" stroke="#7a0a28" stroke-width="1"/>
<line x1="379.3" y1="510.2" x2="383.9" y2="510.2" stroke="#7a0a28" stroke-width="1.2"/>
<line x1="381.6" y1="552.0" x2="381.6" y2="556" stroke="#111" stroke-width="1.2"/>
<line x1="396.0" y1="552.0" x2="396.0" y2="556" stroke="#111" stroke-width="1.2"/>
<rect x="405.9" y="545.9" width="9" height="6.1" fill="#aa0533"/>
<line x1="410.4" y1="544.9" x2="410.4" y2="545.9" stroke="#7a0a28" stroke-width="1"/>
<line x1="408.1" y1="544.9" x2="412.7" y2="544.9" stroke="#7a0a28" stroke-width="1.2"/>
<line x1="410.4" y1="552.0" x2="410.4" y2="556" stroke="#111" stroke-width="1.2"/>
<rect x="420.3" y="530.2" width="9" height="21.8" fill="#aa0533"/>
<line x1="424.8" y1="527.5" x2="424.8" y2="530.2" stroke="#7a0a28" stroke-width="1"/>
<line x1="422.5" y1="527.5" x2="427.1" y2="527.5" stroke="#7a0a28" stroke-width="1.2"/>
<line x1="424.8" y1="552.0" x2="424.8" y2="556" stroke="#111" stroke-width="1.2"/>
<rect x="434.7" y="535.0" width="9" height="17.0" fill="#aa0533"/>
<line x1="439.2" y1="532.6" x2="439.2" y2="535.0" stroke="#7a0a28" stroke-width="1"/>
<line x1="436.9" y1="532.6" x2="441.5" y2="532.6" stroke="#7a0a28" stroke-width="1.2"/>
<line x1="439.2" y1="552.0" x2="439.2" y2="556" stroke="#111" stroke-width="1.2"/>
<rect x="449.1" y="519.0" width="9" height="33.0" fill="#aa0533"/>
<line x1="453.6" y1="517.3" x2="453.6" y2="519.0" stroke="#7a0a28" stroke-width="1"/>
<line x1="451.3" y1="517.3" x2="455.9" y2="517.3" stroke="#7a0a28" stroke-width="1.2"/>
<line x1="453.6" y1="552.0" x2="453.6" y2="556" stroke="#111" stroke-width="1.2"/>
<path d="M394.4,530.4 V504 H424.4 V507.3" fill="none" stroke="#111" stroke-width="1.3"/>
<path d="M409.8,524.6 V507.3 H439.2 V513.5" fill="none" stroke="#111" stroke-width="1.3"/>
<path d="M420.4,513.8 H455.6" fill="none" stroke="#111" stroke-width="1.3"/>
<text transform="translate(389.3,539.0) rotate(90)" x="0" y="0" font-size="12" text-anchor="middle" font-weight="normal" fill="#444" textLength="14.3" lengthAdjust="spacingAndGlyphs">***</text>
<text transform="translate(403.4,532.1) rotate(90)" x="0" y="0" font-size="12" text-anchor="middle" font-weight="normal" fill="#444" textLength="13.8" lengthAdjust="spacingAndGlyphs">***</text>
<text transform="translate(329.9,527.4) rotate(-90)" x="0" y="0" font-size="14.3" text-anchor="middle" font-weight="normal" fill="#3a3a3a" textLength="62.5" lengthAdjust="spacingAndGlyphs">Cell identity</text>
<text transform="translate(347.4,527.4) rotate(-90)" x="0" y="0" font-size="14.3" text-anchor="middle" font-weight="normal" fill="#3a3a3a" textLength="40" lengthAdjust="spacingAndGlyphs">loss [%]</text>
<text transform="translate(384.9,565.0) rotate(-45)" x="0" y="0" font-size="12" text-anchor="end" font-weight="normal" fill="#333">no coating</text>
<text transform="translate(399.3,565.0) rotate(-45)" x="0" y="0" font-size="12" text-anchor="end" font-weight="normal" fill="#333">&#945;CD43</text>
<text transform="translate(413.7,565.0) rotate(-45)" x="0" y="0" font-size="12" text-anchor="end" font-weight="normal" fill="#333">&#945;CD44</text>
<text transform="translate(428.1,565.0) rotate(-45)" x="0" y="0" font-size="12" text-anchor="end" font-weight="normal" fill="#333">fibronectin</text>
<text transform="translate(442.5,565.0) rotate(-45)" x="0" y="0" font-size="12" text-anchor="end" font-weight="normal" fill="#333">retronectin</text>
<text transform="translate(456.9,565.0) rotate(-45)" x="0" y="0" font-size="12" text-anchor="end" font-weight="normal" fill="#333">poly-L-lysine</text>
</svg>
</body></html>
